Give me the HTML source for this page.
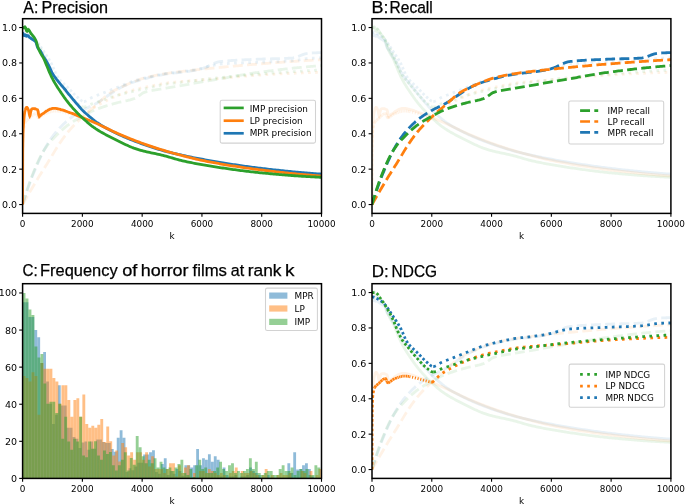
<!DOCTYPE html>
<html lang="en"><head><meta charset="utf-8"><title>Precision, Recall, Frequency, NDCG</title>
<style>html,body{margin:0;padding:0;background:#fff}svg{display:block}</style></head>
<body>
<svg width="685" height="504" viewBox="0 0 685 504" style="display:block">
<rect width="685" height="504" fill="#fff"/>
<defs>
<clipPath id="clipA"><rect x="22.6" y="18.7" width="298.9" height="194.7"/></clipPath>
<clipPath id="clipB"><rect x="372.0" y="18.7" width="298.9" height="194.7"/></clipPath>
<clipPath id="clipC"><rect x="22.6" y="283.7" width="298.9" height="194.7"/></clipPath>
<clipPath id="clipD"><rect x="372.0" y="283.7" width="298.9" height="194.7"/></clipPath>
</defs>
<g font-family="DejaVu Sans, Liberation Sans, sans-serif" font-size="8.85" fill="#000">
<g clip-path="url(#clipA)" fill="none" stroke-width="2.8">
<path d="M22.60,204.55 22.72,204.17 22.84,203.79 22.96,203.41 23.08,203.03 23.20,202.65 23.32,202.28 23.44,201.90 23.56,201.52 23.68,201.15 23.80,200.77 23.92,200.40 24.03,200.03 24.15,199.66 24.27,199.28 24.39,198.91 24.51,198.54 24.63,198.18 24.75,197.81 24.87,197.44 24.99,197.07 25.11,196.71 25.23,196.34 25.35,195.98 25.47,195.62 25.59,195.25 25.71,194.89 25.83,194.53 25.95,194.17 26.07,193.81 26.19,193.46 26.31,193.10 26.43,192.74 26.55,192.39 26.67,192.03 26.78,191.68 26.90,191.33 27.02,190.98 27.14,190.62 27.26,190.27 27.38,189.93 27.50,189.58 27.62,189.23 27.74,188.89 27.86,188.54 27.98,188.20 28.10,187.85 28.22,187.51 28.34,187.17 28.46,186.83 28.58,186.49 28.70,186.15 28.82,185.82 28.94,185.48 29.06,185.15 29.18,184.81 29.30,184.48 29.41,184.15 29.53,183.82 29.65,183.49 29.77,183.16 29.89,182.83 30.01,182.51 30.13,182.18 30.25,181.86 30.37,181.54 30.49,181.22 30.61,180.90 30.73,180.58 30.85,180.26 30.97,179.94 31.09,179.62 31.21,179.31 31.33,179.00 31.45,178.68 31.57,178.37 32.16,176.84 32.76,175.33 33.36,173.83 33.96,172.36 34.56,170.89 35.15,169.45 35.75,168.02 36.35,166.61 36.95,165.22 37.55,163.84 38.14,162.49 38.74,161.15 39.34,159.84 39.94,158.54 40.53,157.26 41.13,156.01 41.73,154.78 42.33,153.57 42.93,152.38 43.52,151.21 44.12,150.07 44.72,148.95 45.32,147.85 45.91,146.76 46.51,145.69 47.11,144.65 47.71,143.62 48.31,142.62 48.90,141.65 49.50,140.71 50.10,139.81 50.70,138.94 51.29,138.10 51.89,137.30 52.49,136.52 53.09,135.74 53.69,134.98 54.28,134.23 54.88,133.49 55.48,132.76 56.08,132.05 56.67,131.34 57.27,130.65 57.87,129.97 58.47,129.30 59.07,128.64 59.66,127.99 60.26,127.36 60.86,126.73 61.46,126.12 62.05,125.51 62.65,124.92 63.25,124.34 63.85,123.77 64.45,123.21 65.04,122.66 65.64,122.12 66.24,121.59 66.84,121.07 67.44,120.56 68.03,120.07 68.63,119.58 69.23,119.10 69.83,118.64 70.42,118.18 71.02,117.73 71.62,117.29 72.22,116.86 72.82,116.43 73.41,116.02 74.01,115.61 74.61,115.21 75.21,114.81 75.80,114.42 76.40,114.04 77.00,113.66 77.60,113.29 78.20,112.92 78.79,112.55 79.39,112.19 79.99,111.84 80.59,111.48 81.18,111.13 81.78,110.78 82.38,110.44 82.98,110.10 83.58,109.77 84.17,109.44 84.77,109.13 85.37,108.82 85.97,108.52 86.56,108.22 87.16,107.93 87.76,107.64 88.36,107.36 88.96,107.08 89.55,106.79 90.15,106.51 90.75,106.23 91.35,105.94 91.94,105.66 92.54,105.37 93.14,105.07 93.74,104.77 94.34,104.46 94.93,104.15 95.53,103.83 96.13,103.50 96.73,103.16 97.32,102.81 98.82,101.90 100.31,100.92 101.81,99.91 103.30,98.87 104.80,97.82 106.29,96.77 107.79,95.73 109.28,94.72 110.78,93.76 112.27,92.82 113.76,91.87 115.26,90.92 116.75,89.98 118.25,89.06 119.74,88.17 121.24,87.31 122.73,86.51 124.23,85.78 125.72,85.11 127.21,84.49 128.71,83.90 130.20,83.33 131.70,82.79 133.19,82.26 134.69,81.76 136.18,81.28 137.68,80.82 139.17,80.37 140.67,79.93 142.16,79.51 143.65,79.10 145.15,78.69 146.64,78.29 148.14,77.90 149.63,77.51 151.13,77.13 152.62,76.76 154.12,76.40 155.61,76.05 157.10,75.71 158.60,75.39 160.09,75.08 161.59,74.79 163.08,74.52 164.58,74.27 166.07,74.04 167.57,73.83 169.06,73.63 170.56,73.46 172.05,73.29 173.54,73.13 175.04,72.97 176.53,72.81 178.03,72.64 179.52,72.47 181.02,72.29 182.51,72.10 184.01,71.92 185.50,71.73 187.00,71.53 188.49,71.31 189.98,71.08 191.48,70.84 192.97,70.58 194.47,70.31 195.96,70.02 197.46,69.71 198.95,69.38 200.45,69.03 201.94,68.65 203.43,68.17 204.93,67.60 206.42,66.96 207.92,66.27 209.41,65.56 210.91,64.84 212.40,64.13 213.90,63.47 215.39,62.86 216.88,62.33 218.38,61.91 219.87,61.61 221.37,61.43 222.86,61.27 224.36,61.12 225.85,60.97 227.35,60.84 228.84,60.72 230.34,60.60 231.83,60.49 233.32,60.38 234.82,60.29 236.31,60.20 237.81,60.11 239.30,60.03 240.80,59.95 242.29,59.88 243.79,59.81 245.28,59.74 246.77,59.67 248.27,59.61 249.76,59.55 251.26,59.49 252.75,59.43 254.25,59.36 255.74,59.30 257.24,59.24 258.73,59.17 260.23,59.11 261.72,59.06 263.21,59.01 264.71,58.96 266.20,58.92 267.70,58.88 269.19,58.84 270.69,58.81 272.18,58.77 273.68,58.74 275.17,58.71 276.66,58.67 278.16,58.63 279.65,58.59 281.15,58.54 282.64,58.49 284.14,58.44 285.63,58.38 287.13,58.31 288.62,58.23 290.12,58.15 291.61,58.05 293.10,57.90 294.60,57.61 296.09,57.19 297.59,56.68 299.08,56.11 300.58,55.52 302.07,54.93 303.57,54.38 305.06,53.90 306.56,53.52 308.05,53.27 309.54,53.15 311.04,53.06 312.53,52.97 314.03,52.89 315.52,52.82 317.02,52.76 318.51,52.72 320.01,52.69 321.50,52.68" stroke="#1f77b4" stroke-opacity="0.1" stroke-dasharray="9.92 4.29"/>
<path d="M22.60,204.55 22.72,204.34 22.84,204.13 22.96,203.92 23.08,203.70 23.20,203.49 23.32,203.28 23.44,203.07 23.56,202.86 23.68,202.65 23.80,202.44 23.92,202.23 24.03,202.02 24.15,201.81 24.27,201.60 24.39,201.39 24.51,201.18 24.63,200.97 24.75,200.76 24.87,200.55 24.99,200.34 25.11,200.13 25.23,199.92 25.35,199.71 25.47,199.50 25.59,199.30 25.71,199.09 25.83,198.88 25.95,198.67 26.07,198.46 26.19,198.25 26.31,198.05 26.43,197.84 26.55,197.63 26.67,197.42 26.78,197.21 26.90,197.01 27.02,196.80 27.14,196.59 27.26,196.39 27.38,196.18 27.50,195.97 27.62,195.76 27.74,195.56 27.86,195.35 27.98,195.14 28.10,194.94 28.22,194.73 28.34,194.53 28.46,194.32 28.58,194.11 28.70,193.91 28.82,193.70 28.94,193.50 29.06,193.29 29.18,193.09 29.30,192.88 29.41,192.68 29.53,192.47 29.65,192.27 29.77,192.06 29.89,191.86 30.01,191.65 30.13,191.45 30.25,191.24 30.37,191.04 30.49,190.84 30.61,190.63 30.73,190.43 30.85,190.23 30.97,190.02 31.09,189.82 31.21,189.62 31.33,189.41 31.45,189.21 31.57,189.01 32.16,187.99 32.76,186.98 33.36,185.98 33.96,184.97 34.56,183.97 35.15,182.97 35.75,181.97 36.35,180.98 36.95,179.99 37.55,179.00 38.14,178.02 38.74,177.05 39.34,176.08 39.94,175.11 40.53,174.15 41.13,173.19 41.73,172.24 42.33,171.29 42.93,170.34 43.52,169.39 44.12,168.44 44.72,167.50 45.32,166.55 45.91,165.60 46.51,164.65 47.11,163.69 47.71,162.74 48.31,161.78 48.90,160.82 49.50,159.85 50.10,158.86 50.70,157.87 51.29,156.88 51.89,155.88 52.49,154.87 53.09,153.87 53.69,152.86 54.28,151.86 54.88,150.87 55.48,149.89 56.08,148.91 56.67,147.95 57.27,147.01 57.87,146.08 58.47,145.17 59.07,144.28 59.66,143.39 60.26,142.51 60.86,141.64 61.46,140.77 62.05,139.91 62.65,139.06 63.25,138.23 63.85,137.40 64.45,136.58 65.04,135.78 65.64,134.99 66.24,134.21 66.84,133.45 67.44,132.71 68.03,131.98 68.63,131.27 69.23,130.57 69.83,129.88 70.42,129.20 71.02,128.53 71.62,127.86 72.22,127.21 72.82,126.57 73.41,125.93 74.01,125.30 74.61,124.67 75.21,124.06 75.80,123.45 76.40,122.84 77.00,122.24 77.60,121.65 78.20,121.06 78.79,120.47 79.39,119.89 79.99,119.31 80.59,118.74 81.18,118.16 81.78,117.59 82.38,117.02 82.98,116.45 83.58,115.89 84.17,115.34 84.77,114.79 85.37,114.24 85.97,113.70 86.56,113.17 87.16,112.64 87.76,112.11 88.36,111.59 88.96,111.07 89.55,110.55 90.15,110.03 90.75,109.52 91.35,109.01 91.94,108.50 92.54,107.99 93.14,107.48 93.74,106.97 94.34,106.46 94.93,105.95 95.53,105.44 96.13,104.93 96.73,104.42 97.32,103.90 98.82,102.58 100.31,101.22 101.81,99.85 103.30,98.49 104.80,97.16 106.29,95.88 107.79,94.66 109.28,93.54 110.78,92.52 112.27,91.61 113.76,90.75 115.26,89.94 116.75,89.17 118.25,88.44 119.74,87.74 121.24,87.07 122.73,86.41 124.23,85.76 125.72,85.11 127.21,84.46 128.71,83.82 130.20,83.18 131.70,82.55 133.19,81.94 134.69,81.34 136.18,80.76 137.68,80.19 139.17,79.66 140.67,79.15 142.16,78.67 143.65,78.22 145.15,77.81 146.64,77.42 148.14,77.04 149.63,76.68 151.13,76.33 152.62,75.99 154.12,75.67 155.61,75.37 157.10,75.07 158.60,74.79 160.09,74.51 161.59,74.25 163.08,74.00 164.58,73.76 166.07,73.52 167.57,73.30 169.06,73.09 170.56,72.89 172.05,72.69 173.54,72.50 175.04,72.31 176.53,72.13 178.03,71.95 179.52,71.76 181.02,71.58 182.51,71.40 184.01,71.23 185.50,71.05 187.00,70.88 188.49,70.70 189.98,70.53 191.48,70.37 192.97,70.20 194.47,70.04 195.96,69.87 197.46,69.71 198.95,69.55 200.45,69.39 201.94,69.24 203.43,69.08 204.93,68.93 206.42,68.77 207.92,68.62 209.41,68.47 210.91,68.32 212.40,68.17 213.90,68.02 215.39,67.88 216.88,67.73 218.38,67.58 219.87,67.44 221.37,67.30 222.86,67.15 224.36,67.01 225.85,66.87 227.35,66.73 228.84,66.59 230.34,66.45 231.83,66.31 233.32,66.17 234.82,66.04 236.31,65.90 237.81,65.77 239.30,65.63 240.80,65.50 242.29,65.37 243.79,65.24 245.28,65.11 246.77,64.98 248.27,64.86 249.76,64.73 251.26,64.61 252.75,64.48 254.25,64.36 255.74,64.24 257.24,64.12 258.73,64.00 260.23,63.89 261.72,63.77 263.21,63.65 264.71,63.54 266.20,63.42 267.70,63.31 269.19,63.19 270.69,63.08 272.18,62.97 273.68,62.85 275.17,62.74 276.66,62.63 278.16,62.52 279.65,62.41 281.15,62.30 282.64,62.19 284.14,62.09 285.63,61.98 287.13,61.87 288.62,61.77 290.12,61.66 291.61,61.56 293.10,61.45 294.60,61.35 296.09,61.25 297.59,61.15 299.08,61.05 300.58,60.95 302.07,60.85 303.57,60.75 305.06,60.66 306.56,60.56 308.05,60.47 309.54,60.37 311.04,60.28 312.53,60.19 314.03,60.10 315.52,60.01 317.02,59.92 318.51,59.83 320.01,59.74 321.50,59.66" stroke="#ff7f0e" stroke-opacity="0.1" stroke-dasharray="9.92 4.29"/>
<path d="M22.60,204.55 22.72,204.14 22.84,203.73 22.96,203.32 23.08,202.91 23.20,202.50 23.32,202.09 23.44,201.68 23.56,201.28 23.68,200.87 23.80,200.47 23.92,200.07 24.03,199.67 24.15,199.27 24.27,198.87 24.39,198.47 24.51,198.07 24.63,197.67 24.75,197.28 24.87,196.89 24.99,196.49 25.11,196.10 25.23,195.71 25.35,195.32 25.47,194.93 25.59,194.54 25.71,194.16 25.83,193.77 25.95,193.39 26.07,193.01 26.19,192.63 26.31,192.25 26.43,191.87 26.55,191.49 26.67,191.11 26.78,190.74 26.90,190.37 27.02,189.99 27.14,189.62 27.26,189.25 27.38,188.89 27.50,188.52 27.62,188.15 27.74,187.79 27.86,187.43 27.98,187.07 28.10,186.71 28.22,186.35 28.34,185.99 28.46,185.64 28.58,185.28 28.70,184.93 28.82,184.58 28.94,184.23 29.06,183.88 29.18,183.54 29.30,183.19 29.41,182.85 29.53,182.51 29.65,182.17 29.77,181.83 29.89,181.49 30.01,181.16 30.13,180.82 30.25,180.49 30.37,180.16 30.49,179.83 30.61,179.51 30.73,179.18 30.85,178.86 30.97,178.54 31.09,178.22 31.21,177.90 31.33,177.58 31.45,177.27 31.57,176.95 32.16,175.42 32.76,173.92 33.36,172.44 33.96,170.97 34.56,169.52 35.15,168.09 35.75,166.68 36.35,165.29 36.95,163.92 37.55,162.58 38.14,161.27 38.74,159.98 39.34,158.73 39.94,157.51 40.53,156.32 41.13,155.16 41.73,154.05 42.33,152.97 42.93,151.94 43.52,150.95 44.12,150.00 44.72,149.10 45.32,148.22 45.91,147.37 46.51,146.55 47.11,145.75 47.71,144.98 48.31,144.22 48.90,143.49 49.50,142.77 50.10,142.08 50.70,141.39 51.29,140.72 51.89,140.07 52.49,139.42 53.09,138.79 53.69,138.16 54.28,137.54 54.88,136.92 55.48,136.31 56.08,135.70 56.67,135.10 57.27,134.49 57.87,133.90 58.47,133.31 59.07,132.73 59.66,132.15 60.26,131.58 60.86,131.02 61.46,130.47 62.05,129.92 62.65,129.39 63.25,128.86 63.85,128.34 64.45,127.84 65.04,127.34 65.64,126.85 66.24,126.37 66.84,125.91 67.44,125.45 68.03,125.01 68.63,124.58 69.23,124.15 69.83,123.74 70.42,123.33 71.02,122.93 71.62,122.54 72.22,122.15 72.82,121.77 73.41,121.40 74.01,121.03 74.61,120.67 75.21,120.31 75.80,119.96 76.40,119.61 77.00,119.26 77.60,118.92 78.20,118.58 78.79,118.25 79.39,117.92 79.99,117.59 80.59,117.26 81.18,116.93 81.78,116.60 82.38,116.28 82.98,115.95 83.58,115.62 84.17,115.30 84.77,114.97 85.37,114.65 85.97,114.33 86.56,114.01 87.16,113.69 87.76,113.37 88.36,113.06 88.96,112.75 89.55,112.45 90.15,112.14 90.75,111.85 91.35,111.55 91.94,111.26 92.54,110.98 93.14,110.70 93.74,110.43 94.34,110.16 94.93,109.91 95.53,109.65 96.13,109.41 96.73,109.17 97.32,108.94 98.82,108.38 100.31,107.84 101.81,107.33 103.30,106.83 104.80,106.35 106.29,105.89 107.79,105.43 109.28,104.99 110.78,104.56 112.27,104.14 113.76,103.71 115.26,103.30 116.75,102.89 118.25,102.51 119.74,102.16 121.24,101.84 122.73,101.52 124.23,101.21 125.72,100.90 127.21,100.57 128.71,100.22 130.20,99.84 131.70,99.42 133.19,98.95 134.69,98.43 136.18,97.74 137.68,96.77 139.17,95.66 140.67,94.52 142.16,93.47 143.65,92.64 145.15,92.12 146.64,91.70 148.14,91.32 149.63,90.98 151.13,90.68 152.62,90.40 154.12,90.14 155.61,89.90 157.10,89.66 158.60,89.43 160.09,89.20 161.59,88.96 163.08,88.70 164.58,88.42 166.07,88.15 167.57,87.88 169.06,87.62 170.56,87.36 172.05,87.10 173.54,86.84 175.04,86.58 176.53,86.32 178.03,86.07 179.52,85.81 181.02,85.55 182.51,85.29 184.01,85.03 185.50,84.77 187.00,84.51 188.49,84.26 189.98,84.00 191.48,83.74 192.97,83.49 194.47,83.23 195.96,82.97 197.46,82.72 198.95,82.46 200.45,82.21 201.94,81.95 203.43,81.70 204.93,81.44 206.42,81.19 207.92,80.93 209.41,80.68 210.91,80.42 212.40,80.17 213.90,79.91 215.39,79.65 216.88,79.39 218.38,79.13 219.87,78.86 221.37,78.60 222.86,78.33 224.36,78.06 225.85,77.79 227.35,77.51 228.84,77.24 230.34,76.97 231.83,76.70 233.32,76.43 234.82,76.16 236.31,75.89 237.81,75.63 239.30,75.37 240.80,75.11 242.29,74.85 243.79,74.59 245.28,74.34 246.77,74.10 248.27,73.86 249.76,73.62 251.26,73.39 252.75,73.16 254.25,72.94 255.74,72.72 257.24,72.52 258.73,72.32 260.23,72.12 261.72,71.92 263.21,71.73 264.71,71.53 266.20,71.34 267.70,71.15 269.19,70.96 270.69,70.77 272.18,70.58 273.68,70.39 275.17,70.21 276.66,70.03 278.16,69.85 279.65,69.67 281.15,69.49 282.64,69.32 284.14,69.14 285.63,68.97 287.13,68.80 288.62,68.64 290.12,68.47 291.61,68.31 293.10,68.15 294.60,67.99 296.09,67.84 297.59,67.68 299.08,67.53 300.58,67.38 302.07,67.24 303.57,67.10 305.06,66.96 306.56,66.82 308.05,66.68 309.54,66.55 311.04,66.42 312.53,66.30 314.03,66.17 315.52,66.05 317.02,65.94 318.51,65.82 320.01,65.71 321.50,65.60" stroke="#2ca02c" stroke-opacity="0.1" stroke-dasharray="9.92 4.29"/>
<path d="M22.60,31.80 22.72,31.81 22.84,31.83 22.96,31.84 23.08,31.86 23.20,31.88 23.32,31.91 23.44,31.93 23.56,31.95 23.68,31.98 23.80,32.01 23.92,32.04 24.03,32.07 24.15,32.10 24.27,32.13 24.39,32.16 24.51,32.20 24.63,32.24 24.75,32.28 24.87,32.31 24.99,32.36 25.11,32.40 25.23,32.44 25.35,32.48 25.47,32.53 25.59,32.58 25.71,32.62 25.83,32.67 25.95,32.72 26.07,32.77 26.19,32.83 26.31,32.88 26.43,32.93 26.55,32.99 26.67,33.04 26.78,33.10 26.90,33.16 27.02,33.22 27.14,33.28 27.26,33.34 27.38,33.40 27.50,33.46 27.62,33.53 27.74,33.59 27.86,33.66 27.98,33.72 28.10,33.79 28.22,33.86 28.34,33.93 28.46,34.00 28.58,34.07 28.70,34.14 28.82,34.21 28.94,34.28 29.06,34.35 29.18,34.42 29.30,34.50 29.41,34.57 29.53,34.65 29.65,34.72 29.77,34.80 29.89,34.88 30.01,34.95 30.13,35.03 30.25,35.11 30.37,35.19 30.49,35.27 30.61,35.35 30.73,35.43 30.85,35.51 30.97,35.59 31.09,35.67 31.21,35.75 31.33,35.83 31.45,35.91 31.57,35.99 32.16,36.41 32.76,36.84 33.36,37.33 33.96,37.88 34.56,38.48 35.15,39.13 35.75,39.83 36.35,40.57 36.95,41.35 37.55,42.16 38.14,42.99 38.74,43.86 39.34,44.74 39.94,45.64 40.53,46.55 41.13,47.47 41.73,48.39 42.33,49.31 42.93,50.23 43.52,51.13 44.12,52.02 44.72,52.90 45.32,53.78 45.91,54.67 46.51,55.57 47.11,56.49 47.71,57.42 48.31,58.37 48.90,59.34 49.50,60.34 50.10,61.36 50.70,62.42 51.29,63.51 51.89,64.65 52.49,65.91 53.09,67.25 53.69,68.64 54.28,70.05 54.88,71.44 55.48,72.76 56.08,74.00 56.67,75.12 57.27,76.20 57.87,77.21 58.47,78.11 59.07,78.89 59.66,79.63 60.26,80.32 60.86,80.98 61.46,81.61 62.05,82.21 62.65,82.79 63.25,83.35 63.85,83.90 64.45,84.44 65.04,84.98 65.64,85.52 66.24,86.06 66.84,86.61 67.44,87.18 68.03,87.76 68.63,88.36 69.23,88.98 69.83,89.60 70.42,90.24 71.02,90.87 71.62,91.51 72.22,92.15 72.82,92.78 73.41,93.41 74.01,94.03 74.61,94.63 75.21,95.22 75.80,95.79 76.40,96.34 77.00,96.87 77.60,97.37 78.20,97.86 78.79,98.40 79.39,98.94 79.99,99.49 80.59,100.01 81.18,100.49 81.78,100.90 82.38,101.22 82.98,101.44 83.58,101.53 83.87,101.53" stroke="#1f77b4" stroke-opacity="0.1" stroke-dasharray="2.5 2.3"/>
<path d="M83.87,101.53 84.17,101.51 84.77,101.40 85.37,101.22 85.97,100.98 86.56,100.69 87.16,100.37 87.76,100.01 88.36,99.63 88.96,99.24 89.55,98.85 90.15,98.48 90.75,98.12 91.35,97.78 91.94,97.49 92.54,97.23 93.14,96.97 93.74,96.72 94.34,96.47 94.93,96.22 95.53,95.98 96.13,95.74 96.73,95.50 97.32,95.26 98.82,94.68 100.31,94.10 101.81,93.52 103.30,92.94 104.80,92.34 106.29,91.74 107.79,91.13 109.28,90.53 110.78,89.93 112.27,89.33 113.76,88.73 115.26,88.14 116.75,87.55 118.25,86.96 119.74,86.35 121.24,85.74 122.73,85.13 124.23,84.53 125.72,83.93 127.21,83.34 128.71,82.77 130.20,82.22 131.70,81.69 133.19,81.19 134.69,80.71 136.18,80.27 137.68,79.84 139.17,79.43 140.67,79.03 142.16,78.64 143.65,78.26 145.15,77.90 146.64,77.54 148.14,77.19 149.63,76.85 151.13,76.51 152.62,76.17 154.12,75.84 155.61,75.50 157.10,75.16 158.60,74.83 160.09,74.50 161.59,74.19 163.08,73.91 164.58,73.65 166.07,73.42 167.57,73.22 169.06,73.04 170.56,72.87 172.05,72.72 173.54,72.57 175.04,72.42 176.53,72.27 178.03,72.11 179.52,71.94 181.02,71.76 182.51,71.57 184.01,71.38 185.50,71.18 187.00,70.98 188.49,70.77 189.98,70.56 191.48,70.33 192.97,70.10 194.47,69.86 195.96,69.61 197.46,69.35 198.95,69.04 200.45,68.69 201.94,68.31 203.43,67.91 204.93,67.50 206.42,67.08 207.92,66.65 209.41,66.23 210.91,65.82 212.40,65.44 213.90,65.08 215.39,64.76 216.88,64.47 218.38,64.24 219.87,64.06 221.37,63.94 222.86,63.83 224.36,63.72 225.85,63.62 227.35,63.53 228.84,63.44 230.34,63.36 231.83,63.28 233.32,63.21 234.82,63.14 236.31,63.08 237.81,63.02 239.30,62.96 240.80,62.90 242.29,62.85 243.79,62.79 245.28,62.74 246.77,62.69 248.27,62.64 249.76,62.59 251.26,62.53 252.75,62.48 254.25,62.42 255.74,62.36 257.24,62.30 258.73,62.24 260.23,62.17 261.72,62.11 263.21,62.06 264.71,62.00 266.20,61.95 267.70,61.90 269.19,61.85 270.69,61.80 272.18,61.75 273.68,61.70 275.17,61.64 276.66,61.59 278.16,61.54 279.65,61.48 281.15,61.42 282.64,61.35 284.14,61.28 285.63,61.21 287.13,61.13 288.62,61.04 290.12,60.95 291.61,60.85 293.10,60.73 294.60,60.56 296.09,60.34 297.59,60.09 299.08,59.82 300.58,59.55 302.07,59.28 303.57,59.02 305.06,58.80 306.56,58.61 308.05,58.47 309.54,58.39 311.04,58.31 312.53,58.24 314.03,58.17 315.52,58.11 317.02,58.06 318.51,58.03 320.01,58.00 321.50,57.99" stroke="#1f77b4" stroke-opacity="0.1" stroke-dasharray="2.68 4.42"/>
<path d="M22.60,204.55 22.72,151.45 22.84,144.60 22.96,139.53 23.08,135.93 23.20,133.48 23.32,131.84 23.44,130.70 23.56,129.74 23.68,128.86 23.80,128.06 23.92,127.33 24.03,126.66 24.15,126.05 24.27,125.51 24.39,125.01 24.51,124.57 24.63,124.17 24.75,123.81 24.87,123.49 24.99,123.19 25.11,122.93 25.23,122.69 25.29,122.58" stroke="#ff7f0e" stroke-opacity="0.1" stroke-dasharray="2.68 2.1"/>
<path d="M25.29,122.58 25.35,122.47 25.47,122.27 25.59,122.08 25.71,121.89 25.83,121.72 25.95,121.55 26.07,121.39 26.19,121.24 26.31,121.10 26.43,120.96 26.55,120.83 26.67,120.71 26.78,120.59 26.90,120.48 27.02,120.37 27.14,120.26 27.26,120.16 27.38,120.06 27.50,119.97 27.62,119.87 27.74,119.78 27.86,119.69 27.98,119.60 28.10,119.51 28.22,119.41 28.34,119.32 28.46,119.23 28.58,119.13 28.70,119.03 28.82,118.93 28.94,118.83 29.06,118.72 29.18,118.62 29.30,118.51 29.41,118.40 29.53,118.28 29.65,118.17 29.77,118.06 29.89,117.94 30.01,117.82 30.13,117.71 30.25,117.59 30.37,117.47 30.49,117.35 30.61,117.23 30.73,117.11 30.85,117.00 30.97,116.88 31.09,116.76 31.21,116.64 31.33,116.52 31.45,116.40 31.57,116.29 32.16,115.72 32.76,115.19 33.36,114.70 33.96,114.29 34.56,113.95 35.15,113.71 35.75,113.59 36.35,113.75 36.95,114.92 37.55,116.48 37.69,116.83" stroke="#ff7f0e" stroke-opacity="0.1" stroke-dasharray="2.4 0.4"/>
<path d="M37.69,116.83 38.14,117.64 38.74,117.80" stroke="#ff7f0e" stroke-opacity="0.1" stroke-dasharray="2.68 4.42"/>
<path d="M38.74,117.80 39.34,117.64 39.94,117.35 40.53,116.96 41.13,116.51 41.73,116.01 42.33,115.51 42.93,115.02 43.52,114.59 44.12,114.24 44.72,113.98 45.32,113.74 45.91,113.50 46.51,113.26 47.11,113.02 47.71,112.79 48.01,112.68" stroke="#ff7f0e" stroke-opacity="0.1" stroke-dasharray="2.2 0.5"/>
<path d="M48.01,112.68 48.31,112.57 48.90,112.35 49.50,112.15 50.10,111.96 50.70,111.78 51.29,111.62 51.89,111.48 52.49,111.35 53.09,111.25 53.69,111.17 54.28,111.12 54.88,111.10 55.48,111.10 56.08,111.12 56.67,111.15 57.27,111.21 57.87,111.27 58.47,111.35 59.07,111.44 59.66,111.55 59.96,111.60" stroke="#ff7f0e" stroke-opacity="0.1" stroke-dasharray="1.3 0.45"/>
<path d="M59.96,111.60 60.26,111.66 60.86,111.78 61.46,111.91 62.05,112.05 62.65,112.19 63.25,112.33 63.85,112.48 64.45,112.63 65.04,112.79 65.64,112.94 66.24,113.09 66.84,113.24 67.44,113.38 68.03,113.52 68.63,113.66 69.23,113.81 69.83,113.97 70.42,114.14 71.02,114.31 71.62,114.49 72.22,114.67 72.82,114.85 73.41,115.03 74.01,115.22 74.61,115.39 75.21,115.57 75.80,115.74 76.40,115.90 77.00,116.05 77.60,116.19 78.20,116.32 78.79,116.47 79.39,116.62 79.99,116.76 80.59,116.89 81.18,117.00 81.78,117.07 82.38,117.11" stroke="#ff7f0e" stroke-opacity="0.1" stroke-dasharray="1.1 1.7"/>
<path d="M82.38,117.11 82.98,117.04 83.58,116.75 84.17,116.29 84.77,115.70 85.37,115.03 85.97,114.34 86.56,113.67 87.16,113.08 87.76,112.57 88.36,112.06 88.96,111.54 89.55,111.03 90.15,110.52 90.75,110.02 91.35,109.53 91.94,109.06 92.54,108.60 93.14,108.17 93.74,107.76 94.34,107.36 94.93,106.98 95.53,106.62 96.13,106.26 96.73,105.91 97.32,105.57 98.82,104.73 100.31,103.90 101.81,103.08 103.30,102.27 104.80,101.48 106.29,100.71 107.79,99.95 109.28,99.21 110.78,98.49 112.27,97.79 113.76,97.12 115.26,96.48 116.75,95.86 118.25,95.24 119.74,94.65 121.24,94.06 122.73,93.48 124.23,92.93 125.72,92.38 127.21,91.86 128.71,91.36 130.20,90.87 131.70,90.41 133.19,89.97 134.69,89.56 136.18,89.17 137.68,88.80 139.17,88.45 140.67,88.11 142.16,87.79 143.65,87.48 145.15,87.17 146.64,86.88 148.14,86.58 149.63,86.29 151.13,86.00 152.62,85.70 154.12,85.40 155.61,85.09 157.10,84.76 158.60,84.44 160.09,84.12 161.59,83.82 163.08,83.54 164.58,83.29 166.07,83.07 167.57,82.87 169.06,82.69 170.56,82.52 172.05,82.36 173.54,82.20 175.04,82.06 176.53,81.92 178.03,81.78 179.52,81.64 181.02,81.50 182.51,81.37 184.01,81.24 185.50,81.11 187.00,80.99 188.49,80.86 189.98,80.74 191.48,80.63 192.97,80.51 194.47,80.40 195.96,80.28 197.46,80.17 198.95,80.06 200.45,79.95 201.94,79.84 203.43,79.73 204.93,79.62 206.42,79.50 207.92,79.39 209.41,79.28 210.91,79.16 212.40,79.04 213.90,78.92 215.39,78.80 216.88,78.67 218.38,78.54 219.87,78.41 221.37,78.28 222.86,78.14 224.36,78.01 225.85,77.87 227.35,77.73 228.84,77.60 230.34,77.46 231.83,77.32 233.32,77.18 234.82,77.05 236.31,76.91 237.81,76.78 239.30,76.64 240.80,76.51 242.29,76.38 243.79,76.25 245.28,76.13 246.77,76.01 248.27,75.89 249.76,75.77 251.26,75.66 252.75,75.55 254.25,75.44 255.74,75.34 257.24,75.25 258.73,75.16 260.23,75.07 261.72,74.98 263.21,74.89 264.71,74.80 266.20,74.72 267.70,74.63 269.19,74.55 270.69,74.46 272.18,74.38 273.68,74.30 275.17,74.21 276.66,74.13 278.16,74.05 279.65,73.97 281.15,73.90 282.64,73.82 284.14,73.74 285.63,73.67 287.13,73.59 288.62,73.52 290.12,73.45 291.61,73.38 293.10,73.31 294.60,73.25 296.09,73.18 297.59,73.12 299.08,73.06 300.58,72.99 302.07,72.94 303.57,72.88 305.06,72.82 306.56,72.77 308.05,72.72 309.54,72.67 311.04,72.62 312.53,72.57 314.03,72.52 315.52,72.48 317.02,72.44 318.51,72.40 320.01,72.37 321.50,72.33" stroke="#ff7f0e" stroke-opacity="0.1" stroke-dasharray="2.68 4.42"/>
<path d="M22.60,27.55 22.72,27.55 22.84,27.55 22.96,27.55 23.08,27.55 23.20,27.55 23.32,27.55 23.44,27.55 23.56,27.55 23.68,27.55 23.80,27.55 23.92,27.55 24.03,27.55 24.15,27.55 24.27,27.55 24.39,27.55 24.51,27.55 24.63,27.55 24.75,27.55 24.87,27.55 24.99,27.55 25.11,27.55 25.23,27.55 25.35,27.55 25.47,27.55 25.59,27.55 25.71,27.55 25.83,27.57 25.95,27.59 26.07,27.62 26.19,27.65 26.31,27.70 26.43,27.75 26.55,27.81 26.67,27.88 26.78,27.95 26.90,28.03 27.02,28.12 27.14,28.21 27.26,28.31 27.38,28.41 27.50,28.52 27.62,28.64 27.74,28.76 27.86,28.88 27.98,29.01 28.10,29.15 28.22,29.29 28.34,29.43 28.46,29.58 28.58,29.73 28.70,29.89 28.82,30.04 28.94,30.21 29.06,30.37 29.18,30.54 29.30,30.71 29.41,30.88 29.53,31.05 29.65,31.23 29.77,31.41 29.89,31.59 30.01,31.77 30.13,31.95 30.25,32.13 30.37,32.31 30.49,32.50 30.61,32.68 30.73,32.87 30.85,33.05 30.97,33.23 31.09,33.42 31.21,33.60 31.33,33.78 31.45,33.96 31.57,34.14 32.16,35.01 32.76,35.83 33.36,36.67 33.96,37.53 34.56,38.41 35.15,39.31 35.75,40.24 36.35,41.20 36.95,42.17 37.55,43.17 38.14,44.20 38.74,45.25 39.34,46.32 39.94,47.41 40.53,48.53 41.13,49.68 41.73,50.85 42.33,52.04 42.93,53.26 43.52,54.51 44.12,55.77 44.72,57.11 45.32,58.62 45.91,60.23 46.51,61.85 47.11,63.38 47.71,64.76 48.31,66.11 48.90,67.43 49.50,68.72 50.10,69.97 50.70,71.18 51.29,72.33 51.89,73.41 52.49,74.43 53.09,75.36 53.69,76.24 54.28,77.07 54.88,77.85 55.48,78.60 56.08,79.33 56.67,80.05 57.27,80.76 57.87,81.47 58.47,82.20 59.07,82.94 59.66,83.68 60.26,84.43 60.86,85.17 61.46,85.91 62.05,86.65 62.65,87.38 63.25,88.11 63.85,88.83 64.45,89.55 65.04,90.26 65.64,90.96 66.24,91.66 66.84,92.34 67.44,93.01 68.03,93.67 68.63,94.33 69.23,94.99 69.83,95.64 70.42,96.30 71.02,96.96 71.62,97.61 72.22,98.25 72.82,98.89 73.41,99.51 74.01,100.11 74.61,100.70 75.21,101.27 75.80,101.82 76.40,102.34 77.00,102.84 77.60,103.30 78.20,103.76 78.79,104.25 79.39,104.74 79.99,105.22 80.59,105.69 81.18,106.10 81.78,106.47 82.38,106.75 82.98,106.94 83.58,107.02 83.87,107.02" stroke="#2ca02c" stroke-opacity="0.1" stroke-dasharray="2.5 2.3"/>
<path d="M83.87,107.02 84.17,107.00 84.77,106.92 85.37,106.78 85.97,106.60 86.56,106.37 87.16,106.12 87.76,105.84 88.36,105.55 88.96,105.25 89.55,104.94 90.15,104.64 90.75,104.36 91.35,104.10 91.94,103.86 92.54,103.64 93.14,103.43 93.74,103.22 94.34,103.01 94.93,102.80 95.53,102.60 96.13,102.39 96.73,102.19 97.32,101.99 98.82,101.49 100.31,100.98 101.81,100.48 103.30,99.98 104.80,99.47 106.29,98.94 107.79,98.41 109.28,97.88 110.78,97.35 112.27,96.83 113.76,96.34 115.26,95.87 116.75,95.44 118.25,95.01 119.74,94.61 121.24,94.21 122.73,93.83 124.23,93.45 125.72,93.09 127.21,92.73 128.71,92.37 130.20,92.02 131.70,91.67 133.19,91.32 134.69,90.97 136.18,90.61 137.68,90.27 139.17,89.93 140.67,89.59 142.16,89.25 143.65,88.92 145.15,88.59 146.64,88.26 148.14,87.93 149.63,87.61 151.13,87.28 152.62,86.96 154.12,86.64 155.61,86.30 157.10,85.96 158.60,85.61 160.09,85.27 161.59,84.95 163.08,84.64 164.58,84.37 166.07,84.13 167.57,83.91 169.06,83.72 170.56,83.54 172.05,83.37 173.54,83.21 175.04,83.05 176.53,82.89 178.03,82.73 179.52,82.56 181.02,82.38 182.51,82.20 184.01,82.01 185.50,81.82 187.00,81.62 188.49,81.42 189.98,81.23 191.48,81.03 192.97,80.83 194.47,80.63 195.96,80.43 197.46,80.23 198.95,80.03 200.45,79.83 201.94,79.64 203.43,79.44 204.93,79.25 206.42,79.07 207.92,78.89 209.41,78.71 210.91,78.54 212.40,78.37 213.90,78.21 215.39,78.06 216.88,77.90 218.38,77.75 219.87,77.60 221.37,77.45 222.86,77.30 224.36,77.15 225.85,77.01 227.35,76.87 228.84,76.72 230.34,76.59 231.83,76.45 233.32,76.31 234.82,76.18 236.31,76.04 237.81,75.91 239.30,75.78 240.80,75.65 242.29,75.52 243.79,75.39 245.28,75.27 246.77,75.14 248.27,75.02 249.76,74.90 251.26,74.77 252.75,74.65 254.25,74.53 255.74,74.42 257.24,74.30 258.73,74.18 260.23,74.06 261.72,73.95 263.21,73.83 264.71,73.72 266.20,73.60 267.70,73.49 269.19,73.38 270.69,73.26 272.18,73.15 273.68,73.04 275.17,72.93 276.66,72.82 278.16,72.71 279.65,72.60 281.15,72.49 282.64,72.39 284.14,72.28 285.63,72.18 287.13,72.07 288.62,71.97 290.12,71.86 291.61,71.76 293.10,71.66 294.60,71.56 296.09,71.46 297.59,71.36 299.08,71.26 300.58,71.16 302.07,71.07 303.57,70.97 305.06,70.88 306.56,70.78 308.05,70.69 309.54,70.60 311.04,70.51 312.53,70.42 314.03,70.33 315.52,70.25 317.02,70.16 318.51,70.07 320.01,69.99 321.50,69.91" stroke="#2ca02c" stroke-opacity="0.1" stroke-dasharray="2.68 4.42"/>
<path d="M22.60,32.82 22.72,33.03 22.84,33.11 22.96,33.56 23.08,33.86 23.20,34.15 23.32,34.36 23.44,34.37 23.56,34.65 23.68,34.95 23.80,35.09 23.92,35.24 24.03,35.13 24.15,35.25 24.27,35.39 24.39,35.40 24.51,35.50 24.63,35.55 24.75,35.56 24.87,35.42 24.99,35.66 25.11,35.71 25.23,35.47 25.35,35.37 25.47,35.40 25.59,35.52 25.71,35.43 25.83,35.40 25.95,35.52 26.07,35.31 26.19,35.37 26.31,35.47 26.43,35.57 26.55,35.64 26.67,35.58 26.78,35.72 26.90,35.61 27.02,35.59 27.14,35.64 27.26,35.63 27.38,35.77 27.50,35.74 27.62,35.69 27.74,35.76 27.86,35.76 27.98,35.87 28.10,36.06 28.22,36.06 28.34,36.17 28.46,36.22 28.58,36.19 28.70,36.41 28.82,36.49 28.94,36.72 29.06,36.85 29.18,37.00 29.30,37.18 29.41,37.26 29.53,37.36 29.65,37.46 29.77,37.48 29.89,37.55 30.01,37.56 30.13,37.66 30.25,37.73 30.37,37.93 30.49,38.00 30.61,38.01 30.73,38.19 30.85,38.35 30.97,38.39 31.09,38.51 31.21,38.63 31.33,38.75 31.45,38.79 31.57,38.89 32.16,39.25 32.76,39.61 33.36,39.94 33.96,40.38 34.56,40.75 35.15,41.30 35.75,41.87 36.35,43.32 36.95,45.61 37.55,47.48 38.14,48.48 38.74,49.24 39.34,49.76 39.94,50.33 40.53,51.11 41.13,52.11 41.73,53.30 42.33,54.51 42.93,55.73 43.52,56.77 44.12,57.63 44.72,58.53 45.32,59.42 45.91,60.29 46.51,61.35 47.11,62.41 47.71,63.58 48.31,64.72 48.90,65.85 49.50,67.06 50.10,68.40 50.70,69.81 51.29,71.14 51.89,72.42 52.49,73.55 53.09,74.48 53.69,75.41 54.28,76.25 54.88,77.10 55.48,77.87 56.08,78.69 56.67,79.51 57.27,80.25 57.87,80.99 58.47,81.74 59.07,82.45 59.66,83.23 60.26,83.90 60.86,84.60 61.46,85.30 62.05,85.96 62.65,86.65 63.25,87.33 63.85,88.03 64.45,88.80 65.04,89.47 65.64,90.22 66.24,91.02 66.84,91.76 67.44,92.56 68.03,93.29 68.63,94.08 69.23,94.76 69.83,95.43 70.42,96.21 71.02,96.94 71.62,97.64 72.22,98.37 72.82,99.06 73.41,99.78 74.01,100.49 74.61,101.25 75.21,101.98 75.80,102.65 76.40,103.31 77.00,104.02 77.60,104.69 78.20,105.40 78.79,106.09 79.39,106.78 79.99,107.44 80.59,108.13 81.18,108.82 81.78,109.48 82.38,110.10 82.98,110.73 83.58,111.32 84.17,111.89 84.77,112.43 85.37,113.00 85.97,113.52 86.56,114.04 87.16,114.54 87.76,115.05 88.36,115.56 88.96,116.08 89.55,116.58 90.15,117.06 90.75,117.55 91.35,118.04 91.94,118.54 92.54,119.08 93.14,119.57 93.74,120.05 94.34,120.51 94.93,121.01 95.53,121.48 96.13,121.94 96.73,122.38 97.32,122.79 98.82,123.77 100.31,124.73 101.81,125.64 103.30,126.54 104.80,127.39 106.29,128.24 107.79,129.05 109.28,129.84 110.78,130.62 112.27,131.37 113.76,132.10 115.26,132.82 116.75,133.54 118.25,134.23 119.74,134.91 121.24,135.57 122.73,136.24 124.23,136.88 125.72,137.51 127.21,138.13 128.71,138.76 130.20,139.36 131.70,139.96 133.19,140.55 134.69,141.13 136.18,141.70 137.68,142.26 139.17,142.81 140.67,143.35 142.16,143.88 143.65,144.42 145.15,144.94 146.64,145.45 148.14,145.96 149.63,146.46 151.13,146.95 152.62,147.44 154.12,147.92 155.61,148.39 157.10,148.85 158.60,149.31 160.09,149.76 161.59,150.19 163.08,150.62 164.58,151.03 166.07,151.43 167.57,151.82 169.06,152.20 170.56,152.56 172.05,152.92 173.54,153.27 175.04,153.61 176.53,153.95 178.03,154.29 179.52,154.62 181.02,154.95 182.51,155.28 184.01,155.61 185.50,155.93 187.00,156.25 188.49,156.57 189.98,156.89 191.48,157.20 192.97,157.51 194.47,157.81 195.96,158.11 197.46,158.40 198.95,158.69 200.45,158.96 201.94,159.24 203.43,159.50 204.93,159.77 206.42,160.04 207.92,160.30 209.41,160.56 210.91,160.82 212.40,161.08 213.90,161.34 215.39,161.60 216.88,161.85 218.38,162.10 219.87,162.35 221.37,162.60 222.86,162.85 224.36,163.09 225.85,163.33 227.35,163.57 228.84,163.81 230.34,164.05 231.83,164.28 233.32,164.52 234.82,164.74 236.31,164.97 237.81,165.20 239.30,165.42 240.80,165.64 242.29,165.86 243.79,166.07 245.28,166.28 246.77,166.49 248.27,166.70 249.76,166.90 251.26,167.10 252.75,167.29 254.25,167.49 255.74,167.68 257.24,167.87 258.73,168.05 260.23,168.23 261.72,168.41 263.21,168.59 264.71,168.76 266.20,168.93 267.70,169.10 269.19,169.27 270.69,169.44 272.18,169.61 273.68,169.78 275.17,169.94 276.66,170.10 278.16,170.26 279.65,170.42 281.15,170.58 282.64,170.74 284.14,170.89 285.63,171.05 287.13,171.20 288.62,171.35 290.12,171.50 291.61,171.64 293.10,171.79 294.60,171.93 296.09,172.07 297.59,172.21 299.08,172.34 300.58,172.47 302.07,172.61 303.57,172.74 305.06,172.86 306.56,172.99 308.05,173.11 309.54,173.23 311.04,173.35 312.53,173.47 314.03,173.58 315.52,173.69 317.02,173.80 318.51,173.90 320.01,174.01 321.50,174.11" stroke="#1f77b4"/>
<path d="M22.60,204.44 22.72,151.21 22.84,142.73 22.96,136.80 23.08,132.58 23.20,129.53 23.32,127.40 23.44,125.65 23.56,123.74 23.68,121.93 23.80,120.38 23.92,119.04 24.03,117.81 24.15,116.52 24.27,115.30 24.39,114.27 24.51,113.43 24.63,112.72 24.75,112.09 24.87,111.46 24.99,111.10 25.11,110.49 25.23,110.05 25.35,109.77 25.47,109.44 25.59,108.96 25.71,108.56 25.83,108.35 25.95,108.17 26.07,107.90 26.19,107.72 26.31,107.62 26.43,107.49 26.55,107.34 26.67,107.34 26.78,107.32 26.90,107.35 27.02,107.52 27.14,107.58 27.26,107.70 27.38,107.82 27.50,108.02 27.62,108.28 27.74,108.60 27.86,108.94 27.98,109.08 28.10,109.19 28.22,109.50 28.34,109.92 28.46,110.22 28.58,110.44 28.70,110.77 28.82,111.37 28.94,111.92 29.06,112.70 29.18,113.46 29.30,114.17 29.41,114.73 29.53,115.28 29.65,115.75 29.77,116.03 29.89,115.82 30.01,115.56 30.13,114.99 30.25,114.52 30.37,113.78 30.49,113.03 30.61,112.37 30.73,111.79 30.85,111.26 30.97,110.94 31.09,110.60 31.21,110.37 31.33,109.84 31.45,109.50 31.57,109.30 32.16,108.85 32.76,108.74 33.36,108.65 33.96,108.69 34.56,108.73 35.15,108.74 35.75,108.95 36.35,109.21 36.95,109.43 37.55,109.70 38.14,111.44 38.74,115.19 39.34,116.60 39.94,116.08 40.53,115.46 41.13,114.84 41.73,114.34 42.33,113.96 42.93,113.64 43.52,113.23 44.12,112.85 44.72,112.38 45.32,111.99 45.91,111.48 46.51,111.06 47.11,110.73 47.71,110.38 48.31,109.99 48.90,109.66 49.50,109.40 50.10,109.20 50.70,109.00 51.29,108.82 51.89,108.64 52.49,108.46 53.09,108.32 53.69,108.33 54.28,108.37 54.88,108.44 55.48,108.43 56.08,108.42 56.67,108.54 57.27,108.63 57.87,108.83 58.47,108.97 59.07,109.08 59.66,109.24 60.26,109.35 60.86,109.58 61.46,109.79 62.05,109.92 62.65,110.12 63.25,110.21 63.85,110.38 64.45,110.61 65.04,110.83 65.64,111.06 66.24,111.25 66.84,111.50 67.44,111.74 68.03,111.95 68.63,112.20 69.23,112.43 69.83,112.62 70.42,112.78 71.02,112.99 71.62,113.21 72.22,113.40 72.82,113.60 73.41,113.83 74.01,114.09 74.61,114.34 75.21,114.59 75.80,114.84 76.40,115.11 77.00,115.36 77.60,115.62 78.20,115.86 78.79,116.11 79.39,116.35 79.99,116.60 80.59,116.85 81.18,117.12 81.78,117.36 82.38,117.60 82.98,117.82 83.58,118.08 84.17,118.32 84.77,118.55 85.37,118.78 85.97,119.03 86.56,119.27 87.16,119.51 87.76,119.74 88.36,120.00 88.96,120.24 89.55,120.49 90.15,120.72 90.75,120.95 91.35,121.18 91.94,121.42 92.54,121.66 93.14,121.93 93.74,122.19 94.34,122.45 94.93,122.70 95.53,122.98 96.13,123.27 96.73,123.54 97.32,123.80 98.82,124.50 100.31,125.20 101.81,125.92 103.30,126.64 104.80,127.38 106.29,128.10 107.79,128.83 109.28,129.56 110.78,130.29 112.27,131.00 113.76,131.71 115.26,132.39 116.75,133.06 118.25,133.70 119.74,134.36 121.24,135.00 122.73,135.63 124.23,136.25 125.72,136.87 127.21,137.47 128.71,138.09 130.20,138.69 131.70,139.27 133.19,139.85 134.69,140.44 136.18,141.02 137.68,141.59 139.17,142.15 140.67,142.70 142.16,143.24 143.65,143.77 145.15,144.31 146.64,144.84 148.14,145.35 149.63,145.85 151.13,146.36 152.62,146.86 154.12,147.35 155.61,147.84 157.10,148.33 158.60,148.80 160.09,149.27 161.59,149.74 163.08,150.21 164.58,150.66 166.07,151.11 167.57,151.55 169.06,151.98 170.56,152.41 172.05,152.84 173.54,153.25 175.04,153.66 176.53,154.07 178.03,154.47 179.52,154.87 181.02,155.26 182.51,155.65 184.01,156.04 185.50,156.43 187.00,156.82 188.49,157.21 189.98,157.60 191.48,157.98 192.97,158.35 194.47,158.72 195.96,159.08 197.46,159.42 198.95,159.76 200.45,160.08 201.94,160.39 203.43,160.69 204.93,160.98 206.42,161.27 207.92,161.56 209.41,161.85 210.91,162.13 212.40,162.41 213.90,162.69 215.39,162.96 216.88,163.23 218.38,163.49 219.87,163.76 221.37,164.02 222.86,164.28 224.36,164.53 225.85,164.79 227.35,165.04 228.84,165.28 230.34,165.53 231.83,165.77 233.32,166.00 234.82,166.24 236.31,166.47 237.81,166.70 239.30,166.93 240.80,167.15 242.29,167.37 243.79,167.59 245.28,167.80 246.77,168.02 248.27,168.23 249.76,168.43 251.26,168.64 252.75,168.84 254.25,169.04 255.74,169.24 257.24,169.43 258.73,169.62 260.23,169.81 261.72,170.00 263.21,170.19 264.71,170.37 266.20,170.55 267.70,170.73 269.19,170.91 270.69,171.09 272.18,171.27 273.68,171.45 275.17,171.62 276.66,171.79 278.16,171.96 279.65,172.13 281.15,172.30 282.64,172.46 284.14,172.63 285.63,172.79 287.13,172.95 288.62,173.11 290.12,173.27 291.61,173.42 293.10,173.57 294.60,173.72 296.09,173.87 297.59,174.02 299.08,174.16 300.58,174.31 302.07,174.45 303.57,174.59 305.06,174.72 306.56,174.85 308.05,174.99 309.54,175.11 311.04,175.24 312.53,175.36 314.03,175.49 315.52,175.60 317.02,175.72 318.51,175.83 320.01,175.94 321.50,176.05" stroke="#ff7f0e"/>
<path d="M22.60,27.90 22.72,27.80 22.84,27.58 22.96,27.64 23.08,27.62 23.20,27.63 23.32,27.70 23.44,27.57 23.56,27.52 23.68,27.47 23.80,27.65 23.92,27.68 24.03,27.65 24.15,27.52 24.27,27.42 24.39,27.38 24.51,27.37 24.63,27.37 24.75,27.20 24.87,27.30 24.99,27.30 25.11,27.23 25.23,27.41 25.35,27.49 25.47,27.50 25.59,27.66 25.71,27.99 25.83,28.43 25.95,29.00 26.07,29.32 26.19,29.85 26.31,30.28 26.43,30.56 26.55,30.83 26.67,31.07 26.78,31.21 26.90,31.24 27.02,30.99 27.14,30.87 27.26,30.64 27.38,30.38 27.50,30.19 27.62,30.11 27.74,30.00 27.86,29.76 27.98,29.61 28.10,29.53 28.22,29.62 28.34,29.64 28.46,29.83 28.58,29.89 28.70,29.91 28.82,30.03 28.94,30.17 29.06,30.39 29.18,30.46 29.30,30.70 29.41,30.94 29.53,30.91 29.65,31.06 29.77,31.43 29.89,31.57 30.01,31.77 30.13,31.96 30.25,32.13 30.37,32.31 30.49,32.45 30.61,32.79 30.73,33.00 30.85,33.09 30.97,33.29 31.09,33.63 31.21,33.69 31.33,33.93 31.45,34.00 31.57,34.12 32.16,34.82 32.76,35.68 33.36,36.46 33.96,37.27 34.56,37.96 35.15,39.06 35.75,40.22 36.35,41.74 36.95,43.90 37.55,45.91 38.14,47.59 38.74,49.19 39.34,50.59 39.94,51.95 40.53,53.09 41.13,54.17 41.73,55.16 42.33,56.10 42.93,57.12 43.52,58.13 44.12,59.34 44.72,60.71 45.32,62.21 45.91,63.69 46.51,65.14 47.11,66.49 47.71,67.95 48.31,69.40 48.90,70.98 49.50,72.36 50.10,73.72 50.70,74.98 51.29,76.33 51.89,77.49 52.49,78.69 53.09,79.88 53.69,81.05 54.28,82.07 54.88,83.10 55.48,84.08 56.08,85.04 56.67,85.97 57.27,86.95 57.87,87.94 58.47,88.79 59.07,89.67 59.66,90.53 60.26,91.46 60.86,92.38 61.46,93.33 62.05,94.16 62.65,95.02 63.25,95.87 63.85,96.77 64.45,97.60 65.04,98.46 65.64,99.26 66.24,100.03 66.84,100.74 67.44,101.55 68.03,102.33 68.63,103.10 69.23,103.86 69.83,104.58 70.42,105.27 71.02,105.95 71.62,106.65 72.22,107.38 72.82,108.05 73.41,108.74 74.01,109.38 74.61,110.00 75.21,110.66 75.80,111.32 76.40,111.95 77.00,112.58 77.60,113.17 78.20,113.78 78.79,114.35 79.39,114.92 79.99,115.49 80.59,116.03 81.18,116.62 81.78,117.16 82.38,117.73 82.98,118.30 83.58,118.84 84.17,119.39 84.77,119.94 85.37,120.50 85.97,121.05 86.56,121.56 87.16,122.11 87.76,122.62 88.36,123.15 88.96,123.65 89.55,124.15 90.15,124.63 90.75,125.11 91.35,125.61 91.94,126.06 92.54,126.49 93.14,126.94 93.74,127.35 94.34,127.78 94.93,128.18 95.53,128.60 96.13,128.98 96.73,129.37 97.32,129.76 98.82,130.70 100.31,131.61 101.81,132.48 103.30,133.32 104.80,134.15 106.29,134.95 107.79,135.73 109.28,136.50 110.78,137.25 112.27,138.00 113.76,138.75 115.26,139.49 116.75,140.24 118.25,140.98 119.74,141.72 121.24,142.47 122.73,143.21 124.23,143.95 125.72,144.66 127.21,145.35 128.71,146.04 130.20,146.68 131.70,147.31 133.19,147.89 134.69,148.45 136.18,148.95 137.68,149.42 139.17,149.86 140.67,150.28 142.16,150.68 143.65,151.05 145.15,151.42 146.64,151.77 148.14,152.11 149.63,152.44 151.13,152.76 152.62,153.08 154.12,153.41 155.61,153.73 157.10,154.06 158.60,154.38 160.09,154.72 161.59,155.07 163.08,155.43 164.58,155.81 166.07,156.21 167.57,156.62 169.06,157.04 170.56,157.48 172.05,157.92 173.54,158.36 175.04,158.80 176.53,159.23 178.03,159.64 179.52,160.04 181.02,160.42 182.51,160.77 184.01,161.11 185.50,161.45 187.00,161.77 188.49,162.09 189.98,162.40 191.48,162.71 192.97,163.00 194.47,163.29 195.96,163.57 197.46,163.85 198.95,164.12 200.45,164.38 201.94,164.64 203.43,164.89 204.93,165.14 206.42,165.38 207.92,165.63 209.41,165.88 210.91,166.12 212.40,166.36 213.90,166.60 215.39,166.84 216.88,167.07 218.38,167.31 219.87,167.54 221.37,167.77 222.86,168.00 224.36,168.22 225.85,168.45 227.35,168.67 228.84,168.89 230.34,169.10 231.83,169.31 233.32,169.52 234.82,169.73 236.31,169.94 237.81,170.14 239.30,170.34 240.80,170.53 242.29,170.73 243.79,170.91 245.28,171.10 246.77,171.28 248.27,171.46 249.76,171.64 251.26,171.81 252.75,171.98 254.25,172.14 255.74,172.31 257.24,172.46 258.73,172.62 260.23,172.77 261.72,172.91 263.21,173.06 264.71,173.20 266.20,173.34 267.70,173.48 269.19,173.62 270.69,173.75 272.18,173.89 273.68,174.02 275.17,174.16 276.66,174.29 278.16,174.42 279.65,174.55 281.15,174.67 282.64,174.80 284.14,174.92 285.63,175.04 287.13,175.16 288.62,175.28 290.12,175.40 291.61,175.51 293.10,175.63 294.60,175.74 296.09,175.84 297.59,175.95 299.08,176.05 300.58,176.15 302.07,176.25 303.57,176.35 305.06,176.44 306.56,176.53 308.05,176.62 309.54,176.71 311.04,176.79 312.53,176.87 314.03,176.95 315.52,177.02 317.02,177.10 318.51,177.16 320.01,177.23 321.50,177.29" stroke="#2ca02c"/>
</g>
<line x1="22.60" y1="213.40" x2="22.60" y2="216.80" stroke="#000" stroke-width="1.1"/>
<text x="22.60" y="226.70" text-anchor="middle">0</text>
<line x1="82.38" y1="213.40" x2="82.38" y2="216.80" stroke="#000" stroke-width="1.1"/>
<text x="82.38" y="226.70" text-anchor="middle">2000</text>
<line x1="142.16" y1="213.40" x2="142.16" y2="216.80" stroke="#000" stroke-width="1.1"/>
<text x="142.16" y="226.70" text-anchor="middle">4000</text>
<line x1="201.94" y1="213.40" x2="201.94" y2="216.80" stroke="#000" stroke-width="1.1"/>
<text x="201.94" y="226.70" text-anchor="middle">6000</text>
<line x1="261.72" y1="213.40" x2="261.72" y2="216.80" stroke="#000" stroke-width="1.1"/>
<text x="261.72" y="226.70" text-anchor="middle">8000</text>
<line x1="321.50" y1="213.40" x2="321.50" y2="216.80" stroke="#000" stroke-width="1.1"/>
<text x="321.50" y="226.70" text-anchor="middle">10000</text>
<line x1="19.20" y1="204.55" x2="22.60" y2="204.55" stroke="#000" stroke-width="1.1"/>
<text x="17.00" y="208.00" text-anchor="end" font-size="9.5">0.0</text>
<line x1="19.20" y1="169.15" x2="22.60" y2="169.15" stroke="#000" stroke-width="1.1"/>
<text x="17.00" y="172.60" text-anchor="end" font-size="9.5">0.2</text>
<line x1="19.20" y1="133.75" x2="22.60" y2="133.75" stroke="#000" stroke-width="1.1"/>
<text x="17.00" y="137.20" text-anchor="end" font-size="9.5">0.4</text>
<line x1="19.20" y1="98.35" x2="22.60" y2="98.35" stroke="#000" stroke-width="1.1"/>
<text x="17.00" y="101.80" text-anchor="end" font-size="9.5">0.6</text>
<line x1="19.20" y1="62.95" x2="22.60" y2="62.95" stroke="#000" stroke-width="1.1"/>
<text x="17.00" y="66.40" text-anchor="end" font-size="9.5">0.8</text>
<line x1="19.20" y1="27.55" x2="22.60" y2="27.55" stroke="#000" stroke-width="1.1"/>
<text x="17.00" y="31.00" text-anchor="end" font-size="9.5">1.0</text>
<rect x="22.6" y="18.7" width="298.9" height="194.7" fill="none" stroke="#000" stroke-width="1.5"/>
<text x="172.05" y="238.70" text-anchor="middle">k</text>
<g clip-path="url(#clipB)" fill="none" stroke-width="2.8">
<path d="M372.00,32.82 372.12,33.03 372.24,33.11 372.36,33.56 372.48,33.86 372.60,34.15 372.72,34.36 372.84,34.37 372.96,34.65 373.08,34.95 373.20,35.09 373.32,35.24 373.43,35.13 373.55,35.25 373.67,35.39 373.79,35.40 373.91,35.50 374.03,35.55 374.15,35.56 374.27,35.42 374.39,35.66 374.51,35.71 374.63,35.47 374.75,35.37 374.87,35.40 374.99,35.52 375.11,35.43 375.23,35.40 375.35,35.52 375.47,35.31 375.59,35.37 375.71,35.47 375.83,35.57 375.95,35.64 376.07,35.58 376.18,35.72 376.30,35.61 376.42,35.59 376.54,35.64 376.66,35.63 376.78,35.77 376.90,35.74 377.02,35.69 377.14,35.76 377.26,35.76 377.38,35.87 377.50,36.06 377.62,36.06 377.74,36.17 377.86,36.22 377.98,36.19 378.10,36.41 378.22,36.49 378.34,36.72 378.46,36.85 378.58,37.00 378.70,37.18 378.81,37.26 378.93,37.36 379.05,37.46 379.17,37.48 379.29,37.55 379.41,37.56 379.53,37.66 379.65,37.73 379.77,37.93 379.89,38.00 380.01,38.01 380.13,38.19 380.25,38.35 380.37,38.39 380.49,38.51 380.61,38.63 380.73,38.75 380.85,38.79 380.97,38.89 381.56,39.25 382.16,39.61 382.76,39.94 383.36,40.38 383.96,40.75 384.55,41.30 385.15,41.87 385.75,43.32 386.35,45.61 386.94,47.48 387.54,48.48 388.14,49.24 388.74,49.76 389.34,50.33 389.93,51.11 390.53,52.11 391.13,53.30 391.73,54.51 392.33,55.73 392.92,56.77 393.52,57.63 394.12,58.53 394.72,59.42 395.31,60.29 395.91,61.35 396.51,62.41 397.11,63.58 397.71,64.72 398.30,65.85 398.90,67.06 399.50,68.40 400.10,69.81 400.69,71.14 401.29,72.42 401.89,73.55 402.49,74.48 403.09,75.41 403.68,76.25 404.28,77.10 404.88,77.87 405.48,78.69 406.07,79.51 406.67,80.25 407.27,80.99 407.87,81.74 408.47,82.45 409.06,83.23 409.66,83.90 410.26,84.60 410.86,85.30 411.45,85.96 412.05,86.65 412.65,87.33 413.25,88.03 413.85,88.80 414.44,89.47 415.04,90.22 415.64,91.02 416.24,91.76 416.83,92.56 417.43,93.29 418.03,94.08 418.63,94.76 419.23,95.43 419.82,96.21 420.42,96.94 421.02,97.64 421.62,98.37 422.22,99.06 422.81,99.78 423.41,100.49 424.01,101.25 424.61,101.98 425.20,102.65 425.80,103.31 426.40,104.02 427.00,104.69 427.60,105.40 428.19,106.09 428.79,106.78 429.39,107.44 429.99,108.13 430.58,108.82 431.18,109.48 431.78,110.10 432.38,110.73 432.98,111.32 433.57,111.89 434.17,112.43 434.77,113.00 435.37,113.52 435.96,114.04 436.56,114.54 437.16,115.05 437.76,115.56 438.36,116.08 438.95,116.58 439.55,117.06 440.15,117.55 440.75,118.04 441.34,118.54 441.94,119.08 442.54,119.57 443.14,120.05 443.74,120.51 444.33,121.01 444.93,121.48 445.53,121.94 446.13,122.38 446.73,122.79 448.22,123.77 449.71,124.73 451.21,125.64 452.70,126.54 454.20,127.39 455.69,128.24 457.19,129.05 458.68,129.84 460.18,130.62 461.67,131.37 463.16,132.10 464.66,132.82 466.15,133.54 467.65,134.23 469.14,134.91 470.64,135.57 472.13,136.24 473.63,136.88 475.12,137.51 476.62,138.13 478.11,138.76 479.60,139.36 481.10,139.96 482.59,140.55 484.09,141.13 485.58,141.70 487.08,142.26 488.57,142.81 490.07,143.35 491.56,143.88 493.05,144.42 494.55,144.94 496.04,145.45 497.54,145.96 499.03,146.46 500.53,146.95 502.02,147.44 503.52,147.92 505.01,148.39 506.50,148.85 508.00,149.31 509.49,149.76 510.99,150.19 512.48,150.62 513.98,151.03 515.47,151.43 516.97,151.82 518.46,152.20 519.96,152.56 521.45,152.92 522.94,153.27 524.44,153.61 525.93,153.95 527.43,154.29 528.92,154.62 530.42,154.95 531.91,155.28 533.41,155.61 534.90,155.93 536.39,156.25 537.89,156.57 539.38,156.89 540.88,157.20 542.37,157.51 543.87,157.81 545.36,158.11 546.86,158.40 548.35,158.69 549.85,158.96 551.34,159.24 552.83,159.50 554.33,159.77 555.82,160.04 557.32,160.30 558.81,160.56 560.31,160.82 561.80,161.08 563.30,161.34 564.79,161.60 566.28,161.85 567.78,162.10 569.27,162.35 570.77,162.60 572.26,162.85 573.76,163.09 575.25,163.33 576.75,163.57 578.24,163.81 579.74,164.05 581.23,164.28 582.72,164.52 584.22,164.74 585.71,164.97 587.21,165.20 588.70,165.42 590.20,165.64 591.69,165.86 593.19,166.07 594.68,166.28 596.17,166.49 597.67,166.70 599.16,166.90 600.66,167.10 602.15,167.29 603.65,167.49 605.14,167.68 606.64,167.87 608.13,168.05 609.63,168.23 611.12,168.41 612.61,168.59 614.11,168.76 615.60,168.93 617.10,169.10 618.59,169.27 620.09,169.44 621.58,169.61 623.08,169.78 624.57,169.94 626.06,170.10 627.56,170.26 629.05,170.42 630.55,170.58 632.04,170.74 633.54,170.89 635.03,171.05 636.53,171.20 638.02,171.35 639.52,171.50 641.01,171.64 642.50,171.79 644.00,171.93 645.49,172.07 646.99,172.21 648.48,172.34 649.98,172.47 651.47,172.61 652.97,172.74 654.46,172.86 655.95,172.99 657.45,173.11 658.94,173.23 660.44,173.35 661.93,173.47 663.43,173.58 664.92,173.69 666.42,173.80 667.91,173.90 669.41,174.01 670.90,174.11" stroke="#1f77b4" stroke-opacity="0.1"/>
<path d="M372.00,204.44 372.12,151.21 372.24,142.73 372.36,136.80 372.48,132.58 372.60,129.53 372.72,127.40 372.84,125.65 372.96,123.74 373.08,121.93 373.20,120.38 373.32,119.04 373.43,117.81 373.55,116.52 373.67,115.30 373.79,114.27 373.91,113.43 374.03,112.72 374.15,112.09 374.27,111.46 374.39,111.10 374.51,110.49 374.63,110.05 374.75,109.77 374.87,109.44 374.99,108.96 375.11,108.56 375.23,108.35 375.35,108.17 375.47,107.90 375.59,107.72 375.71,107.62 375.83,107.49 375.95,107.34 376.07,107.34 376.18,107.32 376.30,107.35 376.42,107.52 376.54,107.58 376.66,107.70 376.78,107.82 376.90,108.02 377.02,108.28 377.14,108.60 377.26,108.94 377.38,109.08 377.50,109.19 377.62,109.50 377.74,109.92 377.86,110.22 377.98,110.44 378.10,110.77 378.22,111.37 378.34,111.92 378.46,112.70 378.58,113.46 378.70,114.17 378.81,114.73 378.93,115.28 379.05,115.75 379.17,116.03 379.29,115.82 379.41,115.56 379.53,114.99 379.65,114.52 379.77,113.78 379.89,113.03 380.01,112.37 380.13,111.79 380.25,111.26 380.37,110.94 380.49,110.60 380.61,110.37 380.73,109.84 380.85,109.50 380.97,109.30 381.56,108.85 382.16,108.74 382.76,108.65 383.36,108.69 383.96,108.73 384.55,108.74 385.15,108.95 385.75,109.21 386.35,109.43 386.94,109.70 387.54,111.44 388.14,115.19 388.74,116.60 389.34,116.08 389.93,115.46 390.53,114.84 391.13,114.34 391.73,113.96 392.33,113.64 392.92,113.23 393.52,112.85 394.12,112.38 394.72,111.99 395.31,111.48 395.91,111.06 396.51,110.73 397.11,110.38 397.71,109.99 398.30,109.66 398.90,109.40 399.50,109.20 400.10,109.00 400.69,108.82 401.29,108.64 401.89,108.46 402.49,108.32 403.09,108.33 403.68,108.37 404.28,108.44 404.88,108.43 405.48,108.42 406.07,108.54 406.67,108.63 407.27,108.83 407.87,108.97 408.47,109.08 409.06,109.24 409.66,109.35 410.26,109.58 410.86,109.79 411.45,109.92 412.05,110.12 412.65,110.21 413.25,110.38 413.85,110.61 414.44,110.83 415.04,111.06 415.64,111.25 416.24,111.50 416.83,111.74 417.43,111.95 418.03,112.20 418.63,112.43 419.23,112.62 419.82,112.78 420.42,112.99 421.02,113.21 421.62,113.40 422.22,113.60 422.81,113.83 423.41,114.09 424.01,114.34 424.61,114.59 425.20,114.84 425.80,115.11 426.40,115.36 427.00,115.62 427.60,115.86 428.19,116.11 428.79,116.35 429.39,116.60 429.99,116.85 430.58,117.12 431.18,117.36 431.78,117.60 432.38,117.82 432.98,118.08 433.57,118.32 434.17,118.55 434.77,118.78 435.37,119.03 435.96,119.27 436.56,119.51 437.16,119.74 437.76,120.00 438.36,120.24 438.95,120.49 439.55,120.72 440.15,120.95 440.75,121.18 441.34,121.42 441.94,121.66 442.54,121.93 443.14,122.19 443.74,122.45 444.33,122.70 444.93,122.98 445.53,123.27 446.13,123.54 446.73,123.80 448.22,124.50 449.71,125.20 451.21,125.92 452.70,126.64 454.20,127.38 455.69,128.10 457.19,128.83 458.68,129.56 460.18,130.29 461.67,131.00 463.16,131.71 464.66,132.39 466.15,133.06 467.65,133.70 469.14,134.36 470.64,135.00 472.13,135.63 473.63,136.25 475.12,136.87 476.62,137.47 478.11,138.09 479.60,138.69 481.10,139.27 482.59,139.85 484.09,140.44 485.58,141.02 487.08,141.59 488.57,142.15 490.07,142.70 491.56,143.24 493.05,143.77 494.55,144.31 496.04,144.84 497.54,145.35 499.03,145.85 500.53,146.36 502.02,146.86 503.52,147.35 505.01,147.84 506.50,148.33 508.00,148.80 509.49,149.27 510.99,149.74 512.48,150.21 513.98,150.66 515.47,151.11 516.97,151.55 518.46,151.98 519.96,152.41 521.45,152.84 522.94,153.25 524.44,153.66 525.93,154.07 527.43,154.47 528.92,154.87 530.42,155.26 531.91,155.65 533.41,156.04 534.90,156.43 536.39,156.82 537.89,157.21 539.38,157.60 540.88,157.98 542.37,158.35 543.87,158.72 545.36,159.08 546.86,159.42 548.35,159.76 549.85,160.08 551.34,160.39 552.83,160.69 554.33,160.98 555.82,161.27 557.32,161.56 558.81,161.85 560.31,162.13 561.80,162.41 563.30,162.69 564.79,162.96 566.28,163.23 567.78,163.49 569.27,163.76 570.77,164.02 572.26,164.28 573.76,164.53 575.25,164.79 576.75,165.04 578.24,165.28 579.74,165.53 581.23,165.77 582.72,166.00 584.22,166.24 585.71,166.47 587.21,166.70 588.70,166.93 590.20,167.15 591.69,167.37 593.19,167.59 594.68,167.80 596.17,168.02 597.67,168.23 599.16,168.43 600.66,168.64 602.15,168.84 603.65,169.04 605.14,169.24 606.64,169.43 608.13,169.62 609.63,169.81 611.12,170.00 612.61,170.19 614.11,170.37 615.60,170.55 617.10,170.73 618.59,170.91 620.09,171.09 621.58,171.27 623.08,171.45 624.57,171.62 626.06,171.79 627.56,171.96 629.05,172.13 630.55,172.30 632.04,172.46 633.54,172.63 635.03,172.79 636.53,172.95 638.02,173.11 639.52,173.27 641.01,173.42 642.50,173.57 644.00,173.72 645.49,173.87 646.99,174.02 648.48,174.16 649.98,174.31 651.47,174.45 652.97,174.59 654.46,174.72 655.95,174.85 657.45,174.99 658.94,175.11 660.44,175.24 661.93,175.36 663.43,175.49 664.92,175.60 666.42,175.72 667.91,175.83 669.41,175.94 670.90,176.05" stroke="#ff7f0e" stroke-opacity="0.1"/>
<path d="M372.00,27.90 372.12,27.80 372.24,27.58 372.36,27.64 372.48,27.62 372.60,27.63 372.72,27.70 372.84,27.57 372.96,27.52 373.08,27.47 373.20,27.65 373.32,27.68 373.43,27.65 373.55,27.52 373.67,27.42 373.79,27.38 373.91,27.37 374.03,27.37 374.15,27.20 374.27,27.30 374.39,27.30 374.51,27.23 374.63,27.41 374.75,27.49 374.87,27.50 374.99,27.66 375.11,27.99 375.23,28.43 375.35,29.00 375.47,29.32 375.59,29.85 375.71,30.28 375.83,30.56 375.95,30.83 376.07,31.07 376.18,31.21 376.30,31.24 376.42,30.99 376.54,30.87 376.66,30.64 376.78,30.38 376.90,30.19 377.02,30.11 377.14,30.00 377.26,29.76 377.38,29.61 377.50,29.53 377.62,29.62 377.74,29.64 377.86,29.83 377.98,29.89 378.10,29.91 378.22,30.03 378.34,30.17 378.46,30.39 378.58,30.46 378.70,30.70 378.81,30.94 378.93,30.91 379.05,31.06 379.17,31.43 379.29,31.57 379.41,31.77 379.53,31.96 379.65,32.13 379.77,32.31 379.89,32.45 380.01,32.79 380.13,33.00 380.25,33.09 380.37,33.29 380.49,33.63 380.61,33.69 380.73,33.93 380.85,34.00 380.97,34.12 381.56,34.82 382.16,35.68 382.76,36.46 383.36,37.27 383.96,37.96 384.55,39.06 385.15,40.22 385.75,41.74 386.35,43.90 386.94,45.91 387.54,47.59 388.14,49.19 388.74,50.59 389.34,51.95 389.93,53.09 390.53,54.17 391.13,55.16 391.73,56.10 392.33,57.12 392.92,58.13 393.52,59.34 394.12,60.71 394.72,62.21 395.31,63.69 395.91,65.14 396.51,66.49 397.11,67.95 397.71,69.40 398.30,70.98 398.90,72.36 399.50,73.72 400.10,74.98 400.69,76.33 401.29,77.49 401.89,78.69 402.49,79.88 403.09,81.05 403.68,82.07 404.28,83.10 404.88,84.08 405.48,85.04 406.07,85.97 406.67,86.95 407.27,87.94 407.87,88.79 408.47,89.67 409.06,90.53 409.66,91.46 410.26,92.38 410.86,93.33 411.45,94.16 412.05,95.02 412.65,95.87 413.25,96.77 413.85,97.60 414.44,98.46 415.04,99.26 415.64,100.03 416.24,100.74 416.83,101.55 417.43,102.33 418.03,103.10 418.63,103.86 419.23,104.58 419.82,105.27 420.42,105.95 421.02,106.65 421.62,107.38 422.22,108.05 422.81,108.74 423.41,109.38 424.01,110.00 424.61,110.66 425.20,111.32 425.80,111.95 426.40,112.58 427.00,113.17 427.60,113.78 428.19,114.35 428.79,114.92 429.39,115.49 429.99,116.03 430.58,116.62 431.18,117.16 431.78,117.73 432.38,118.30 432.98,118.84 433.57,119.39 434.17,119.94 434.77,120.50 435.37,121.05 435.96,121.56 436.56,122.11 437.16,122.62 437.76,123.15 438.36,123.65 438.95,124.15 439.55,124.63 440.15,125.11 440.75,125.61 441.34,126.06 441.94,126.49 442.54,126.94 443.14,127.35 443.74,127.78 444.33,128.18 444.93,128.60 445.53,128.98 446.13,129.37 446.73,129.76 448.22,130.70 449.71,131.61 451.21,132.48 452.70,133.32 454.20,134.15 455.69,134.95 457.19,135.73 458.68,136.50 460.18,137.25 461.67,138.00 463.16,138.75 464.66,139.49 466.15,140.24 467.65,140.98 469.14,141.72 470.64,142.47 472.13,143.21 473.63,143.95 475.12,144.66 476.62,145.35 478.11,146.04 479.60,146.68 481.10,147.31 482.59,147.89 484.09,148.45 485.58,148.95 487.08,149.42 488.57,149.86 490.07,150.28 491.56,150.68 493.05,151.05 494.55,151.42 496.04,151.77 497.54,152.11 499.03,152.44 500.53,152.76 502.02,153.08 503.52,153.41 505.01,153.73 506.50,154.06 508.00,154.38 509.49,154.72 510.99,155.07 512.48,155.43 513.98,155.81 515.47,156.21 516.97,156.62 518.46,157.04 519.96,157.48 521.45,157.92 522.94,158.36 524.44,158.80 525.93,159.23 527.43,159.64 528.92,160.04 530.42,160.42 531.91,160.77 533.41,161.11 534.90,161.45 536.39,161.77 537.89,162.09 539.38,162.40 540.88,162.71 542.37,163.00 543.87,163.29 545.36,163.57 546.86,163.85 548.35,164.12 549.85,164.38 551.34,164.64 552.83,164.89 554.33,165.14 555.82,165.38 557.32,165.63 558.81,165.88 560.31,166.12 561.80,166.36 563.30,166.60 564.79,166.84 566.28,167.07 567.78,167.31 569.27,167.54 570.77,167.77 572.26,168.00 573.76,168.22 575.25,168.45 576.75,168.67 578.24,168.89 579.74,169.10 581.23,169.31 582.72,169.52 584.22,169.73 585.71,169.94 587.21,170.14 588.70,170.34 590.20,170.53 591.69,170.73 593.19,170.91 594.68,171.10 596.17,171.28 597.67,171.46 599.16,171.64 600.66,171.81 602.15,171.98 603.65,172.14 605.14,172.31 606.64,172.46 608.13,172.62 609.63,172.77 611.12,172.91 612.61,173.06 614.11,173.20 615.60,173.34 617.10,173.48 618.59,173.62 620.09,173.75 621.58,173.89 623.08,174.02 624.57,174.16 626.06,174.29 627.56,174.42 629.05,174.55 630.55,174.67 632.04,174.80 633.54,174.92 635.03,175.04 636.53,175.16 638.02,175.28 639.52,175.40 641.01,175.51 642.50,175.63 644.00,175.74 645.49,175.84 646.99,175.95 648.48,176.05 649.98,176.15 651.47,176.25 652.97,176.35 654.46,176.44 655.95,176.53 657.45,176.62 658.94,176.71 660.44,176.79 661.93,176.87 663.43,176.95 664.92,177.02 666.42,177.10 667.91,177.16 669.41,177.23 670.90,177.29" stroke="#2ca02c" stroke-opacity="0.1"/>
<path d="M372.00,31.80 372.12,31.81 372.24,31.83 372.36,31.84 372.48,31.86 372.60,31.88 372.72,31.91 372.84,31.93 372.96,31.95 373.08,31.98 373.20,32.01 373.32,32.04 373.43,32.07 373.55,32.10 373.67,32.13 373.79,32.16 373.91,32.20 374.03,32.24 374.15,32.28 374.27,32.31 374.39,32.36 374.51,32.40 374.63,32.44 374.75,32.48 374.87,32.53 374.99,32.58 375.11,32.62 375.23,32.67 375.35,32.72 375.47,32.77 375.59,32.83 375.71,32.88 375.83,32.93 375.95,32.99 376.07,33.04 376.18,33.10 376.30,33.16 376.42,33.22 376.54,33.28 376.66,33.34 376.78,33.40 376.90,33.46 377.02,33.53 377.14,33.59 377.26,33.66 377.38,33.72 377.50,33.79 377.62,33.86 377.74,33.93 377.86,34.00 377.98,34.07 378.10,34.14 378.22,34.21 378.34,34.28 378.46,34.35 378.58,34.42 378.70,34.50 378.81,34.57 378.93,34.65 379.05,34.72 379.17,34.80 379.29,34.88 379.41,34.95 379.53,35.03 379.65,35.11 379.77,35.19 379.89,35.27 380.01,35.35 380.13,35.43 380.25,35.51 380.37,35.59 380.49,35.67 380.61,35.75 380.73,35.83 380.85,35.91 380.97,35.99 381.56,36.41 382.16,36.84 382.76,37.33 383.36,37.88 383.96,38.48 384.55,39.13 385.15,39.83 385.75,40.57 386.35,41.35 386.94,42.16 387.54,42.99 388.14,43.86 388.74,44.74 389.34,45.64 389.93,46.55 390.53,47.47 391.13,48.39 391.73,49.31 392.33,50.23 392.92,51.13 393.52,52.02 394.12,52.90 394.72,53.78 395.31,54.67 395.91,55.57 396.51,56.49 397.11,57.42 397.71,58.37 398.30,59.34 398.90,60.34 399.50,61.36 400.10,62.42 400.69,63.51 401.29,64.65 401.89,65.91 402.49,67.25 403.09,68.64 403.68,70.05 404.28,71.44 404.88,72.76 405.48,74.00 406.07,75.12 406.67,76.20 407.27,77.21 407.87,78.11 408.47,78.89 409.06,79.63 409.66,80.32 410.26,80.98 410.86,81.61 411.45,82.21 412.05,82.79 412.65,83.35 413.25,83.90 413.85,84.44 414.44,84.98 415.04,85.52 415.64,86.06 416.24,86.61 416.83,87.18 417.43,87.76 418.03,88.36 418.63,88.98 419.23,89.60 419.82,90.24 420.42,90.87 421.02,91.51 421.62,92.15 422.22,92.78 422.81,93.41 423.41,94.03 424.01,94.63 424.61,95.22 425.20,95.79 425.80,96.34 426.40,96.87 427.00,97.37 427.60,97.86 428.19,98.40 428.79,98.94 429.39,99.49 429.99,100.01 430.58,100.49 431.18,100.90 431.78,101.22 432.38,101.44 432.98,101.53 433.27,101.53" stroke="#1f77b4" stroke-opacity="0.1" stroke-dasharray="2.5 2.3"/>
<path d="M433.27,101.53 433.57,101.51 434.17,101.40 434.77,101.22 435.37,100.98 435.96,100.69 436.56,100.37 437.16,100.01 437.76,99.63 438.36,99.24 438.95,98.85 439.55,98.48 440.15,98.12 440.75,97.78 441.34,97.49 441.94,97.23 442.54,96.97 443.14,96.72 443.74,96.47 444.33,96.22 444.93,95.98 445.53,95.74 446.13,95.50 446.73,95.26 448.22,94.68 449.71,94.10 451.21,93.52 452.70,92.94 454.20,92.34 455.69,91.74 457.19,91.13 458.68,90.53 460.18,89.93 461.67,89.33 463.16,88.73 464.66,88.14 466.15,87.55 467.65,86.96 469.14,86.35 470.64,85.74 472.13,85.13 473.63,84.53 475.12,83.93 476.62,83.34 478.11,82.77 479.60,82.22 481.10,81.69 482.59,81.19 484.09,80.71 485.58,80.27 487.08,79.84 488.57,79.43 490.07,79.03 491.56,78.64 493.05,78.26 494.55,77.90 496.04,77.54 497.54,77.19 499.03,76.85 500.53,76.51 502.02,76.17 503.52,75.84 505.01,75.50 506.50,75.16 508.00,74.83 509.49,74.50 510.99,74.19 512.48,73.91 513.98,73.65 515.47,73.42 516.97,73.22 518.46,73.04 519.96,72.87 521.45,72.72 522.94,72.57 524.44,72.42 525.93,72.27 527.43,72.11 528.92,71.94 530.42,71.76 531.91,71.57 533.41,71.38 534.90,71.18 536.39,70.98 537.89,70.77 539.38,70.56 540.88,70.33 542.37,70.10 543.87,69.86 545.36,69.61 546.86,69.35 548.35,69.04 549.85,68.69 551.34,68.31 552.83,67.91 554.33,67.50 555.82,67.08 557.32,66.65 558.81,66.23 560.31,65.82 561.80,65.44 563.30,65.08 564.79,64.76 566.28,64.47 567.78,64.24 569.27,64.06 570.77,63.94 572.26,63.83 573.76,63.72 575.25,63.62 576.75,63.53 578.24,63.44 579.74,63.36 581.23,63.28 582.72,63.21 584.22,63.14 585.71,63.08 587.21,63.02 588.70,62.96 590.20,62.90 591.69,62.85 593.19,62.79 594.68,62.74 596.17,62.69 597.67,62.64 599.16,62.59 600.66,62.53 602.15,62.48 603.65,62.42 605.14,62.36 606.64,62.30 608.13,62.24 609.63,62.17 611.12,62.11 612.61,62.06 614.11,62.00 615.60,61.95 617.10,61.90 618.59,61.85 620.09,61.80 621.58,61.75 623.08,61.70 624.57,61.64 626.06,61.59 627.56,61.54 629.05,61.48 630.55,61.42 632.04,61.35 633.54,61.28 635.03,61.21 636.53,61.13 638.02,61.04 639.52,60.95 641.01,60.85 642.50,60.73 644.00,60.56 645.49,60.34 646.99,60.09 648.48,59.82 649.98,59.55 651.47,59.28 652.97,59.02 654.46,58.80 655.95,58.61 657.45,58.47 658.94,58.39 660.44,58.31 661.93,58.24 663.43,58.17 664.92,58.11 666.42,58.06 667.91,58.03 669.41,58.00 670.90,57.99" stroke="#1f77b4" stroke-opacity="0.1" stroke-dasharray="2.68 4.42"/>
<path d="M372.00,204.55 372.12,151.45 372.24,144.60 372.36,139.53 372.48,135.93 372.60,133.48 372.72,131.84 372.84,130.70 372.96,129.74 373.08,128.86 373.20,128.06 373.32,127.33 373.43,126.66 373.55,126.05 373.67,125.51 373.79,125.01 373.91,124.57 374.03,124.17 374.15,123.81 374.27,123.49 374.39,123.19 374.51,122.93 374.63,122.69 374.69,122.58" stroke="#ff7f0e" stroke-opacity="0.1" stroke-dasharray="2.68 2.1"/>
<path d="M374.69,122.58 374.75,122.47 374.87,122.27 374.99,122.08 375.11,121.89 375.23,121.72 375.35,121.55 375.47,121.39 375.59,121.24 375.71,121.10 375.83,120.96 375.95,120.83 376.07,120.71 376.18,120.59 376.30,120.48 376.42,120.37 376.54,120.26 376.66,120.16 376.78,120.06 376.90,119.97 377.02,119.87 377.14,119.78 377.26,119.69 377.38,119.60 377.50,119.51 377.62,119.41 377.74,119.32 377.86,119.23 377.98,119.13 378.10,119.03 378.22,118.93 378.34,118.83 378.46,118.72 378.58,118.62 378.70,118.51 378.81,118.40 378.93,118.28 379.05,118.17 379.17,118.06 379.29,117.94 379.41,117.82 379.53,117.71 379.65,117.59 379.77,117.47 379.89,117.35 380.01,117.23 380.13,117.11 380.25,117.00 380.37,116.88 380.49,116.76 380.61,116.64 380.73,116.52 380.85,116.40 380.97,116.29 381.56,115.72 382.16,115.19 382.76,114.70 383.36,114.29 383.96,113.95 384.55,113.71 385.15,113.59 385.75,113.75 386.35,114.92 386.94,116.48 387.09,116.83" stroke="#ff7f0e" stroke-opacity="0.1" stroke-dasharray="2.4 0.4"/>
<path d="M387.09,116.83 387.54,117.64 388.14,117.80" stroke="#ff7f0e" stroke-opacity="0.1" stroke-dasharray="2.68 4.42"/>
<path d="M388.14,117.80 388.74,117.64 389.34,117.35 389.93,116.96 390.53,116.51 391.13,116.01 391.73,115.51 392.33,115.02 392.92,114.59 393.52,114.24 394.12,113.98 394.72,113.74 395.31,113.50 395.91,113.26 396.51,113.02 397.11,112.79 397.41,112.68" stroke="#ff7f0e" stroke-opacity="0.1" stroke-dasharray="2.2 0.5"/>
<path d="M397.41,112.68 397.71,112.57 398.30,112.35 398.90,112.15 399.50,111.96 400.10,111.78 400.69,111.62 401.29,111.48 401.89,111.35 402.49,111.25 403.09,111.17 403.68,111.12 404.28,111.10 404.88,111.10 405.48,111.12 406.07,111.15 406.67,111.21 407.27,111.27 407.87,111.35 408.47,111.44 409.06,111.55 409.36,111.60" stroke="#ff7f0e" stroke-opacity="0.1" stroke-dasharray="1.3 0.45"/>
<path d="M409.36,111.60 409.66,111.66 410.26,111.78 410.86,111.91 411.45,112.05 412.05,112.19 412.65,112.33 413.25,112.48 413.85,112.63 414.44,112.79 415.04,112.94 415.64,113.09 416.24,113.24 416.83,113.38 417.43,113.52 418.03,113.66 418.63,113.81 419.23,113.97 419.82,114.14 420.42,114.31 421.02,114.49 421.62,114.67 422.22,114.85 422.81,115.03 423.41,115.22 424.01,115.39 424.61,115.57 425.20,115.74 425.80,115.90 426.40,116.05 427.00,116.19 427.60,116.32 428.19,116.47 428.79,116.62 429.39,116.76 429.99,116.89 430.58,117.00 431.18,117.07 431.78,117.11" stroke="#ff7f0e" stroke-opacity="0.1" stroke-dasharray="1.1 1.7"/>
<path d="M431.78,117.11 432.38,117.04 432.98,116.75 433.57,116.29 434.17,115.70 434.77,115.03 435.37,114.34 435.96,113.67 436.56,113.08 437.16,112.57 437.76,112.06 438.36,111.54 438.95,111.03 439.55,110.52 440.15,110.02 440.75,109.53 441.34,109.06 441.94,108.60 442.54,108.17 443.14,107.76 443.74,107.36 444.33,106.98 444.93,106.62 445.53,106.26 446.13,105.91 446.73,105.57 448.22,104.73 449.71,103.90 451.21,103.08 452.70,102.27 454.20,101.48 455.69,100.71 457.19,99.95 458.68,99.21 460.18,98.49 461.67,97.79 463.16,97.12 464.66,96.48 466.15,95.86 467.65,95.24 469.14,94.65 470.64,94.06 472.13,93.48 473.63,92.93 475.12,92.38 476.62,91.86 478.11,91.36 479.60,90.87 481.10,90.41 482.59,89.97 484.09,89.56 485.58,89.17 487.08,88.80 488.57,88.45 490.07,88.11 491.56,87.79 493.05,87.48 494.55,87.17 496.04,86.88 497.54,86.58 499.03,86.29 500.53,86.00 502.02,85.70 503.52,85.40 505.01,85.09 506.50,84.76 508.00,84.44 509.49,84.12 510.99,83.82 512.48,83.54 513.98,83.29 515.47,83.07 516.97,82.87 518.46,82.69 519.96,82.52 521.45,82.36 522.94,82.20 524.44,82.06 525.93,81.92 527.43,81.78 528.92,81.64 530.42,81.50 531.91,81.37 533.41,81.24 534.90,81.11 536.39,80.99 537.89,80.86 539.38,80.74 540.88,80.63 542.37,80.51 543.87,80.40 545.36,80.28 546.86,80.17 548.35,80.06 549.85,79.95 551.34,79.84 552.83,79.73 554.33,79.62 555.82,79.50 557.32,79.39 558.81,79.28 560.31,79.16 561.80,79.04 563.30,78.92 564.79,78.80 566.28,78.67 567.78,78.54 569.27,78.41 570.77,78.28 572.26,78.14 573.76,78.01 575.25,77.87 576.75,77.73 578.24,77.60 579.74,77.46 581.23,77.32 582.72,77.18 584.22,77.05 585.71,76.91 587.21,76.78 588.70,76.64 590.20,76.51 591.69,76.38 593.19,76.25 594.68,76.13 596.17,76.01 597.67,75.89 599.16,75.77 600.66,75.66 602.15,75.55 603.65,75.44 605.14,75.34 606.64,75.25 608.13,75.16 609.63,75.07 611.12,74.98 612.61,74.89 614.11,74.80 615.60,74.72 617.10,74.63 618.59,74.55 620.09,74.46 621.58,74.38 623.08,74.30 624.57,74.21 626.06,74.13 627.56,74.05 629.05,73.97 630.55,73.90 632.04,73.82 633.54,73.74 635.03,73.67 636.53,73.59 638.02,73.52 639.52,73.45 641.01,73.38 642.50,73.31 644.00,73.25 645.49,73.18 646.99,73.12 648.48,73.06 649.98,72.99 651.47,72.94 652.97,72.88 654.46,72.82 655.95,72.77 657.45,72.72 658.94,72.67 660.44,72.62 661.93,72.57 663.43,72.52 664.92,72.48 666.42,72.44 667.91,72.40 669.41,72.37 670.90,72.33" stroke="#ff7f0e" stroke-opacity="0.1" stroke-dasharray="2.68 4.42"/>
<path d="M372.00,27.55 372.12,27.55 372.24,27.55 372.36,27.55 372.48,27.55 372.60,27.55 372.72,27.55 372.84,27.55 372.96,27.55 373.08,27.55 373.20,27.55 373.32,27.55 373.43,27.55 373.55,27.55 373.67,27.55 373.79,27.55 373.91,27.55 374.03,27.55 374.15,27.55 374.27,27.55 374.39,27.55 374.51,27.55 374.63,27.55 374.75,27.55 374.87,27.55 374.99,27.55 375.11,27.55 375.23,27.57 375.35,27.59 375.47,27.62 375.59,27.65 375.71,27.70 375.83,27.75 375.95,27.81 376.07,27.88 376.18,27.95 376.30,28.03 376.42,28.12 376.54,28.21 376.66,28.31 376.78,28.41 376.90,28.52 377.02,28.64 377.14,28.76 377.26,28.88 377.38,29.01 377.50,29.15 377.62,29.29 377.74,29.43 377.86,29.58 377.98,29.73 378.10,29.89 378.22,30.04 378.34,30.21 378.46,30.37 378.58,30.54 378.70,30.71 378.81,30.88 378.93,31.05 379.05,31.23 379.17,31.41 379.29,31.59 379.41,31.77 379.53,31.95 379.65,32.13 379.77,32.31 379.89,32.50 380.01,32.68 380.13,32.87 380.25,33.05 380.37,33.23 380.49,33.42 380.61,33.60 380.73,33.78 380.85,33.96 380.97,34.14 381.56,35.01 382.16,35.83 382.76,36.67 383.36,37.53 383.96,38.41 384.55,39.31 385.15,40.24 385.75,41.20 386.35,42.17 386.94,43.17 387.54,44.20 388.14,45.25 388.74,46.32 389.34,47.41 389.93,48.53 390.53,49.68 391.13,50.85 391.73,52.04 392.33,53.26 392.92,54.51 393.52,55.77 394.12,57.11 394.72,58.62 395.31,60.23 395.91,61.85 396.51,63.38 397.11,64.76 397.71,66.11 398.30,67.43 398.90,68.72 399.50,69.97 400.10,71.18 400.69,72.33 401.29,73.41 401.89,74.43 402.49,75.36 403.09,76.24 403.68,77.07 404.28,77.85 404.88,78.60 405.48,79.33 406.07,80.05 406.67,80.76 407.27,81.47 407.87,82.20 408.47,82.94 409.06,83.68 409.66,84.43 410.26,85.17 410.86,85.91 411.45,86.65 412.05,87.38 412.65,88.11 413.25,88.83 413.85,89.55 414.44,90.26 415.04,90.96 415.64,91.66 416.24,92.34 416.83,93.01 417.43,93.67 418.03,94.33 418.63,94.99 419.23,95.64 419.82,96.30 420.42,96.96 421.02,97.61 421.62,98.25 422.22,98.89 422.81,99.51 423.41,100.11 424.01,100.70 424.61,101.27 425.20,101.82 425.80,102.34 426.40,102.84 427.00,103.30 427.60,103.76 428.19,104.25 428.79,104.74 429.39,105.22 429.99,105.69 430.58,106.10 431.18,106.47 431.78,106.75 432.38,106.94 432.98,107.02 433.27,107.02" stroke="#2ca02c" stroke-opacity="0.1" stroke-dasharray="2.5 2.3"/>
<path d="M433.27,107.02 433.57,107.00 434.17,106.92 434.77,106.78 435.37,106.60 435.96,106.37 436.56,106.12 437.16,105.84 437.76,105.55 438.36,105.25 438.95,104.94 439.55,104.64 440.15,104.36 440.75,104.10 441.34,103.86 441.94,103.64 442.54,103.43 443.14,103.22 443.74,103.01 444.33,102.80 444.93,102.60 445.53,102.39 446.13,102.19 446.73,101.99 448.22,101.49 449.71,100.98 451.21,100.48 452.70,99.98 454.20,99.47 455.69,98.94 457.19,98.41 458.68,97.88 460.18,97.35 461.67,96.83 463.16,96.34 464.66,95.87 466.15,95.44 467.65,95.01 469.14,94.61 470.64,94.21 472.13,93.83 473.63,93.45 475.12,93.09 476.62,92.73 478.11,92.37 479.60,92.02 481.10,91.67 482.59,91.32 484.09,90.97 485.58,90.61 487.08,90.27 488.57,89.93 490.07,89.59 491.56,89.25 493.05,88.92 494.55,88.59 496.04,88.26 497.54,87.93 499.03,87.61 500.53,87.28 502.02,86.96 503.52,86.64 505.01,86.30 506.50,85.96 508.00,85.61 509.49,85.27 510.99,84.95 512.48,84.64 513.98,84.37 515.47,84.13 516.97,83.91 518.46,83.72 519.96,83.54 521.45,83.37 522.94,83.21 524.44,83.05 525.93,82.89 527.43,82.73 528.92,82.56 530.42,82.38 531.91,82.20 533.41,82.01 534.90,81.82 536.39,81.62 537.89,81.42 539.38,81.23 540.88,81.03 542.37,80.83 543.87,80.63 545.36,80.43 546.86,80.23 548.35,80.03 549.85,79.83 551.34,79.64 552.83,79.44 554.33,79.25 555.82,79.07 557.32,78.89 558.81,78.71 560.31,78.54 561.80,78.37 563.30,78.21 564.79,78.06 566.28,77.90 567.78,77.75 569.27,77.60 570.77,77.45 572.26,77.30 573.76,77.15 575.25,77.01 576.75,76.87 578.24,76.72 579.74,76.59 581.23,76.45 582.72,76.31 584.22,76.18 585.71,76.04 587.21,75.91 588.70,75.78 590.20,75.65 591.69,75.52 593.19,75.39 594.68,75.27 596.17,75.14 597.67,75.02 599.16,74.90 600.66,74.77 602.15,74.65 603.65,74.53 605.14,74.42 606.64,74.30 608.13,74.18 609.63,74.06 611.12,73.95 612.61,73.83 614.11,73.72 615.60,73.60 617.10,73.49 618.59,73.38 620.09,73.26 621.58,73.15 623.08,73.04 624.57,72.93 626.06,72.82 627.56,72.71 629.05,72.60 630.55,72.49 632.04,72.39 633.54,72.28 635.03,72.18 636.53,72.07 638.02,71.97 639.52,71.86 641.01,71.76 642.50,71.66 644.00,71.56 645.49,71.46 646.99,71.36 648.48,71.26 649.98,71.16 651.47,71.07 652.97,70.97 654.46,70.88 655.95,70.78 657.45,70.69 658.94,70.60 660.44,70.51 661.93,70.42 663.43,70.33 664.92,70.25 666.42,70.16 667.91,70.07 669.41,69.99 670.90,69.91" stroke="#2ca02c" stroke-opacity="0.1" stroke-dasharray="2.68 4.42"/>
<path d="M372.00,204.55 372.12,204.17 372.24,203.79 372.36,203.41 372.48,203.03 372.60,202.65 372.72,202.28 372.84,201.90 372.96,201.52 373.08,201.15 373.20,200.77 373.32,200.40 373.43,200.03 373.55,199.66 373.67,199.28 373.79,198.91 373.91,198.54 374.03,198.18 374.15,197.81 374.27,197.44 374.39,197.07 374.51,196.71 374.63,196.34 374.75,195.98 374.87,195.62 374.99,195.25 375.11,194.89 375.23,194.53 375.35,194.17 375.47,193.81 375.59,193.46 375.71,193.10 375.83,192.74 375.95,192.39 376.07,192.03 376.18,191.68 376.30,191.33 376.42,190.98 376.54,190.62 376.66,190.27 376.78,189.93 376.90,189.58 377.02,189.23 377.14,188.89 377.26,188.54 377.38,188.20 377.50,187.85 377.62,187.51 377.74,187.17 377.86,186.83 377.98,186.49 378.10,186.15 378.22,185.82 378.34,185.48 378.46,185.15 378.58,184.81 378.70,184.48 378.81,184.15 378.93,183.82 379.05,183.49 379.17,183.16 379.29,182.83 379.41,182.51 379.53,182.18 379.65,181.86 379.77,181.54 379.89,181.22 380.01,180.90 380.13,180.58 380.25,180.26 380.37,179.94 380.49,179.62 380.61,179.31 380.73,179.00 380.85,178.68 380.97,178.37 381.56,176.84 382.16,175.33 382.76,173.83 383.36,172.36 383.96,170.89 384.55,169.45 385.15,168.02 385.75,166.61 386.35,165.22 386.94,163.84 387.54,162.49 388.14,161.15 388.74,159.84 389.34,158.54 389.93,157.26 390.53,156.01 391.13,154.78 391.73,153.57 392.33,152.38 392.92,151.21 393.52,150.07 394.12,148.95 394.72,147.85 395.31,146.76 395.91,145.69 396.51,144.65 397.11,143.62 397.71,142.62 398.30,141.65 398.90,140.71 399.50,139.81 400.10,138.94 400.69,138.10 401.29,137.30 401.89,136.52 402.49,135.74 403.09,134.98 403.68,134.23 404.28,133.49 404.88,132.76 405.48,132.05 406.07,131.34 406.67,130.65 407.27,129.97 407.87,129.30 408.47,128.64 409.06,127.99 409.66,127.36 410.26,126.73 410.86,126.12 411.45,125.51 412.05,124.92 412.65,124.34 413.25,123.77 413.85,123.21 414.44,122.66 415.04,122.12 415.64,121.59 416.24,121.07 416.83,120.56 417.43,120.07 418.03,119.58 418.63,119.10 419.23,118.64 419.82,118.18 420.42,117.73 421.02,117.29 421.62,116.86 422.22,116.43 422.81,116.02 423.41,115.61 424.01,115.21 424.61,114.81 425.20,114.42 425.80,114.04 426.40,113.66 427.00,113.29 427.60,112.92 428.19,112.55 428.79,112.19 429.39,111.84 429.99,111.48 430.58,111.13 431.18,110.78 431.78,110.44 432.38,110.10 432.98,109.77 433.57,109.44 434.17,109.13 434.77,108.82 435.37,108.52 435.96,108.22 436.56,107.93 437.16,107.64 437.76,107.36 438.36,107.08 438.95,106.79 439.55,106.51 440.15,106.23 440.75,105.94 441.34,105.66 441.94,105.37 442.54,105.07 443.14,104.77 443.74,104.46 444.33,104.15 444.93,103.83 445.53,103.50 446.13,103.16 446.73,102.81 448.22,101.90 449.71,100.92 451.21,99.91 452.70,98.87 454.20,97.82 455.69,96.77 457.19,95.73 458.68,94.72 460.18,93.76 461.67,92.82 463.16,91.87 464.66,90.92 466.15,89.98 467.65,89.06 469.14,88.17 470.64,87.31 472.13,86.51 473.63,85.78 475.12,85.11 476.62,84.49 478.11,83.90 479.60,83.33 481.10,82.79 482.59,82.26 484.09,81.76 485.58,81.28 487.08,80.82 488.57,80.37 490.07,79.93 491.56,79.51 493.05,79.10 494.55,78.69 496.04,78.29 497.54,77.90 499.03,77.51 500.53,77.13 502.02,76.76 503.52,76.40 505.01,76.05 506.50,75.71 508.00,75.39 509.49,75.08 510.99,74.79 512.48,74.52 513.98,74.27 515.47,74.04 516.97,73.83 518.46,73.63 519.96,73.46 521.45,73.29 522.94,73.13 524.44,72.97 525.93,72.81 527.43,72.64 528.92,72.47 530.42,72.29 531.91,72.10 533.41,71.92 534.90,71.73 536.39,71.53 537.89,71.31 539.38,71.08 540.88,70.84 542.37,70.58 543.87,70.31 545.36,70.02 546.86,69.71 548.35,69.38 549.85,69.03 551.34,68.65 552.83,68.17 554.33,67.60 555.82,66.96 557.32,66.27 558.81,65.56 560.31,64.84 561.80,64.13 563.30,63.47 564.79,62.86 566.28,62.33 567.78,61.91 569.27,61.61 570.77,61.43 572.26,61.27 573.76,61.12 575.25,60.97 576.75,60.84 578.24,60.72 579.74,60.60 581.23,60.49 582.72,60.38 584.22,60.29 585.71,60.20 587.21,60.11 588.70,60.03 590.20,59.95 591.69,59.88 593.19,59.81 594.68,59.74 596.17,59.67 597.67,59.61 599.16,59.55 600.66,59.49 602.15,59.43 603.65,59.36 605.14,59.30 606.64,59.24 608.13,59.17 609.63,59.11 611.12,59.06 612.61,59.01 614.11,58.96 615.60,58.92 617.10,58.88 618.59,58.84 620.09,58.81 621.58,58.77 623.08,58.74 624.57,58.71 626.06,58.67 627.56,58.63 629.05,58.59 630.55,58.54 632.04,58.49 633.54,58.44 635.03,58.38 636.53,58.31 638.02,58.23 639.52,58.15 641.01,58.05 642.50,57.90 644.00,57.61 645.49,57.19 646.99,56.68 648.48,56.11 649.98,55.52 651.47,54.93 652.97,54.38 654.46,53.90 655.95,53.52 657.45,53.27 658.94,53.15 660.44,53.06 661.93,52.97 663.43,52.89 664.92,52.82 666.42,52.76 667.91,52.72 669.41,52.69 670.90,52.68" stroke="#1f77b4" stroke-dasharray="9.92 4.29"/>
<path d="M372.00,204.55 372.12,204.34 372.24,204.13 372.36,203.92 372.48,203.70 372.60,203.49 372.72,203.28 372.84,203.07 372.96,202.86 373.08,202.65 373.20,202.44 373.32,202.23 373.43,202.02 373.55,201.81 373.67,201.60 373.79,201.39 373.91,201.18 374.03,200.97 374.15,200.76 374.27,200.55 374.39,200.34 374.51,200.13 374.63,199.92 374.75,199.71 374.87,199.50 374.99,199.30 375.11,199.09 375.23,198.88 375.35,198.67 375.47,198.46 375.59,198.25 375.71,198.05 375.83,197.84 375.95,197.63 376.07,197.42 376.18,197.21 376.30,197.01 376.42,196.80 376.54,196.59 376.66,196.39 376.78,196.18 376.90,195.97 377.02,195.76 377.14,195.56 377.26,195.35 377.38,195.14 377.50,194.94 377.62,194.73 377.74,194.53 377.86,194.32 377.98,194.11 378.10,193.91 378.22,193.70 378.34,193.50 378.46,193.29 378.58,193.09 378.70,192.88 378.81,192.68 378.93,192.47 379.05,192.27 379.17,192.06 379.29,191.86 379.41,191.65 379.53,191.45 379.65,191.24 379.77,191.04 379.89,190.84 380.01,190.63 380.13,190.43 380.25,190.23 380.37,190.02 380.49,189.82 380.61,189.62 380.73,189.41 380.85,189.21 380.97,189.01 381.56,187.99 382.16,186.98 382.76,185.98 383.36,184.97 383.96,183.97 384.55,182.97 385.15,181.97 385.75,180.98 386.35,179.99 386.94,179.00 387.54,178.02 388.14,177.05 388.74,176.08 389.34,175.11 389.93,174.15 390.53,173.19 391.13,172.24 391.73,171.29 392.33,170.34 392.92,169.39 393.52,168.44 394.12,167.50 394.72,166.55 395.31,165.60 395.91,164.65 396.51,163.69 397.11,162.74 397.71,161.78 398.30,160.82 398.90,159.85 399.50,158.86 400.10,157.87 400.69,156.88 401.29,155.88 401.89,154.87 402.49,153.87 403.09,152.86 403.68,151.86 404.28,150.87 404.88,149.89 405.48,148.91 406.07,147.95 406.67,147.01 407.27,146.08 407.87,145.17 408.47,144.28 409.06,143.39 409.66,142.51 410.26,141.64 410.86,140.77 411.45,139.91 412.05,139.06 412.65,138.23 413.25,137.40 413.85,136.58 414.44,135.78 415.04,134.99 415.64,134.21 416.24,133.45 416.83,132.71 417.43,131.98 418.03,131.27 418.63,130.57 419.23,129.88 419.82,129.20 420.42,128.53 421.02,127.86 421.62,127.21 422.22,126.57 422.81,125.93 423.41,125.30 424.01,124.67 424.61,124.06 425.20,123.45 425.80,122.84 426.40,122.24 427.00,121.65 427.60,121.06 428.19,120.47 428.79,119.89 429.39,119.31 429.99,118.74 430.58,118.16 431.18,117.59 431.78,117.02 432.38,116.45 432.98,115.89 433.57,115.34 434.17,114.79 434.77,114.24 435.37,113.70 435.96,113.17 436.56,112.64 437.16,112.11 437.76,111.59 438.36,111.07 438.95,110.55 439.55,110.03 440.15,109.52 440.75,109.01 441.34,108.50 441.94,107.99 442.54,107.48 443.14,106.97 443.74,106.46 444.33,105.95 444.93,105.44 445.53,104.93 446.13,104.42 446.73,103.90 448.22,102.58 449.71,101.22 451.21,99.85 452.70,98.49 454.20,97.16 455.69,95.88 457.19,94.66 458.68,93.54 460.18,92.52 461.67,91.61 463.16,90.75 464.66,89.94 466.15,89.17 467.65,88.44 469.14,87.74 470.64,87.07 472.13,86.41 473.63,85.76 475.12,85.11 476.62,84.46 478.11,83.82 479.60,83.18 481.10,82.55 482.59,81.94 484.09,81.34 485.58,80.76 487.08,80.19 488.57,79.66 490.07,79.15 491.56,78.67 493.05,78.22 494.55,77.81 496.04,77.42 497.54,77.04 499.03,76.68 500.53,76.33 502.02,75.99 503.52,75.67 505.01,75.37 506.50,75.07 508.00,74.79 509.49,74.51 510.99,74.25 512.48,74.00 513.98,73.76 515.47,73.52 516.97,73.30 518.46,73.09 519.96,72.89 521.45,72.69 522.94,72.50 524.44,72.31 525.93,72.13 527.43,71.95 528.92,71.76 530.42,71.58 531.91,71.40 533.41,71.23 534.90,71.05 536.39,70.88 537.89,70.70 539.38,70.53 540.88,70.37 542.37,70.20 543.87,70.04 545.36,69.87 546.86,69.71 548.35,69.55 549.85,69.39 551.34,69.24 552.83,69.08 554.33,68.93 555.82,68.77 557.32,68.62 558.81,68.47 560.31,68.32 561.80,68.17 563.30,68.02 564.79,67.88 566.28,67.73 567.78,67.58 569.27,67.44 570.77,67.30 572.26,67.15 573.76,67.01 575.25,66.87 576.75,66.73 578.24,66.59 579.74,66.45 581.23,66.31 582.72,66.17 584.22,66.04 585.71,65.90 587.21,65.77 588.70,65.63 590.20,65.50 591.69,65.37 593.19,65.24 594.68,65.11 596.17,64.98 597.67,64.86 599.16,64.73 600.66,64.61 602.15,64.48 603.65,64.36 605.14,64.24 606.64,64.12 608.13,64.00 609.63,63.89 611.12,63.77 612.61,63.65 614.11,63.54 615.60,63.42 617.10,63.31 618.59,63.19 620.09,63.08 621.58,62.97 623.08,62.85 624.57,62.74 626.06,62.63 627.56,62.52 629.05,62.41 630.55,62.30 632.04,62.19 633.54,62.09 635.03,61.98 636.53,61.87 638.02,61.77 639.52,61.66 641.01,61.56 642.50,61.45 644.00,61.35 645.49,61.25 646.99,61.15 648.48,61.05 649.98,60.95 651.47,60.85 652.97,60.75 654.46,60.66 655.95,60.56 657.45,60.47 658.94,60.37 660.44,60.28 661.93,60.19 663.43,60.10 664.92,60.01 666.42,59.92 667.91,59.83 669.41,59.74 670.90,59.66" stroke="#ff7f0e" stroke-dasharray="9.92 4.29"/>
<path d="M372.00,204.55 372.12,204.14 372.24,203.73 372.36,203.32 372.48,202.91 372.60,202.50 372.72,202.09 372.84,201.68 372.96,201.28 373.08,200.87 373.20,200.47 373.32,200.07 373.43,199.67 373.55,199.27 373.67,198.87 373.79,198.47 373.91,198.07 374.03,197.67 374.15,197.28 374.27,196.89 374.39,196.49 374.51,196.10 374.63,195.71 374.75,195.32 374.87,194.93 374.99,194.54 375.11,194.16 375.23,193.77 375.35,193.39 375.47,193.01 375.59,192.63 375.71,192.25 375.83,191.87 375.95,191.49 376.07,191.11 376.18,190.74 376.30,190.37 376.42,189.99 376.54,189.62 376.66,189.25 376.78,188.89 376.90,188.52 377.02,188.15 377.14,187.79 377.26,187.43 377.38,187.07 377.50,186.71 377.62,186.35 377.74,185.99 377.86,185.64 377.98,185.28 378.10,184.93 378.22,184.58 378.34,184.23 378.46,183.88 378.58,183.54 378.70,183.19 378.81,182.85 378.93,182.51 379.05,182.17 379.17,181.83 379.29,181.49 379.41,181.16 379.53,180.82 379.65,180.49 379.77,180.16 379.89,179.83 380.01,179.51 380.13,179.18 380.25,178.86 380.37,178.54 380.49,178.22 380.61,177.90 380.73,177.58 380.85,177.27 380.97,176.95 381.56,175.42 382.16,173.92 382.76,172.44 383.36,170.97 383.96,169.52 384.55,168.09 385.15,166.68 385.75,165.29 386.35,163.92 386.94,162.58 387.54,161.27 388.14,159.98 388.74,158.73 389.34,157.51 389.93,156.32 390.53,155.16 391.13,154.05 391.73,152.97 392.33,151.94 392.92,150.95 393.52,150.00 394.12,149.10 394.72,148.22 395.31,147.37 395.91,146.55 396.51,145.75 397.11,144.98 397.71,144.22 398.30,143.49 398.90,142.77 399.50,142.08 400.10,141.39 400.69,140.72 401.29,140.07 401.89,139.42 402.49,138.79 403.09,138.16 403.68,137.54 404.28,136.92 404.88,136.31 405.48,135.70 406.07,135.10 406.67,134.49 407.27,133.90 407.87,133.31 408.47,132.73 409.06,132.15 409.66,131.58 410.26,131.02 410.86,130.47 411.45,129.92 412.05,129.39 412.65,128.86 413.25,128.34 413.85,127.84 414.44,127.34 415.04,126.85 415.64,126.37 416.24,125.91 416.83,125.45 417.43,125.01 418.03,124.58 418.63,124.15 419.23,123.74 419.82,123.33 420.42,122.93 421.02,122.54 421.62,122.15 422.22,121.77 422.81,121.40 423.41,121.03 424.01,120.67 424.61,120.31 425.20,119.96 425.80,119.61 426.40,119.26 427.00,118.92 427.60,118.58 428.19,118.25 428.79,117.92 429.39,117.59 429.99,117.26 430.58,116.93 431.18,116.60 431.78,116.28 432.38,115.95 432.98,115.62 433.57,115.30 434.17,114.97 434.77,114.65 435.37,114.33 435.96,114.01 436.56,113.69 437.16,113.37 437.76,113.06 438.36,112.75 438.95,112.45 439.55,112.14 440.15,111.85 440.75,111.55 441.34,111.26 441.94,110.98 442.54,110.70 443.14,110.43 443.74,110.16 444.33,109.91 444.93,109.65 445.53,109.41 446.13,109.17 446.73,108.94 448.22,108.38 449.71,107.84 451.21,107.33 452.70,106.83 454.20,106.35 455.69,105.89 457.19,105.43 458.68,104.99 460.18,104.56 461.67,104.14 463.16,103.71 464.66,103.30 466.15,102.89 467.65,102.51 469.14,102.16 470.64,101.84 472.13,101.52 473.63,101.21 475.12,100.90 476.62,100.57 478.11,100.22 479.60,99.84 481.10,99.42 482.59,98.95 484.09,98.43 485.58,97.74 487.08,96.77 488.57,95.66 490.07,94.52 491.56,93.47 493.05,92.64 494.55,92.12 496.04,91.70 497.54,91.32 499.03,90.98 500.53,90.68 502.02,90.40 503.52,90.14 505.01,89.90 506.50,89.66 508.00,89.43 509.49,89.20 510.99,88.96 512.48,88.70 513.98,88.42 515.47,88.15 516.97,87.88 518.46,87.62 519.96,87.36 521.45,87.10 522.94,86.84 524.44,86.58 525.93,86.32 527.43,86.07 528.92,85.81 530.42,85.55 531.91,85.29 533.41,85.03 534.90,84.77 536.39,84.51 537.89,84.26 539.38,84.00 540.88,83.74 542.37,83.49 543.87,83.23 545.36,82.97 546.86,82.72 548.35,82.46 549.85,82.21 551.34,81.95 552.83,81.70 554.33,81.44 555.82,81.19 557.32,80.93 558.81,80.68 560.31,80.42 561.80,80.17 563.30,79.91 564.79,79.65 566.28,79.39 567.78,79.13 569.27,78.86 570.77,78.60 572.26,78.33 573.76,78.06 575.25,77.79 576.75,77.51 578.24,77.24 579.74,76.97 581.23,76.70 582.72,76.43 584.22,76.16 585.71,75.89 587.21,75.63 588.70,75.37 590.20,75.11 591.69,74.85 593.19,74.59 594.68,74.34 596.17,74.10 597.67,73.86 599.16,73.62 600.66,73.39 602.15,73.16 603.65,72.94 605.14,72.72 606.64,72.52 608.13,72.32 609.63,72.12 611.12,71.92 612.61,71.73 614.11,71.53 615.60,71.34 617.10,71.15 618.59,70.96 620.09,70.77 621.58,70.58 623.08,70.39 624.57,70.21 626.06,70.03 627.56,69.85 629.05,69.67 630.55,69.49 632.04,69.32 633.54,69.14 635.03,68.97 636.53,68.80 638.02,68.64 639.52,68.47 641.01,68.31 642.50,68.15 644.00,67.99 645.49,67.84 646.99,67.68 648.48,67.53 649.98,67.38 651.47,67.24 652.97,67.10 654.46,66.96 655.95,66.82 657.45,66.68 658.94,66.55 660.44,66.42 661.93,66.30 663.43,66.17 664.92,66.05 666.42,65.94 667.91,65.82 669.41,65.71 670.90,65.60" stroke="#2ca02c" stroke-dasharray="9.92 4.29"/>
</g>
<line x1="372.00" y1="213.40" x2="372.00" y2="216.80" stroke="#000" stroke-width="1.1"/>
<text x="372.00" y="226.70" text-anchor="middle">0</text>
<line x1="431.78" y1="213.40" x2="431.78" y2="216.80" stroke="#000" stroke-width="1.1"/>
<text x="431.78" y="226.70" text-anchor="middle">2000</text>
<line x1="491.56" y1="213.40" x2="491.56" y2="216.80" stroke="#000" stroke-width="1.1"/>
<text x="491.56" y="226.70" text-anchor="middle">4000</text>
<line x1="551.34" y1="213.40" x2="551.34" y2="216.80" stroke="#000" stroke-width="1.1"/>
<text x="551.34" y="226.70" text-anchor="middle">6000</text>
<line x1="611.12" y1="213.40" x2="611.12" y2="216.80" stroke="#000" stroke-width="1.1"/>
<text x="611.12" y="226.70" text-anchor="middle">8000</text>
<line x1="670.90" y1="213.40" x2="670.90" y2="216.80" stroke="#000" stroke-width="1.1"/>
<text x="670.90" y="226.70" text-anchor="middle">10000</text>
<line x1="368.60" y1="204.55" x2="372.00" y2="204.55" stroke="#000" stroke-width="1.1"/>
<text x="366.40" y="208.00" text-anchor="end" font-size="9.5">0.0</text>
<line x1="368.60" y1="169.15" x2="372.00" y2="169.15" stroke="#000" stroke-width="1.1"/>
<text x="366.40" y="172.60" text-anchor="end" font-size="9.5">0.2</text>
<line x1="368.60" y1="133.75" x2="372.00" y2="133.75" stroke="#000" stroke-width="1.1"/>
<text x="366.40" y="137.20" text-anchor="end" font-size="9.5">0.4</text>
<line x1="368.60" y1="98.35" x2="372.00" y2="98.35" stroke="#000" stroke-width="1.1"/>
<text x="366.40" y="101.80" text-anchor="end" font-size="9.5">0.6</text>
<line x1="368.60" y1="62.95" x2="372.00" y2="62.95" stroke="#000" stroke-width="1.1"/>
<text x="366.40" y="66.40" text-anchor="end" font-size="9.5">0.8</text>
<line x1="368.60" y1="27.55" x2="372.00" y2="27.55" stroke="#000" stroke-width="1.1"/>
<text x="366.40" y="31.00" text-anchor="end" font-size="9.5">1.0</text>
<rect x="372.0" y="18.7" width="298.9" height="194.7" fill="none" stroke="#000" stroke-width="1.5"/>
<text x="521.45" y="238.70" text-anchor="middle">k</text>
<g clip-path="url(#clipC)" fill-opacity="0.5">
<path d="M22.60,478.40v-176.20h2.82v176.20zM25.54,478.40v-176.20h2.82v176.20zM28.48,478.40v-161.43h2.82v161.43zM31.43,478.40v-161.43h2.82v161.43zM34.37,478.40v-148.51h2.82v148.51zM37.31,478.40v-141.13h2.82v141.13zM40.25,478.40v-115.29h2.82v115.29zM43.19,478.40v-126.36h2.82v126.36zM46.14,478.40v-96.83h2.82v96.83zM49.08,478.40v-74.68h2.82v74.68zM52.02,478.40v-54.38h2.82v54.38zM54.96,478.40v-63.61h2.82v63.61zM57.90,478.40v-93.14h2.82v93.14zM60.85,478.40v-72.84h2.82v72.84zM63.79,478.40v-72.84h2.82v72.84zM66.73,478.40v-50.69h2.82v50.69zM69.67,478.40v-50.69h2.82v50.69zM72.61,478.40v-41.46h2.82v41.46zM75.56,478.40v-39.61h2.82v39.61zM78.50,478.40v-30.39h2.82v30.39zM81.44,478.40v-35.92h2.82v35.92zM84.38,478.40v-36.85h2.82v36.85zM87.32,478.40v-28.54h2.82v28.54zM90.27,478.40v-36.85h2.82v36.85zM93.21,478.40v-29.65h2.82v29.65zM96.15,478.40v-38.88h2.82v38.88zM99.09,478.40v-38.88h2.82v38.88zM102.03,478.40v-36.48h2.82v36.48zM104.98,478.40v-35.37h2.82v35.37zM107.92,478.40v-35.37h2.82v35.37zM110.86,478.40v-29.28h2.82v29.28zM113.80,478.40v-26.69h2.82v26.69zM116.74,478.40v-40.72h2.82v40.72zM119.69,478.40v-48.10h2.82v48.10zM122.63,478.40v-40.72h2.82v40.72zM125.57,478.40v-6.39h2.82v6.39zM128.51,478.40v-10.08h2.82v10.08zM131.45,478.40v-8.24h2.82v8.24zM134.40,478.40v-11.93h2.82v11.93zM137.34,478.40v-15.62h2.82v15.62zM140.28,478.40v-15.62h2.82v15.62zM143.22,478.40v-23.92h2.82v23.92zM146.16,478.40v-23.92h2.82v23.92zM149.11,478.40v-26.14h2.82v26.14zM152.05,478.40v-28.17h2.82v28.17zM154.99,478.40v-6.39h2.82v6.39zM157.93,478.40v-4.54h2.82v4.54zM160.87,478.40v-14.51h2.82v14.51zM163.82,478.40v-20.23h2.82v20.23zM166.76,478.40v-3.44h2.82v3.44zM169.70,478.40v-7.50h2.82v7.50zM172.64,478.40v-4.54h2.82v4.54zM175.58,478.40v-9.34h2.82v9.34zM178.53,478.40v-7.50h2.82v7.50zM181.47,478.40v-2.70h2.82v2.70zM184.41,478.40v-13.03h2.82v13.03zM187.35,478.40v-13.03h2.82v13.03zM190.29,478.40v-11.00h2.82v11.00zM193.24,478.40v-13.03h2.82v13.03zM196.18,478.40v-29.46h2.82v29.46zM199.12,478.40v-13.03h2.82v13.03zM202.06,478.40v-20.23h2.82v20.23zM205.00,478.40v-18.57h2.82v18.57zM207.95,478.40v-24.11h2.82v24.11zM210.89,478.40v-16.54h2.82v16.54zM213.83,478.40v-22.08h2.82v22.08zM216.77,478.40v-18.57h2.82v18.57zM219.71,478.40v-1.78h2.82v1.78zM222.66,478.40v-11.00h2.82v11.00zM225.60,478.40v-3.44h2.82v3.44zM228.54,478.40v-1.78h2.82v1.78zM231.48,478.40v-1.78h2.82v1.78zM234.42,478.40v-3.44h2.82v3.44zM240.31,478.40v-1.78h2.82v1.78zM243.25,478.40v-1.78h2.82v1.78zM246.19,478.40v-3.44h2.82v3.44zM249.13,478.40v-11.00h2.82v11.00zM252.08,478.40v-7.50h2.82v7.50zM255.02,478.40v-5.47h2.82v5.47zM257.96,478.40v-3.44h2.82v3.44zM266.79,478.40v-3.44h2.82v3.44zM287.38,478.40v-15.07h2.82v15.07zM290.32,478.40v-5.47h2.82v5.47zM293.26,478.40v-26.14h2.82v26.14zM296.21,478.40v-8.97h2.82v8.97zM299.15,478.40v-9.34h2.82v9.34zM302.09,478.40v-13.03h2.82v13.03zM305.03,478.40v-15.07h2.82v15.07zM307.97,478.40v-9.34h2.82v9.34zM310.92,478.40v-1.78h2.82v1.78z" fill="#1f77b4"/>
<path d="M22.60,478.40v-102.37h2.87v102.37zM25.59,478.40v-100.52h2.87v100.52zM28.58,478.40v-96.83h2.87v96.83zM31.57,478.40v-106.06h2.87v106.06zM34.56,478.40v-102.37h2.87v102.37zM37.55,478.40v-63.61h2.87v63.61zM40.53,478.40v-115.29h2.87v115.29zM43.52,478.40v-109.75h2.87v109.75zM46.51,478.40v-109.75h2.87v109.75zM49.50,478.40v-109.75h2.87v109.75zM52.49,478.40v-100.52h2.87v100.52zM55.48,478.40v-96.83h2.87v96.83zM58.47,478.40v-74.68h2.87v74.68zM61.46,478.40v-93.14h2.87v93.14zM64.45,478.40v-93.14h2.87v93.14zM67.44,478.40v-78.37h2.87v78.37zM70.42,478.40v-61.76h2.87v61.76zM73.41,478.40v-78.37h2.87v78.37zM76.40,478.40v-80.22h2.87v80.22zM79.39,478.40v-61.76h2.87v61.76zM82.38,478.40v-83.91h2.87v83.91zM85.37,478.40v-54.38h2.87v54.38zM88.36,478.40v-50.69h2.87v50.69zM91.35,478.40v-52.53h2.87v52.53zM94.34,478.40v-50.69h2.87v50.69zM97.32,478.40v-53.64h2.87v53.64zM100.31,478.40v-59.36h2.87v59.36zM103.30,478.40v-36.48h2.87v36.48zM106.29,478.40v-51.98h2.87v51.98zM109.28,478.40v-37.03h2.87v37.03zM112.27,478.40v-22.82h2.87v22.82zM115.26,478.40v-27.80h2.87v27.80zM118.25,478.40v-16.91h2.87v16.91zM121.24,478.40v-35.37h2.87v35.37zM124.23,478.40v-31.12h2.87v31.12zM127.22,478.40v-22.82h2.87v22.82zM130.20,478.40v-26.14h2.87v26.14zM133.19,478.40v-18.57h2.87v18.57zM136.18,478.40v-26.14h2.87v26.14zM139.17,478.40v-26.14h2.87v26.14zM142.16,478.40v-18.57h2.87v18.57zM145.15,478.40v-26.14h2.87v26.14zM148.14,478.40v-11.93h2.87v11.93zM151.13,478.40v-22.08h2.87v22.08zM154.12,478.40v-9.34h2.87v9.34zM157.10,478.40v-9.34h2.87v9.34zM160.09,478.40v-9.34h2.87v9.34zM163.08,478.40v-5.47h2.87v5.47zM166.07,478.40v-9.34h2.87v9.34zM169.06,478.40v-15.07h2.87v15.07zM172.05,478.40v-15.07h2.87v15.07zM175.04,478.40v-1.78h2.87v1.78zM178.03,478.40v-13.03h2.87v13.03zM181.02,478.40v-5.47h2.87v5.47zM184.01,478.40v-11.00h2.87v11.00zM186.99,478.40v-13.03h2.87v13.03zM192.97,478.40v-5.47h2.87v5.47zM198.95,478.40v-7.50h2.87v7.50zM201.94,478.40v-7.50h2.87v7.50zM204.93,478.40v-5.47h2.87v5.47zM207.92,478.40v-9.34h2.87v9.34zM210.91,478.40v-7.50h2.87v7.50zM213.90,478.40v-5.47h2.87v5.47zM216.88,478.40v-3.44h2.87v3.44zM219.87,478.40v-5.47h2.87v5.47zM222.86,478.40v-3.44h2.87v3.44zM228.84,478.40v-5.47h2.87v5.47zM231.83,478.40v-7.50h2.87v7.50zM234.82,478.40v-11.00h2.87v11.00zM240.80,478.40v-7.50h2.87v7.50zM243.79,478.40v-5.47h2.87v5.47zM246.77,478.40v-5.47h2.87v5.47zM249.76,478.40v-7.50h2.87v7.50zM252.75,478.40v-5.47h2.87v5.47zM255.74,478.40v-3.44h2.87v3.44zM261.72,478.40v-3.44h2.87v3.44zM264.71,478.40v-9.34h2.87v9.34zM270.69,478.40v-3.44h2.87v3.44zM276.67,478.40v-3.44h2.87v3.44zM279.65,478.40v-5.47h2.87v5.47zM282.64,478.40v-3.44h2.87v3.44zM285.63,478.40v-3.44h2.87v3.44zM288.62,478.40v-5.47h2.87v5.47zM300.58,478.40v-7.50h2.87v7.50zM303.57,478.40v-5.47h2.87v5.47zM309.54,478.40v-7.50h2.87v7.50zM315.52,478.40v-3.44h2.87v3.44zM318.51,478.40v-9.34h2.87v9.34z" fill="#ff7f0e"/>
<path d="M22.60,478.40v-185.43h2.86v185.43zM25.58,478.40v-179.89h2.86v179.89zM28.56,478.40v-168.82h2.86v168.82zM31.53,478.40v-163.28h2.86v163.28zM34.51,478.40v-131.90h2.86v131.90zM37.49,478.40v-120.83h2.86v120.83zM40.47,478.40v-124.52h2.86v124.52zM43.45,478.40v-94.99h2.86v94.99zM46.42,478.40v-74.68h2.86v74.68zM49.40,478.40v-76.53h2.86v76.53zM52.38,478.40v-76.53h2.86v76.53zM55.36,478.40v-65.45h2.86v65.45zM58.34,478.40v-74.68h2.86v74.68zM61.31,478.40v-39.61h2.86v39.61zM64.29,478.40v-61.76h2.86v61.76zM67.27,478.40v-36.85h2.86v36.85zM70.25,478.40v-28.54h2.86v28.54zM73.23,478.40v-39.61h2.86v39.61zM76.20,478.40v-36.85h2.86v36.85zM79.18,478.40v-61.76h2.86v61.76zM82.16,478.40v-23.00h2.86v23.00zM85.14,478.40v-21.16h2.86v21.16zM88.12,478.40v-36.85h2.86v36.85zM91.09,478.40v-29.65h2.86v29.65zM94.07,478.40v-37.03h2.86v37.03zM97.05,478.40v-23.00h2.86v23.00zM100.03,478.40v-18.57h2.86v18.57zM103.01,478.40v-27.80h2.86v27.80zM105.98,478.40v-24.48h2.86v24.48zM108.96,478.40v-26.32h2.86v26.32zM111.94,478.40v-13.22h2.86v13.22zM114.92,478.40v-7.87h2.86v7.87zM117.90,478.40v-13.22h2.86v13.22zM120.87,478.40v-18.57h2.86v18.57zM123.85,478.40v-26.14h2.86v26.14zM126.83,478.40v-7.87h2.86v7.87zM129.81,478.40v-20.42h2.86v20.42zM132.79,478.40v-13.77h2.86v13.77zM135.76,478.40v-42.38h2.86v42.38zM138.74,478.40v-31.12h2.86v31.12zM141.72,478.40v-22.26h2.86v22.26zM144.70,478.40v-15.07h2.86v15.07zM147.68,478.40v-18.57h2.86v18.57zM150.65,478.40v-15.07h2.86v15.07zM153.63,478.40v-20.23h2.86v20.23zM156.61,478.40v-11.00h2.86v11.00zM159.59,478.40v-16.54h2.86v16.54zM162.57,478.40v-11.00h2.86v11.00zM165.54,478.40v-9.34h2.86v9.34zM168.52,478.40v-11.00h2.86v11.00zM171.50,478.40v-7.50h2.86v7.50zM174.48,478.40v-11.00h2.86v11.00zM177.46,478.40v-14.51h2.86v14.51zM180.43,478.40v-18.57h2.86v18.57zM183.41,478.40v-5.47h2.86v5.47zM186.39,478.40v-3.44h2.86v3.44zM189.37,478.40v-9.34h2.86v9.34zM192.35,478.40v-1.41h2.86v1.41zM195.32,478.40v-13.03h2.86v13.03zM198.30,478.40v-18.57h2.86v18.57zM201.28,478.40v-9.34h2.86v9.34zM204.26,478.40v-11.00h2.86v11.00zM207.24,478.40v-5.47h2.86v5.47zM210.21,478.40v-5.47h2.86v5.47zM213.19,478.40v-7.50h2.86v7.50zM216.17,478.40v-11.00h2.86v11.00zM219.15,478.40v-16.54h2.86v16.54zM222.13,478.40v-9.34h2.86v9.34zM225.10,478.40v-7.50h2.86v7.50zM228.08,478.40v-13.03h2.86v13.03zM231.06,478.40v-15.07h2.86v15.07zM234.04,478.40v-5.47h2.86v5.47zM237.02,478.40v-7.50h2.86v7.50zM239.99,478.40v-5.47h2.86v5.47zM242.97,478.40v-7.50h2.86v7.50zM245.95,478.40v-9.34h2.86v9.34zM248.93,478.40v-20.23h2.86v20.23zM251.91,478.40v-9.34h2.86v9.34zM254.88,478.40v-16.54h2.86v16.54zM257.86,478.40v-5.47h2.86v5.47zM260.84,478.40v-3.44h2.86v3.44zM263.82,478.40v-5.47h2.86v5.47zM266.80,478.40v-7.50h2.86v7.50zM269.77,478.40v-7.50h2.86v7.50zM272.75,478.40v-3.44h2.86v3.44zM275.73,478.40v-3.44h2.86v3.44zM278.71,478.40v-9.34h2.86v9.34zM281.69,478.40v-13.03h2.86v13.03zM284.66,478.40v-7.50h2.86v7.50zM287.64,478.40v-7.50h2.86v7.50zM290.62,478.40v-11.00h2.86v11.00zM293.60,478.40v-3.44h2.86v3.44zM296.58,478.40v-7.50h2.86v7.50zM299.55,478.40v-9.34h2.86v9.34zM302.53,478.40v-7.50h2.86v7.50zM305.51,478.40v-9.34h2.86v9.34zM308.49,478.40v-3.44h2.86v3.44zM311.47,478.40v-3.44h2.86v3.44zM314.44,478.40v-13.03h2.86v13.03zM317.42,478.40v-11.00h2.86v11.00z" fill="#2ca02c"/>
</g>
<line x1="22.60" y1="478.40" x2="22.60" y2="481.80" stroke="#000" stroke-width="1.1"/>
<text x="22.60" y="491.70" text-anchor="middle">0</text>
<line x1="82.38" y1="478.40" x2="82.38" y2="481.80" stroke="#000" stroke-width="1.1"/>
<text x="82.38" y="491.70" text-anchor="middle">2000</text>
<line x1="142.16" y1="478.40" x2="142.16" y2="481.80" stroke="#000" stroke-width="1.1"/>
<text x="142.16" y="491.70" text-anchor="middle">4000</text>
<line x1="201.94" y1="478.40" x2="201.94" y2="481.80" stroke="#000" stroke-width="1.1"/>
<text x="201.94" y="491.70" text-anchor="middle">6000</text>
<line x1="261.72" y1="478.40" x2="261.72" y2="481.80" stroke="#000" stroke-width="1.1"/>
<text x="261.72" y="491.70" text-anchor="middle">8000</text>
<line x1="321.50" y1="478.40" x2="321.50" y2="481.80" stroke="#000" stroke-width="1.1"/>
<text x="321.50" y="491.70" text-anchor="middle">10000</text>
<line x1="19.20" y1="478.40" x2="22.60" y2="478.40" stroke="#000" stroke-width="1.1"/>
<text x="17.00" y="481.85" text-anchor="end" font-size="9.5">0</text>
<line x1="19.20" y1="441.31" x2="22.60" y2="441.31" stroke="#000" stroke-width="1.1"/>
<text x="17.00" y="444.76" text-anchor="end" font-size="9.5">20</text>
<line x1="19.20" y1="404.23" x2="22.60" y2="404.23" stroke="#000" stroke-width="1.1"/>
<text x="17.00" y="407.68" text-anchor="end" font-size="9.5">40</text>
<line x1="19.20" y1="367.14" x2="22.60" y2="367.14" stroke="#000" stroke-width="1.1"/>
<text x="17.00" y="370.59" text-anchor="end" font-size="9.5">60</text>
<line x1="19.20" y1="330.06" x2="22.60" y2="330.06" stroke="#000" stroke-width="1.1"/>
<text x="17.00" y="333.51" text-anchor="end" font-size="9.5">80</text>
<line x1="19.20" y1="292.97" x2="22.60" y2="292.97" stroke="#000" stroke-width="1.1"/>
<text x="17.00" y="296.42" text-anchor="end" font-size="9.5">100</text>
<rect x="22.6" y="283.7" width="298.9" height="194.7" fill="none" stroke="#000" stroke-width="1.5"/>
<text x="172.05" y="503.70" text-anchor="middle">k</text>
<g clip-path="url(#clipD)" fill="none" stroke-width="2.8">
<path d="M372.00,297.82 372.12,298.03 372.24,298.11 372.36,298.56 372.48,298.86 372.60,299.15 372.72,299.36 372.84,299.37 372.96,299.65 373.08,299.95 373.20,300.09 373.32,300.24 373.43,300.13 373.55,300.25 373.67,300.39 373.79,300.40 373.91,300.50 374.03,300.55 374.15,300.56 374.27,300.42 374.39,300.66 374.51,300.71 374.63,300.47 374.75,300.37 374.87,300.40 374.99,300.52 375.11,300.43 375.23,300.40 375.35,300.52 375.47,300.31 375.59,300.37 375.71,300.47 375.83,300.57 375.95,300.64 376.07,300.58 376.18,300.72 376.30,300.61 376.42,300.59 376.54,300.64 376.66,300.63 376.78,300.77 376.90,300.74 377.02,300.69 377.14,300.76 377.26,300.76 377.38,300.87 377.50,301.06 377.62,301.06 377.74,301.17 377.86,301.22 377.98,301.19 378.10,301.41 378.22,301.49 378.34,301.72 378.46,301.85 378.58,302.00 378.70,302.18 378.81,302.26 378.93,302.36 379.05,302.46 379.17,302.48 379.29,302.55 379.41,302.56 379.53,302.66 379.65,302.73 379.77,302.93 379.89,303.00 380.01,303.01 380.13,303.19 380.25,303.35 380.37,303.39 380.49,303.51 380.61,303.63 380.73,303.75 380.85,303.79 380.97,303.89 381.56,304.25 382.16,304.61 382.76,304.94 383.36,305.38 383.96,305.75 384.55,306.30 385.15,306.87 385.75,308.32 386.35,310.61 386.94,312.48 387.54,313.48 388.14,314.24 388.74,314.76 389.34,315.33 389.93,316.11 390.53,317.11 391.13,318.30 391.73,319.51 392.33,320.73 392.92,321.77 393.52,322.63 394.12,323.53 394.72,324.42 395.31,325.29 395.91,326.35 396.51,327.41 397.11,328.58 397.71,329.72 398.30,330.85 398.90,332.06 399.50,333.40 400.10,334.81 400.69,336.14 401.29,337.42 401.89,338.55 402.49,339.48 403.09,340.41 403.68,341.25 404.28,342.10 404.88,342.87 405.48,343.69 406.07,344.51 406.67,345.25 407.27,345.99 407.87,346.74 408.47,347.45 409.06,348.23 409.66,348.90 410.26,349.60 410.86,350.30 411.45,350.96 412.05,351.65 412.65,352.33 413.25,353.03 413.85,353.80 414.44,354.47 415.04,355.22 415.64,356.02 416.24,356.76 416.83,357.56 417.43,358.29 418.03,359.08 418.63,359.76 419.23,360.43 419.82,361.21 420.42,361.94 421.02,362.64 421.62,363.37 422.22,364.06 422.81,364.78 423.41,365.49 424.01,366.25 424.61,366.98 425.20,367.65 425.80,368.31 426.40,369.02 427.00,369.69 427.60,370.40 428.19,371.09 428.79,371.78 429.39,372.44 429.99,373.13 430.58,373.82 431.18,374.48 431.78,375.10 432.38,375.73 432.98,376.32 433.57,376.89 434.17,377.43 434.77,378.00 435.37,378.52 435.96,379.04 436.56,379.54 437.16,380.05 437.76,380.56 438.36,381.08 438.95,381.58 439.55,382.06 440.15,382.55 440.75,383.04 441.34,383.54 441.94,384.08 442.54,384.57 443.14,385.05 443.74,385.51 444.33,386.01 444.93,386.48 445.53,386.94 446.13,387.38 446.73,387.79 448.22,388.77 449.71,389.73 451.21,390.64 452.70,391.54 454.20,392.39 455.69,393.24 457.19,394.05 458.68,394.84 460.18,395.62 461.67,396.37 463.16,397.10 464.66,397.82 466.15,398.54 467.65,399.23 469.14,399.91 470.64,400.57 472.13,401.24 473.63,401.88 475.12,402.51 476.62,403.13 478.11,403.76 479.60,404.36 481.10,404.96 482.59,405.55 484.09,406.13 485.58,406.70 487.08,407.26 488.57,407.81 490.07,408.35 491.56,408.88 493.05,409.42 494.55,409.94 496.04,410.45 497.54,410.96 499.03,411.46 500.53,411.95 502.02,412.44 503.52,412.92 505.01,413.39 506.50,413.85 508.00,414.31 509.49,414.76 510.99,415.19 512.48,415.62 513.98,416.03 515.47,416.43 516.97,416.82 518.46,417.20 519.96,417.56 521.45,417.92 522.94,418.27 524.44,418.61 525.93,418.95 527.43,419.29 528.92,419.62 530.42,419.95 531.91,420.28 533.41,420.61 534.90,420.93 536.39,421.25 537.89,421.57 539.38,421.89 540.88,422.20 542.37,422.51 543.87,422.81 545.36,423.11 546.86,423.40 548.35,423.69 549.85,423.96 551.34,424.24 552.83,424.50 554.33,424.77 555.82,425.04 557.32,425.30 558.81,425.56 560.31,425.82 561.80,426.08 563.30,426.34 564.79,426.60 566.28,426.85 567.78,427.10 569.27,427.35 570.77,427.60 572.26,427.85 573.76,428.09 575.25,428.33 576.75,428.57 578.24,428.81 579.74,429.05 581.23,429.28 582.72,429.52 584.22,429.74 585.71,429.97 587.21,430.20 588.70,430.42 590.20,430.64 591.69,430.86 593.19,431.07 594.68,431.28 596.17,431.49 597.67,431.70 599.16,431.90 600.66,432.10 602.15,432.29 603.65,432.49 605.14,432.68 606.64,432.87 608.13,433.05 609.63,433.23 611.12,433.41 612.61,433.59 614.11,433.76 615.60,433.93 617.10,434.10 618.59,434.27 620.09,434.44 621.58,434.61 623.08,434.78 624.57,434.94 626.06,435.10 627.56,435.26 629.05,435.42 630.55,435.58 632.04,435.74 633.54,435.89 635.03,436.05 636.53,436.20 638.02,436.35 639.52,436.50 641.01,436.64 642.50,436.79 644.00,436.93 645.49,437.07 646.99,437.21 648.48,437.34 649.98,437.47 651.47,437.61 652.97,437.74 654.46,437.86 655.95,437.99 657.45,438.11 658.94,438.23 660.44,438.35 661.93,438.47 663.43,438.58 664.92,438.69 666.42,438.80 667.91,438.90 669.41,439.01 670.90,439.11" stroke="#1f77b4" stroke-opacity="0.1"/>
<path d="M372.00,469.44 372.12,416.21 372.24,407.73 372.36,401.80 372.48,397.58 372.60,394.53 372.72,392.40 372.84,390.65 372.96,388.74 373.08,386.93 373.20,385.38 373.32,384.04 373.43,382.81 373.55,381.52 373.67,380.30 373.79,379.27 373.91,378.43 374.03,377.72 374.15,377.09 374.27,376.46 374.39,376.10 374.51,375.49 374.63,375.05 374.75,374.77 374.87,374.44 374.99,373.96 375.11,373.56 375.23,373.35 375.35,373.17 375.47,372.90 375.59,372.72 375.71,372.62 375.83,372.49 375.95,372.34 376.07,372.34 376.18,372.32 376.30,372.35 376.42,372.52 376.54,372.58 376.66,372.70 376.78,372.82 376.90,373.02 377.02,373.28 377.14,373.60 377.26,373.94 377.38,374.08 377.50,374.19 377.62,374.50 377.74,374.92 377.86,375.22 377.98,375.44 378.10,375.77 378.22,376.37 378.34,376.92 378.46,377.70 378.58,378.46 378.70,379.17 378.81,379.73 378.93,380.28 379.05,380.75 379.17,381.03 379.29,380.82 379.41,380.56 379.53,379.99 379.65,379.52 379.77,378.78 379.89,378.03 380.01,377.37 380.13,376.79 380.25,376.26 380.37,375.94 380.49,375.60 380.61,375.37 380.73,374.84 380.85,374.50 380.97,374.30 381.56,373.85 382.16,373.74 382.76,373.65 383.36,373.69 383.96,373.73 384.55,373.74 385.15,373.95 385.75,374.21 386.35,374.43 386.94,374.70 387.54,376.44 388.14,380.19 388.74,381.60 389.34,381.08 389.93,380.46 390.53,379.84 391.13,379.34 391.73,378.96 392.33,378.64 392.92,378.23 393.52,377.85 394.12,377.38 394.72,376.99 395.31,376.48 395.91,376.06 396.51,375.73 397.11,375.38 397.71,374.99 398.30,374.66 398.90,374.40 399.50,374.20 400.10,374.00 400.69,373.82 401.29,373.64 401.89,373.46 402.49,373.32 403.09,373.33 403.68,373.37 404.28,373.44 404.88,373.43 405.48,373.42 406.07,373.54 406.67,373.63 407.27,373.83 407.87,373.97 408.47,374.08 409.06,374.24 409.66,374.35 410.26,374.58 410.86,374.79 411.45,374.92 412.05,375.12 412.65,375.21 413.25,375.38 413.85,375.61 414.44,375.83 415.04,376.06 415.64,376.25 416.24,376.50 416.83,376.74 417.43,376.95 418.03,377.20 418.63,377.43 419.23,377.62 419.82,377.78 420.42,377.99 421.02,378.21 421.62,378.40 422.22,378.60 422.81,378.83 423.41,379.09 424.01,379.34 424.61,379.59 425.20,379.84 425.80,380.11 426.40,380.36 427.00,380.62 427.60,380.86 428.19,381.11 428.79,381.35 429.39,381.60 429.99,381.85 430.58,382.12 431.18,382.36 431.78,382.60 432.38,382.82 432.98,383.08 433.57,383.32 434.17,383.55 434.77,383.78 435.37,384.03 435.96,384.27 436.56,384.51 437.16,384.74 437.76,385.00 438.36,385.24 438.95,385.49 439.55,385.72 440.15,385.95 440.75,386.18 441.34,386.42 441.94,386.66 442.54,386.93 443.14,387.19 443.74,387.45 444.33,387.70 444.93,387.98 445.53,388.27 446.13,388.54 446.73,388.80 448.22,389.50 449.71,390.20 451.21,390.92 452.70,391.64 454.20,392.38 455.69,393.10 457.19,393.83 458.68,394.56 460.18,395.29 461.67,396.00 463.16,396.71 464.66,397.39 466.15,398.06 467.65,398.70 469.14,399.36 470.64,400.00 472.13,400.63 473.63,401.25 475.12,401.87 476.62,402.47 478.11,403.09 479.60,403.69 481.10,404.27 482.59,404.85 484.09,405.44 485.58,406.02 487.08,406.59 488.57,407.15 490.07,407.70 491.56,408.24 493.05,408.77 494.55,409.31 496.04,409.84 497.54,410.35 499.03,410.85 500.53,411.36 502.02,411.86 503.52,412.35 505.01,412.84 506.50,413.33 508.00,413.80 509.49,414.27 510.99,414.74 512.48,415.21 513.98,415.66 515.47,416.11 516.97,416.55 518.46,416.98 519.96,417.41 521.45,417.84 522.94,418.25 524.44,418.66 525.93,419.07 527.43,419.47 528.92,419.87 530.42,420.26 531.91,420.65 533.41,421.04 534.90,421.43 536.39,421.82 537.89,422.21 539.38,422.60 540.88,422.98 542.37,423.35 543.87,423.72 545.36,424.08 546.86,424.42 548.35,424.76 549.85,425.08 551.34,425.39 552.83,425.69 554.33,425.98 555.82,426.27 557.32,426.56 558.81,426.85 560.31,427.13 561.80,427.41 563.30,427.69 564.79,427.96 566.28,428.23 567.78,428.49 569.27,428.76 570.77,429.02 572.26,429.28 573.76,429.53 575.25,429.79 576.75,430.04 578.24,430.28 579.74,430.53 581.23,430.77 582.72,431.00 584.22,431.24 585.71,431.47 587.21,431.70 588.70,431.93 590.20,432.15 591.69,432.37 593.19,432.59 594.68,432.80 596.17,433.02 597.67,433.23 599.16,433.43 600.66,433.64 602.15,433.84 603.65,434.04 605.14,434.24 606.64,434.43 608.13,434.62 609.63,434.81 611.12,435.00 612.61,435.19 614.11,435.37 615.60,435.55 617.10,435.73 618.59,435.91 620.09,436.09 621.58,436.27 623.08,436.45 624.57,436.62 626.06,436.79 627.56,436.96 629.05,437.13 630.55,437.30 632.04,437.46 633.54,437.63 635.03,437.79 636.53,437.95 638.02,438.11 639.52,438.27 641.01,438.42 642.50,438.57 644.00,438.72 645.49,438.87 646.99,439.02 648.48,439.16 649.98,439.31 651.47,439.45 652.97,439.59 654.46,439.72 655.95,439.85 657.45,439.99 658.94,440.11 660.44,440.24 661.93,440.36 663.43,440.49 664.92,440.60 666.42,440.72 667.91,440.83 669.41,440.94 670.90,441.05" stroke="#ff7f0e" stroke-opacity="0.1"/>
<path d="M372.00,292.90 372.12,292.80 372.24,292.58 372.36,292.64 372.48,292.62 372.60,292.63 372.72,292.70 372.84,292.57 372.96,292.52 373.08,292.47 373.20,292.65 373.32,292.68 373.43,292.65 373.55,292.52 373.67,292.42 373.79,292.38 373.91,292.37 374.03,292.37 374.15,292.20 374.27,292.30 374.39,292.30 374.51,292.23 374.63,292.41 374.75,292.49 374.87,292.50 374.99,292.66 375.11,292.99 375.23,293.43 375.35,294.00 375.47,294.32 375.59,294.85 375.71,295.28 375.83,295.56 375.95,295.83 376.07,296.07 376.18,296.21 376.30,296.24 376.42,295.99 376.54,295.87 376.66,295.64 376.78,295.38 376.90,295.19 377.02,295.11 377.14,295.00 377.26,294.76 377.38,294.61 377.50,294.53 377.62,294.62 377.74,294.64 377.86,294.83 377.98,294.89 378.10,294.91 378.22,295.03 378.34,295.17 378.46,295.39 378.58,295.46 378.70,295.70 378.81,295.94 378.93,295.91 379.05,296.06 379.17,296.43 379.29,296.57 379.41,296.77 379.53,296.96 379.65,297.13 379.77,297.31 379.89,297.45 380.01,297.79 380.13,298.00 380.25,298.09 380.37,298.29 380.49,298.63 380.61,298.69 380.73,298.93 380.85,299.00 380.97,299.12 381.56,299.82 382.16,300.68 382.76,301.46 383.36,302.27 383.96,302.96 384.55,304.06 385.15,305.22 385.75,306.74 386.35,308.90 386.94,310.91 387.54,312.59 388.14,314.19 388.74,315.59 389.34,316.95 389.93,318.09 390.53,319.17 391.13,320.16 391.73,321.10 392.33,322.12 392.92,323.13 393.52,324.34 394.12,325.71 394.72,327.21 395.31,328.69 395.91,330.14 396.51,331.49 397.11,332.95 397.71,334.40 398.30,335.98 398.90,337.36 399.50,338.72 400.10,339.98 400.69,341.33 401.29,342.49 401.89,343.69 402.49,344.88 403.09,346.05 403.68,347.07 404.28,348.10 404.88,349.08 405.48,350.04 406.07,350.97 406.67,351.95 407.27,352.94 407.87,353.79 408.47,354.67 409.06,355.53 409.66,356.46 410.26,357.38 410.86,358.33 411.45,359.16 412.05,360.02 412.65,360.87 413.25,361.77 413.85,362.60 414.44,363.46 415.04,364.26 415.64,365.03 416.24,365.74 416.83,366.55 417.43,367.33 418.03,368.10 418.63,368.86 419.23,369.58 419.82,370.27 420.42,370.95 421.02,371.65 421.62,372.38 422.22,373.05 422.81,373.74 423.41,374.38 424.01,375.00 424.61,375.66 425.20,376.32 425.80,376.95 426.40,377.58 427.00,378.17 427.60,378.78 428.19,379.35 428.79,379.92 429.39,380.49 429.99,381.03 430.58,381.62 431.18,382.16 431.78,382.73 432.38,383.30 432.98,383.84 433.57,384.39 434.17,384.94 434.77,385.50 435.37,386.05 435.96,386.56 436.56,387.11 437.16,387.62 437.76,388.15 438.36,388.65 438.95,389.15 439.55,389.63 440.15,390.11 440.75,390.61 441.34,391.06 441.94,391.49 442.54,391.94 443.14,392.35 443.74,392.78 444.33,393.18 444.93,393.60 445.53,393.98 446.13,394.37 446.73,394.76 448.22,395.70 449.71,396.61 451.21,397.48 452.70,398.32 454.20,399.15 455.69,399.95 457.19,400.73 458.68,401.50 460.18,402.25 461.67,403.00 463.16,403.75 464.66,404.49 466.15,405.24 467.65,405.98 469.14,406.72 470.64,407.47 472.13,408.21 473.63,408.95 475.12,409.66 476.62,410.35 478.11,411.04 479.60,411.68 481.10,412.31 482.59,412.89 484.09,413.45 485.58,413.95 487.08,414.42 488.57,414.86 490.07,415.28 491.56,415.68 493.05,416.05 494.55,416.42 496.04,416.77 497.54,417.11 499.03,417.44 500.53,417.76 502.02,418.08 503.52,418.41 505.01,418.73 506.50,419.06 508.00,419.38 509.49,419.72 510.99,420.07 512.48,420.43 513.98,420.81 515.47,421.21 516.97,421.62 518.46,422.04 519.96,422.48 521.45,422.92 522.94,423.36 524.44,423.80 525.93,424.23 527.43,424.64 528.92,425.04 530.42,425.42 531.91,425.77 533.41,426.11 534.90,426.45 536.39,426.77 537.89,427.09 539.38,427.40 540.88,427.71 542.37,428.00 543.87,428.29 545.36,428.57 546.86,428.85 548.35,429.12 549.85,429.38 551.34,429.64 552.83,429.89 554.33,430.14 555.82,430.38 557.32,430.63 558.81,430.88 560.31,431.12 561.80,431.36 563.30,431.60 564.79,431.84 566.28,432.07 567.78,432.31 569.27,432.54 570.77,432.77 572.26,433.00 573.76,433.22 575.25,433.45 576.75,433.67 578.24,433.89 579.74,434.10 581.23,434.31 582.72,434.52 584.22,434.73 585.71,434.94 587.21,435.14 588.70,435.34 590.20,435.53 591.69,435.73 593.19,435.91 594.68,436.10 596.17,436.28 597.67,436.46 599.16,436.64 600.66,436.81 602.15,436.98 603.65,437.14 605.14,437.31 606.64,437.46 608.13,437.62 609.63,437.77 611.12,437.91 612.61,438.06 614.11,438.20 615.60,438.34 617.10,438.48 618.59,438.62 620.09,438.75 621.58,438.89 623.08,439.02 624.57,439.16 626.06,439.29 627.56,439.42 629.05,439.55 630.55,439.67 632.04,439.80 633.54,439.92 635.03,440.04 636.53,440.16 638.02,440.28 639.52,440.40 641.01,440.51 642.50,440.63 644.00,440.74 645.49,440.84 646.99,440.95 648.48,441.05 649.98,441.15 651.47,441.25 652.97,441.35 654.46,441.44 655.95,441.53 657.45,441.62 658.94,441.71 660.44,441.79 661.93,441.87 663.43,441.95 664.92,442.02 666.42,442.10 667.91,442.16 669.41,442.23 670.90,442.29" stroke="#2ca02c" stroke-opacity="0.1"/>
<path d="M372.00,469.55 372.12,469.17 372.24,468.79 372.36,468.41 372.48,468.03 372.60,467.65 372.72,467.28 372.84,466.90 372.96,466.52 373.08,466.15 373.20,465.77 373.32,465.40 373.43,465.03 373.55,464.66 373.67,464.28 373.79,463.91 373.91,463.54 374.03,463.18 374.15,462.81 374.27,462.44 374.39,462.07 374.51,461.71 374.63,461.34 374.75,460.98 374.87,460.62 374.99,460.25 375.11,459.89 375.23,459.53 375.35,459.17 375.47,458.81 375.59,458.46 375.71,458.10 375.83,457.74 375.95,457.39 376.07,457.03 376.18,456.68 376.30,456.33 376.42,455.98 376.54,455.62 376.66,455.27 376.78,454.93 376.90,454.58 377.02,454.23 377.14,453.89 377.26,453.54 377.38,453.20 377.50,452.85 377.62,452.51 377.74,452.17 377.86,451.83 377.98,451.49 378.10,451.15 378.22,450.82 378.34,450.48 378.46,450.15 378.58,449.81 378.70,449.48 378.81,449.15 378.93,448.82 379.05,448.49 379.17,448.16 379.29,447.83 379.41,447.51 379.53,447.18 379.65,446.86 379.77,446.54 379.89,446.22 380.01,445.90 380.13,445.58 380.25,445.26 380.37,444.94 380.49,444.62 380.61,444.31 380.73,444.00 380.85,443.68 380.97,443.37 381.56,441.84 382.16,440.33 382.76,438.83 383.36,437.36 383.96,435.89 384.55,434.45 385.15,433.02 385.75,431.61 386.35,430.22 386.94,428.84 387.54,427.49 388.14,426.15 388.74,424.84 389.34,423.54 389.93,422.26 390.53,421.01 391.13,419.78 391.73,418.57 392.33,417.38 392.92,416.21 393.52,415.07 394.12,413.95 394.72,412.85 395.31,411.76 395.91,410.69 396.51,409.65 397.11,408.62 397.71,407.62 398.30,406.65 398.90,405.71 399.50,404.81 400.10,403.94 400.69,403.10 401.29,402.30 401.89,401.52 402.49,400.74 403.09,399.98 403.68,399.23 404.28,398.49 404.88,397.76 405.48,397.05 406.07,396.34 406.67,395.65 407.27,394.97 407.87,394.30 408.47,393.64 409.06,392.99 409.66,392.36 410.26,391.73 410.86,391.12 411.45,390.51 412.05,389.92 412.65,389.34 413.25,388.77 413.85,388.21 414.44,387.66 415.04,387.12 415.64,386.59 416.24,386.07 416.83,385.56 417.43,385.07 418.03,384.58 418.63,384.10 419.23,383.64 419.82,383.18 420.42,382.73 421.02,382.29 421.62,381.86 422.22,381.43 422.81,381.02 423.41,380.61 424.01,380.21 424.61,379.81 425.20,379.42 425.80,379.04 426.40,378.66 427.00,378.29 427.60,377.92 428.19,377.55 428.79,377.19 429.39,376.84 429.99,376.48 430.58,376.13 431.18,375.78 431.78,375.44 432.38,375.10 432.98,374.77 433.57,374.44 434.17,374.13 434.77,373.82 435.37,373.52 435.96,373.22 436.56,372.93 437.16,372.64 437.76,372.36 438.36,372.08 438.95,371.79 439.55,371.51 440.15,371.23 440.75,370.94 441.34,370.66 441.94,370.37 442.54,370.07 443.14,369.77 443.74,369.46 444.33,369.15 444.93,368.83 445.53,368.50 446.13,368.16 446.73,367.81 448.22,366.90 449.71,365.92 451.21,364.91 452.70,363.87 454.20,362.82 455.69,361.77 457.19,360.73 458.68,359.72 460.18,358.76 461.67,357.82 463.16,356.87 464.66,355.92 466.15,354.98 467.65,354.06 469.14,353.17 470.64,352.31 472.13,351.51 473.63,350.78 475.12,350.11 476.62,349.49 478.11,348.90 479.60,348.33 481.10,347.79 482.59,347.26 484.09,346.76 485.58,346.28 487.08,345.82 488.57,345.37 490.07,344.93 491.56,344.51 493.05,344.10 494.55,343.69 496.04,343.29 497.54,342.90 499.03,342.51 500.53,342.13 502.02,341.76 503.52,341.40 505.01,341.05 506.50,340.71 508.00,340.39 509.49,340.08 510.99,339.79 512.48,339.52 513.98,339.27 515.47,339.04 516.97,338.83 518.46,338.63 519.96,338.46 521.45,338.29 522.94,338.13 524.44,337.97 525.93,337.81 527.43,337.64 528.92,337.47 530.42,337.29 531.91,337.10 533.41,336.92 534.90,336.73 536.39,336.53 537.89,336.31 539.38,336.08 540.88,335.84 542.37,335.58 543.87,335.31 545.36,335.02 546.86,334.71 548.35,334.38 549.85,334.03 551.34,333.65 552.83,333.17 554.33,332.60 555.82,331.96 557.32,331.27 558.81,330.56 560.31,329.84 561.80,329.13 563.30,328.47 564.79,327.86 566.28,327.33 567.78,326.91 569.27,326.61 570.77,326.43 572.26,326.27 573.76,326.12 575.25,325.97 576.75,325.84 578.24,325.72 579.74,325.60 581.23,325.49 582.72,325.38 584.22,325.29 585.71,325.20 587.21,325.11 588.70,325.03 590.20,324.95 591.69,324.88 593.19,324.81 594.68,324.74 596.17,324.67 597.67,324.61 599.16,324.55 600.66,324.49 602.15,324.43 603.65,324.36 605.14,324.30 606.64,324.24 608.13,324.17 609.63,324.11 611.12,324.06 612.61,324.01 614.11,323.96 615.60,323.92 617.10,323.88 618.59,323.84 620.09,323.81 621.58,323.77 623.08,323.74 624.57,323.71 626.06,323.67 627.56,323.63 629.05,323.59 630.55,323.54 632.04,323.49 633.54,323.44 635.03,323.38 636.53,323.31 638.02,323.23 639.52,323.15 641.01,323.05 642.50,322.90 644.00,322.61 645.49,322.19 646.99,321.68 648.48,321.11 649.98,320.52 651.47,319.93 652.97,319.38 654.46,318.90 655.95,318.52 657.45,318.27 658.94,318.15 660.44,318.06 661.93,317.97 663.43,317.89 664.92,317.82 666.42,317.76 667.91,317.72 669.41,317.69 670.90,317.68" stroke="#1f77b4" stroke-opacity="0.1" stroke-dasharray="9.92 4.29"/>
<path d="M372.00,469.55 372.12,469.34 372.24,469.13 372.36,468.92 372.48,468.70 372.60,468.49 372.72,468.28 372.84,468.07 372.96,467.86 373.08,467.65 373.20,467.44 373.32,467.23 373.43,467.02 373.55,466.81 373.67,466.60 373.79,466.39 373.91,466.18 374.03,465.97 374.15,465.76 374.27,465.55 374.39,465.34 374.51,465.13 374.63,464.92 374.75,464.71 374.87,464.50 374.99,464.30 375.11,464.09 375.23,463.88 375.35,463.67 375.47,463.46 375.59,463.25 375.71,463.05 375.83,462.84 375.95,462.63 376.07,462.42 376.18,462.21 376.30,462.01 376.42,461.80 376.54,461.59 376.66,461.39 376.78,461.18 376.90,460.97 377.02,460.76 377.14,460.56 377.26,460.35 377.38,460.14 377.50,459.94 377.62,459.73 377.74,459.53 377.86,459.32 377.98,459.11 378.10,458.91 378.22,458.70 378.34,458.50 378.46,458.29 378.58,458.09 378.70,457.88 378.81,457.68 378.93,457.47 379.05,457.27 379.17,457.06 379.29,456.86 379.41,456.65 379.53,456.45 379.65,456.24 379.77,456.04 379.89,455.84 380.01,455.63 380.13,455.43 380.25,455.23 380.37,455.02 380.49,454.82 380.61,454.62 380.73,454.41 380.85,454.21 380.97,454.01 381.56,452.99 382.16,451.98 382.76,450.98 383.36,449.97 383.96,448.97 384.55,447.97 385.15,446.97 385.75,445.98 386.35,444.99 386.94,444.00 387.54,443.02 388.14,442.05 388.74,441.08 389.34,440.11 389.93,439.15 390.53,438.19 391.13,437.24 391.73,436.29 392.33,435.34 392.92,434.39 393.52,433.44 394.12,432.50 394.72,431.55 395.31,430.60 395.91,429.65 396.51,428.69 397.11,427.74 397.71,426.78 398.30,425.82 398.90,424.85 399.50,423.86 400.10,422.87 400.69,421.88 401.29,420.88 401.89,419.87 402.49,418.87 403.09,417.86 403.68,416.86 404.28,415.87 404.88,414.89 405.48,413.91 406.07,412.95 406.67,412.01 407.27,411.08 407.87,410.17 408.47,409.28 409.06,408.39 409.66,407.51 410.26,406.64 410.86,405.77 411.45,404.91 412.05,404.06 412.65,403.23 413.25,402.40 413.85,401.58 414.44,400.78 415.04,399.99 415.64,399.21 416.24,398.45 416.83,397.71 417.43,396.98 418.03,396.27 418.63,395.57 419.23,394.88 419.82,394.20 420.42,393.53 421.02,392.86 421.62,392.21 422.22,391.57 422.81,390.93 423.41,390.30 424.01,389.67 424.61,389.06 425.20,388.45 425.80,387.84 426.40,387.24 427.00,386.65 427.60,386.06 428.19,385.47 428.79,384.89 429.39,384.31 429.99,383.74 430.58,383.16 431.18,382.59 431.78,382.02 432.38,381.45 432.98,380.89 433.57,380.34 434.17,379.79 434.77,379.24 435.37,378.70 435.96,378.17 436.56,377.64 437.16,377.11 437.76,376.59 438.36,376.07 438.95,375.55 439.55,375.03 440.15,374.52 440.75,374.01 441.34,373.50 441.94,372.99 442.54,372.48 443.14,371.97 443.74,371.46 444.33,370.95 444.93,370.44 445.53,369.93 446.13,369.42 446.73,368.90 448.22,367.58 449.71,366.22 451.21,364.85 452.70,363.49 454.20,362.16 455.69,360.88 457.19,359.66 458.68,358.54 460.18,357.52 461.67,356.61 463.16,355.75 464.66,354.94 466.15,354.17 467.65,353.44 469.14,352.74 470.64,352.07 472.13,351.41 473.63,350.76 475.12,350.11 476.62,349.46 478.11,348.82 479.60,348.18 481.10,347.55 482.59,346.94 484.09,346.34 485.58,345.76 487.08,345.19 488.57,344.66 490.07,344.15 491.56,343.67 493.05,343.22 494.55,342.81 496.04,342.42 497.54,342.04 499.03,341.68 500.53,341.33 502.02,340.99 503.52,340.67 505.01,340.37 506.50,340.07 508.00,339.79 509.49,339.51 510.99,339.25 512.48,339.00 513.98,338.76 515.47,338.52 516.97,338.30 518.46,338.09 519.96,337.89 521.45,337.69 522.94,337.50 524.44,337.31 525.93,337.13 527.43,336.95 528.92,336.76 530.42,336.58 531.91,336.40 533.41,336.23 534.90,336.05 536.39,335.88 537.89,335.70 539.38,335.53 540.88,335.37 542.37,335.20 543.87,335.04 545.36,334.87 546.86,334.71 548.35,334.55 549.85,334.39 551.34,334.24 552.83,334.08 554.33,333.93 555.82,333.77 557.32,333.62 558.81,333.47 560.31,333.32 561.80,333.17 563.30,333.02 564.79,332.88 566.28,332.73 567.78,332.58 569.27,332.44 570.77,332.30 572.26,332.15 573.76,332.01 575.25,331.87 576.75,331.73 578.24,331.59 579.74,331.45 581.23,331.31 582.72,331.17 584.22,331.04 585.71,330.90 587.21,330.77 588.70,330.63 590.20,330.50 591.69,330.37 593.19,330.24 594.68,330.11 596.17,329.98 597.67,329.86 599.16,329.73 600.66,329.61 602.15,329.48 603.65,329.36 605.14,329.24 606.64,329.12 608.13,329.00 609.63,328.89 611.12,328.77 612.61,328.65 614.11,328.54 615.60,328.42 617.10,328.31 618.59,328.19 620.09,328.08 621.58,327.97 623.08,327.85 624.57,327.74 626.06,327.63 627.56,327.52 629.05,327.41 630.55,327.30 632.04,327.19 633.54,327.09 635.03,326.98 636.53,326.87 638.02,326.77 639.52,326.66 641.01,326.56 642.50,326.45 644.00,326.35 645.49,326.25 646.99,326.15 648.48,326.05 649.98,325.95 651.47,325.85 652.97,325.75 654.46,325.66 655.95,325.56 657.45,325.47 658.94,325.37 660.44,325.28 661.93,325.19 663.43,325.10 664.92,325.01 666.42,324.92 667.91,324.83 669.41,324.74 670.90,324.66" stroke="#ff7f0e" stroke-opacity="0.1" stroke-dasharray="9.92 4.29"/>
<path d="M372.00,469.55 372.12,469.14 372.24,468.73 372.36,468.32 372.48,467.91 372.60,467.50 372.72,467.09 372.84,466.68 372.96,466.28 373.08,465.87 373.20,465.47 373.32,465.07 373.43,464.67 373.55,464.27 373.67,463.87 373.79,463.47 373.91,463.07 374.03,462.67 374.15,462.28 374.27,461.89 374.39,461.49 374.51,461.10 374.63,460.71 374.75,460.32 374.87,459.93 374.99,459.54 375.11,459.16 375.23,458.77 375.35,458.39 375.47,458.01 375.59,457.63 375.71,457.25 375.83,456.87 375.95,456.49 376.07,456.11 376.18,455.74 376.30,455.37 376.42,454.99 376.54,454.62 376.66,454.25 376.78,453.89 376.90,453.52 377.02,453.15 377.14,452.79 377.26,452.43 377.38,452.07 377.50,451.71 377.62,451.35 377.74,450.99 377.86,450.64 377.98,450.28 378.10,449.93 378.22,449.58 378.34,449.23 378.46,448.88 378.58,448.54 378.70,448.19 378.81,447.85 378.93,447.51 379.05,447.17 379.17,446.83 379.29,446.49 379.41,446.16 379.53,445.82 379.65,445.49 379.77,445.16 379.89,444.83 380.01,444.51 380.13,444.18 380.25,443.86 380.37,443.54 380.49,443.22 380.61,442.90 380.73,442.58 380.85,442.27 380.97,441.95 381.56,440.42 382.16,438.92 382.76,437.44 383.36,435.97 383.96,434.52 384.55,433.09 385.15,431.68 385.75,430.29 386.35,428.92 386.94,427.58 387.54,426.27 388.14,424.98 388.74,423.73 389.34,422.51 389.93,421.32 390.53,420.16 391.13,419.05 391.73,417.97 392.33,416.94 392.92,415.95 393.52,415.00 394.12,414.10 394.72,413.22 395.31,412.37 395.91,411.55 396.51,410.75 397.11,409.98 397.71,409.22 398.30,408.49 398.90,407.77 399.50,407.08 400.10,406.39 400.69,405.72 401.29,405.07 401.89,404.42 402.49,403.79 403.09,403.16 403.68,402.54 404.28,401.92 404.88,401.31 405.48,400.70 406.07,400.10 406.67,399.49 407.27,398.90 407.87,398.31 408.47,397.73 409.06,397.15 409.66,396.58 410.26,396.02 410.86,395.47 411.45,394.92 412.05,394.39 412.65,393.86 413.25,393.34 413.85,392.84 414.44,392.34 415.04,391.85 415.64,391.37 416.24,390.91 416.83,390.45 417.43,390.01 418.03,389.58 418.63,389.15 419.23,388.74 419.82,388.33 420.42,387.93 421.02,387.54 421.62,387.15 422.22,386.77 422.81,386.40 423.41,386.03 424.01,385.67 424.61,385.31 425.20,384.96 425.80,384.61 426.40,384.26 427.00,383.92 427.60,383.58 428.19,383.25 428.79,382.92 429.39,382.59 429.99,382.26 430.58,381.93 431.18,381.60 431.78,381.28 432.38,380.95 432.98,380.62 433.57,380.30 434.17,379.97 434.77,379.65 435.37,379.33 435.96,379.01 436.56,378.69 437.16,378.37 437.76,378.06 438.36,377.75 438.95,377.45 439.55,377.14 440.15,376.85 440.75,376.55 441.34,376.26 441.94,375.98 442.54,375.70 443.14,375.43 443.74,375.16 444.33,374.91 444.93,374.65 445.53,374.41 446.13,374.17 446.73,373.94 448.22,373.38 449.71,372.84 451.21,372.33 452.70,371.83 454.20,371.35 455.69,370.89 457.19,370.43 458.68,369.99 460.18,369.56 461.67,369.14 463.16,368.71 464.66,368.30 466.15,367.89 467.65,367.51 469.14,367.16 470.64,366.84 472.13,366.52 473.63,366.21 475.12,365.90 476.62,365.57 478.11,365.22 479.60,364.84 481.10,364.42 482.59,363.95 484.09,363.43 485.58,362.74 487.08,361.77 488.57,360.66 490.07,359.52 491.56,358.47 493.05,357.64 494.55,357.12 496.04,356.70 497.54,356.32 499.03,355.98 500.53,355.68 502.02,355.40 503.52,355.14 505.01,354.90 506.50,354.66 508.00,354.43 509.49,354.20 510.99,353.96 512.48,353.70 513.98,353.42 515.47,353.15 516.97,352.88 518.46,352.62 519.96,352.36 521.45,352.10 522.94,351.84 524.44,351.58 525.93,351.32 527.43,351.07 528.92,350.81 530.42,350.55 531.91,350.29 533.41,350.03 534.90,349.77 536.39,349.51 537.89,349.26 539.38,349.00 540.88,348.74 542.37,348.49 543.87,348.23 545.36,347.97 546.86,347.72 548.35,347.46 549.85,347.21 551.34,346.95 552.83,346.70 554.33,346.44 555.82,346.19 557.32,345.93 558.81,345.68 560.31,345.42 561.80,345.17 563.30,344.91 564.79,344.65 566.28,344.39 567.78,344.13 569.27,343.86 570.77,343.60 572.26,343.33 573.76,343.06 575.25,342.79 576.75,342.51 578.24,342.24 579.74,341.97 581.23,341.70 582.72,341.43 584.22,341.16 585.71,340.89 587.21,340.63 588.70,340.37 590.20,340.11 591.69,339.85 593.19,339.59 594.68,339.34 596.17,339.10 597.67,338.86 599.16,338.62 600.66,338.39 602.15,338.16 603.65,337.94 605.14,337.72 606.64,337.52 608.13,337.32 609.63,337.12 611.12,336.92 612.61,336.73 614.11,336.53 615.60,336.34 617.10,336.15 618.59,335.96 620.09,335.77 621.58,335.58 623.08,335.39 624.57,335.21 626.06,335.03 627.56,334.85 629.05,334.67 630.55,334.49 632.04,334.32 633.54,334.14 635.03,333.97 636.53,333.80 638.02,333.64 639.52,333.47 641.01,333.31 642.50,333.15 644.00,332.99 645.49,332.84 646.99,332.68 648.48,332.53 649.98,332.38 651.47,332.24 652.97,332.10 654.46,331.96 655.95,331.82 657.45,331.68 658.94,331.55 660.44,331.42 661.93,331.30 663.43,331.17 664.92,331.05 666.42,330.94 667.91,330.82 669.41,330.71 670.90,330.61" stroke="#2ca02c" stroke-opacity="0.1" stroke-dasharray="9.92 4.29"/>
<path d="M372.00,296.80 372.12,296.81 372.24,296.83 372.36,296.84 372.48,296.86 372.60,296.88 372.72,296.91 372.84,296.93 372.96,296.95 373.08,296.98 373.20,297.01 373.32,297.04 373.43,297.07 373.55,297.10 373.67,297.13 373.79,297.16 373.91,297.20 374.03,297.24 374.15,297.28 374.27,297.31 374.39,297.36 374.51,297.40 374.63,297.44 374.75,297.48 374.87,297.53 374.99,297.58 375.11,297.62 375.23,297.67 375.35,297.72 375.47,297.77 375.59,297.83 375.71,297.88 375.83,297.93 375.95,297.99 376.07,298.04 376.18,298.10 376.30,298.16 376.42,298.22 376.54,298.28 376.66,298.34 376.78,298.40 376.90,298.46 377.02,298.53 377.14,298.59 377.26,298.66 377.38,298.72 377.50,298.79 377.62,298.86 377.74,298.93 377.86,299.00 377.98,299.07 378.10,299.14 378.22,299.21 378.34,299.28 378.46,299.35 378.58,299.42 378.70,299.50 378.81,299.57 378.93,299.65 379.05,299.72 379.17,299.80 379.29,299.88 379.41,299.95 379.53,300.03 379.65,300.11 379.77,300.19 379.89,300.27 380.01,300.35 380.13,300.43 380.25,300.51 380.37,300.59 380.49,300.67 380.61,300.75 380.73,300.83 380.85,300.91 380.97,300.99 381.56,301.41 382.16,301.84 382.76,302.33 383.36,302.88 383.96,303.48 384.55,304.13 385.15,304.83 385.75,305.57 386.35,306.35 386.94,307.16 387.54,307.99 388.14,308.86 388.74,309.74 389.34,310.64 389.93,311.55 390.53,312.47 391.13,313.39 391.73,314.31 392.33,315.23 392.92,316.13 393.52,317.02 394.12,317.90 394.72,318.78 395.31,319.67 395.91,320.57 396.51,321.49 397.11,322.42 397.71,323.37 398.30,324.34 398.90,325.34 399.50,326.36 400.10,327.42 400.69,328.51 401.29,329.65 401.89,330.91 402.49,332.25 403.09,333.64 403.68,335.05 404.28,336.44 404.88,337.76 405.48,339.00 406.07,340.12 406.67,341.20 407.27,342.21 407.87,343.11 408.47,343.89 409.06,344.63 409.66,345.32 410.26,345.98 410.86,346.61 411.45,347.21 412.05,347.79 412.65,348.35 413.25,348.90 413.85,349.44 414.44,349.98 415.04,350.52 415.64,351.06 416.24,351.61 416.83,352.18 417.43,352.76 418.03,353.36 418.63,353.98 419.23,354.60 419.82,355.24 420.42,355.87 421.02,356.51 421.62,357.15 422.22,357.78 422.81,358.41 423.41,359.03 424.01,359.63 424.61,360.22 425.20,360.79 425.80,361.34 426.40,361.87 427.00,362.37 427.60,362.86 428.19,363.40 428.79,363.94 429.39,364.49 429.99,365.01 430.58,365.49 431.18,365.90 431.78,366.22 432.38,366.44 432.98,366.53 433.27,366.53" stroke="#1f77b4" stroke-dasharray="2.5 2.3"/>
<path d="M433.27,366.53 433.57,366.51 434.17,366.40 434.77,366.22 435.37,365.98 435.96,365.69 436.56,365.37 437.16,365.01 437.76,364.63 438.36,364.24 438.95,363.85 439.55,363.48 440.15,363.12 440.75,362.78 441.34,362.49 441.94,362.23 442.54,361.97 443.14,361.72 443.74,361.47 444.33,361.22 444.93,360.98 445.53,360.74 446.13,360.50 446.73,360.26 448.22,359.68 449.71,359.10 451.21,358.52 452.70,357.94 454.20,357.34 455.69,356.74 457.19,356.13 458.68,355.53 460.18,354.93 461.67,354.33 463.16,353.73 464.66,353.14 466.15,352.55 467.65,351.96 469.14,351.35 470.64,350.74 472.13,350.13 473.63,349.53 475.12,348.93 476.62,348.34 478.11,347.77 479.60,347.22 481.10,346.69 482.59,346.19 484.09,345.71 485.58,345.27 487.08,344.84 488.57,344.43 490.07,344.03 491.56,343.64 493.05,343.26 494.55,342.90 496.04,342.54 497.54,342.19 499.03,341.85 500.53,341.51 502.02,341.17 503.52,340.84 505.01,340.50 506.50,340.16 508.00,339.83 509.49,339.50 510.99,339.19 512.48,338.91 513.98,338.65 515.47,338.42 516.97,338.22 518.46,338.04 519.96,337.87 521.45,337.72 522.94,337.57 524.44,337.42 525.93,337.27 527.43,337.11 528.92,336.94 530.42,336.76 531.91,336.57 533.41,336.38 534.90,336.18 536.39,335.98 537.89,335.77 539.38,335.56 540.88,335.33 542.37,335.10 543.87,334.86 545.36,334.61 546.86,334.35 548.35,334.04 549.85,333.69 551.34,333.31 552.83,332.91 554.33,332.50 555.82,332.08 557.32,331.65 558.81,331.23 560.31,330.82 561.80,330.44 563.30,330.08 564.79,329.76 566.28,329.47 567.78,329.24 569.27,329.06 570.77,328.94 572.26,328.83 573.76,328.72 575.25,328.62 576.75,328.53 578.24,328.44 579.74,328.36 581.23,328.28 582.72,328.21 584.22,328.14 585.71,328.08 587.21,328.02 588.70,327.96 590.20,327.90 591.69,327.85 593.19,327.79 594.68,327.74 596.17,327.69 597.67,327.64 599.16,327.59 600.66,327.53 602.15,327.48 603.65,327.42 605.14,327.36 606.64,327.30 608.13,327.24 609.63,327.17 611.12,327.11 612.61,327.06 614.11,327.00 615.60,326.95 617.10,326.90 618.59,326.85 620.09,326.80 621.58,326.75 623.08,326.70 624.57,326.64 626.06,326.59 627.56,326.54 629.05,326.48 630.55,326.42 632.04,326.35 633.54,326.28 635.03,326.21 636.53,326.13 638.02,326.04 639.52,325.95 641.01,325.85 642.50,325.73 644.00,325.56 645.49,325.34 646.99,325.09 648.48,324.82 649.98,324.55 651.47,324.28 652.97,324.02 654.46,323.80 655.95,323.61 657.45,323.47 658.94,323.39 660.44,323.31 661.93,323.24 663.43,323.17 664.92,323.11 666.42,323.06 667.91,323.03 669.41,323.00 670.90,322.99" stroke="#1f77b4" stroke-dasharray="2.68 4.42"/>
<path d="M372.00,469.55 372.12,416.45 372.24,409.60 372.36,404.53 372.48,400.93 372.60,398.48 372.72,396.84 372.84,395.70 372.96,394.74 373.08,393.86 373.20,393.06 373.32,392.33 373.43,391.66 373.55,391.05 373.67,390.51 373.79,390.01 373.91,389.57 374.03,389.17 374.15,388.81 374.27,388.49 374.39,388.19 374.51,387.93 374.63,387.69 374.69,387.58" stroke="#ff7f0e" stroke-dasharray="2.68 2.1"/>
<path d="M374.69,387.58 374.75,387.47 374.87,387.27 374.99,387.08 375.11,386.89 375.23,386.72 375.35,386.55 375.47,386.39 375.59,386.24 375.71,386.10 375.83,385.96 375.95,385.83 376.07,385.71 376.18,385.59 376.30,385.48 376.42,385.37 376.54,385.26 376.66,385.16 376.78,385.06 376.90,384.97 377.02,384.87 377.14,384.78 377.26,384.69 377.38,384.60 377.50,384.51 377.62,384.41 377.74,384.32 377.86,384.23 377.98,384.13 378.10,384.03 378.22,383.93 378.34,383.83 378.46,383.72 378.58,383.62 378.70,383.51 378.81,383.40 378.93,383.28 379.05,383.17 379.17,383.06 379.29,382.94 379.41,382.82 379.53,382.71 379.65,382.59 379.77,382.47 379.89,382.35 380.01,382.23 380.13,382.11 380.25,382.00 380.37,381.88 380.49,381.76 380.61,381.64 380.73,381.52 380.85,381.40 380.97,381.29 381.56,380.72 382.16,380.19 382.76,379.70 383.36,379.29 383.96,378.95 384.55,378.71 385.15,378.59 385.75,378.75 386.35,379.92 386.94,381.48 387.09,381.83" stroke="#ff7f0e" stroke-dasharray="2.4 0.4"/>
<path d="M387.09,381.83 387.54,382.64 388.14,382.80" stroke="#ff7f0e" stroke-dasharray="2.68 4.42"/>
<path d="M388.14,382.80 388.74,382.64 389.34,382.35 389.93,381.96 390.53,381.51 391.13,381.01 391.73,380.51 392.33,380.02 392.92,379.59 393.52,379.24 394.12,378.98 394.72,378.74 395.31,378.50 395.91,378.26 396.51,378.02 397.11,377.79 397.41,377.68" stroke="#ff7f0e" stroke-dasharray="2.2 0.5"/>
<path d="M397.41,377.68 397.71,377.57 398.30,377.35 398.90,377.15 399.50,376.96 400.10,376.78 400.69,376.62 401.29,376.48 401.89,376.35 402.49,376.25 403.09,376.17 403.68,376.12 404.28,376.10 404.88,376.10 405.48,376.12 406.07,376.15 406.67,376.21 407.27,376.27 407.87,376.35 408.47,376.44 409.06,376.55 409.36,376.60" stroke="#ff7f0e" stroke-dasharray="1.3 0.45"/>
<path d="M409.36,376.60 409.66,376.66 410.26,376.78 410.86,376.91 411.45,377.05 412.05,377.19 412.65,377.33 413.25,377.48 413.85,377.63 414.44,377.79 415.04,377.94 415.64,378.09 416.24,378.24 416.83,378.38 417.43,378.52 418.03,378.66 418.63,378.81 419.23,378.97 419.82,379.14 420.42,379.31 421.02,379.49 421.62,379.67 422.22,379.85 422.81,380.03 423.41,380.22 424.01,380.39 424.61,380.57 425.20,380.74 425.80,380.90 426.40,381.05 427.00,381.19 427.60,381.32 428.19,381.47 428.79,381.62 429.39,381.76 429.99,381.89 430.58,382.00 431.18,382.07 431.78,382.11" stroke="#ff7f0e" stroke-dasharray="1.1 1.7"/>
<path d="M431.78,382.11 432.38,382.04 432.98,381.75 433.57,381.29 434.17,380.70 434.77,380.03 435.37,379.34 435.96,378.67 436.56,378.08 437.16,377.57 437.76,377.06 438.36,376.54 438.95,376.03 439.55,375.52 440.15,375.02 440.75,374.53 441.34,374.06 441.94,373.60 442.54,373.17 443.14,372.76 443.74,372.36 444.33,371.98 444.93,371.62 445.53,371.26 446.13,370.91 446.73,370.57 448.22,369.73 449.71,368.90 451.21,368.08 452.70,367.27 454.20,366.48 455.69,365.71 457.19,364.95 458.68,364.21 460.18,363.49 461.67,362.79 463.16,362.12 464.66,361.48 466.15,360.86 467.65,360.24 469.14,359.65 470.64,359.06 472.13,358.48 473.63,357.93 475.12,357.38 476.62,356.86 478.11,356.36 479.60,355.87 481.10,355.41 482.59,354.97 484.09,354.56 485.58,354.17 487.08,353.80 488.57,353.45 490.07,353.11 491.56,352.79 493.05,352.48 494.55,352.17 496.04,351.88 497.54,351.58 499.03,351.29 500.53,351.00 502.02,350.70 503.52,350.40 505.01,350.09 506.50,349.76 508.00,349.44 509.49,349.12 510.99,348.82 512.48,348.54 513.98,348.29 515.47,348.07 516.97,347.87 518.46,347.69 519.96,347.52 521.45,347.36 522.94,347.20 524.44,347.06 525.93,346.92 527.43,346.78 528.92,346.64 530.42,346.50 531.91,346.37 533.41,346.24 534.90,346.11 536.39,345.99 537.89,345.86 539.38,345.74 540.88,345.63 542.37,345.51 543.87,345.40 545.36,345.28 546.86,345.17 548.35,345.06 549.85,344.95 551.34,344.84 552.83,344.73 554.33,344.62 555.82,344.50 557.32,344.39 558.81,344.28 560.31,344.16 561.80,344.04 563.30,343.92 564.79,343.80 566.28,343.67 567.78,343.54 569.27,343.41 570.77,343.28 572.26,343.14 573.76,343.01 575.25,342.87 576.75,342.73 578.24,342.60 579.74,342.46 581.23,342.32 582.72,342.18 584.22,342.05 585.71,341.91 587.21,341.78 588.70,341.64 590.20,341.51 591.69,341.38 593.19,341.25 594.68,341.13 596.17,341.01 597.67,340.89 599.16,340.77 600.66,340.66 602.15,340.55 603.65,340.44 605.14,340.34 606.64,340.25 608.13,340.16 609.63,340.07 611.12,339.98 612.61,339.89 614.11,339.80 615.60,339.72 617.10,339.63 618.59,339.55 620.09,339.46 621.58,339.38 623.08,339.30 624.57,339.21 626.06,339.13 627.56,339.05 629.05,338.97 630.55,338.90 632.04,338.82 633.54,338.74 635.03,338.67 636.53,338.59 638.02,338.52 639.52,338.45 641.01,338.38 642.50,338.31 644.00,338.25 645.49,338.18 646.99,338.12 648.48,338.06 649.98,337.99 651.47,337.94 652.97,337.88 654.46,337.82 655.95,337.77 657.45,337.72 658.94,337.67 660.44,337.62 661.93,337.57 663.43,337.52 664.92,337.48 666.42,337.44 667.91,337.40 669.41,337.37 670.90,337.33" stroke="#ff7f0e" stroke-dasharray="2.68 4.42"/>
<path d="M372.00,292.55 372.12,292.55 372.24,292.55 372.36,292.55 372.48,292.55 372.60,292.55 372.72,292.55 372.84,292.55 372.96,292.55 373.08,292.55 373.20,292.55 373.32,292.55 373.43,292.55 373.55,292.55 373.67,292.55 373.79,292.55 373.91,292.55 374.03,292.55 374.15,292.55 374.27,292.55 374.39,292.55 374.51,292.55 374.63,292.55 374.75,292.55 374.87,292.55 374.99,292.55 375.11,292.55 375.23,292.57 375.35,292.59 375.47,292.62 375.59,292.65 375.71,292.70 375.83,292.75 375.95,292.81 376.07,292.88 376.18,292.95 376.30,293.03 376.42,293.12 376.54,293.21 376.66,293.31 376.78,293.41 376.90,293.52 377.02,293.64 377.14,293.76 377.26,293.88 377.38,294.01 377.50,294.15 377.62,294.29 377.74,294.43 377.86,294.58 377.98,294.73 378.10,294.89 378.22,295.04 378.34,295.21 378.46,295.37 378.58,295.54 378.70,295.71 378.81,295.88 378.93,296.05 379.05,296.23 379.17,296.41 379.29,296.59 379.41,296.77 379.53,296.95 379.65,297.13 379.77,297.31 379.89,297.50 380.01,297.68 380.13,297.87 380.25,298.05 380.37,298.23 380.49,298.42 380.61,298.60 380.73,298.78 380.85,298.96 380.97,299.14 381.56,300.01 382.16,300.83 382.76,301.67 383.36,302.53 383.96,303.41 384.55,304.31 385.15,305.24 385.75,306.20 386.35,307.17 386.94,308.17 387.54,309.20 388.14,310.25 388.74,311.32 389.34,312.41 389.93,313.53 390.53,314.68 391.13,315.85 391.73,317.04 392.33,318.26 392.92,319.51 393.52,320.77 394.12,322.11 394.72,323.62 395.31,325.23 395.91,326.85 396.51,328.38 397.11,329.76 397.71,331.11 398.30,332.43 398.90,333.72 399.50,334.97 400.10,336.18 400.69,337.33 401.29,338.41 401.89,339.43 402.49,340.36 403.09,341.24 403.68,342.07 404.28,342.85 404.88,343.60 405.48,344.33 406.07,345.05 406.67,345.76 407.27,346.47 407.87,347.20 408.47,347.94 409.06,348.68 409.66,349.43 410.26,350.17 410.86,350.91 411.45,351.65 412.05,352.38 412.65,353.11 413.25,353.83 413.85,354.55 414.44,355.26 415.04,355.96 415.64,356.66 416.24,357.34 416.83,358.01 417.43,358.67 418.03,359.33 418.63,359.99 419.23,360.64 419.82,361.30 420.42,361.96 421.02,362.61 421.62,363.25 422.22,363.89 422.81,364.51 423.41,365.11 424.01,365.70 424.61,366.27 425.20,366.82 425.80,367.34 426.40,367.84 427.00,368.30 427.60,368.76 428.19,369.25 428.79,369.74 429.39,370.22 429.99,370.69 430.58,371.10 431.18,371.47 431.78,371.75 432.38,371.94 432.98,372.02 433.27,372.02" stroke="#2ca02c" stroke-dasharray="2.5 2.3"/>
<path d="M433.27,372.02 433.57,372.00 434.17,371.92 434.77,371.78 435.37,371.60 435.96,371.37 436.56,371.12 437.16,370.84 437.76,370.55 438.36,370.25 438.95,369.94 439.55,369.64 440.15,369.36 440.75,369.10 441.34,368.86 441.94,368.64 442.54,368.43 443.14,368.22 443.74,368.01 444.33,367.80 444.93,367.60 445.53,367.39 446.13,367.19 446.73,366.99 448.22,366.49 449.71,365.98 451.21,365.48 452.70,364.98 454.20,364.47 455.69,363.94 457.19,363.41 458.68,362.88 460.18,362.35 461.67,361.83 463.16,361.34 464.66,360.87 466.15,360.44 467.65,360.01 469.14,359.61 470.64,359.21 472.13,358.83 473.63,358.45 475.12,358.09 476.62,357.73 478.11,357.37 479.60,357.02 481.10,356.67 482.59,356.32 484.09,355.97 485.58,355.61 487.08,355.27 488.57,354.93 490.07,354.59 491.56,354.25 493.05,353.92 494.55,353.59 496.04,353.26 497.54,352.93 499.03,352.61 500.53,352.28 502.02,351.96 503.52,351.64 505.01,351.30 506.50,350.96 508.00,350.61 509.49,350.27 510.99,349.95 512.48,349.64 513.98,349.37 515.47,349.13 516.97,348.91 518.46,348.72 519.96,348.54 521.45,348.37 522.94,348.21 524.44,348.05 525.93,347.89 527.43,347.73 528.92,347.56 530.42,347.38 531.91,347.20 533.41,347.01 534.90,346.82 536.39,346.62 537.89,346.42 539.38,346.23 540.88,346.03 542.37,345.83 543.87,345.63 545.36,345.43 546.86,345.23 548.35,345.03 549.85,344.83 551.34,344.64 552.83,344.44 554.33,344.25 555.82,344.07 557.32,343.89 558.81,343.71 560.31,343.54 561.80,343.37 563.30,343.21 564.79,343.06 566.28,342.90 567.78,342.75 569.27,342.60 570.77,342.45 572.26,342.30 573.76,342.15 575.25,342.01 576.75,341.87 578.24,341.72 579.74,341.59 581.23,341.45 582.72,341.31 584.22,341.18 585.71,341.04 587.21,340.91 588.70,340.78 590.20,340.65 591.69,340.52 593.19,340.39 594.68,340.27 596.17,340.14 597.67,340.02 599.16,339.90 600.66,339.77 602.15,339.65 603.65,339.53 605.14,339.42 606.64,339.30 608.13,339.18 609.63,339.06 611.12,338.95 612.61,338.83 614.11,338.72 615.60,338.60 617.10,338.49 618.59,338.38 620.09,338.26 621.58,338.15 623.08,338.04 624.57,337.93 626.06,337.82 627.56,337.71 629.05,337.60 630.55,337.49 632.04,337.39 633.54,337.28 635.03,337.18 636.53,337.07 638.02,336.97 639.52,336.86 641.01,336.76 642.50,336.66 644.00,336.56 645.49,336.46 646.99,336.36 648.48,336.26 649.98,336.16 651.47,336.07 652.97,335.97 654.46,335.88 655.95,335.78 657.45,335.69 658.94,335.60 660.44,335.51 661.93,335.42 663.43,335.33 664.92,335.25 666.42,335.16 667.91,335.07 669.41,334.99 670.90,334.91" stroke="#2ca02c" stroke-dasharray="2.68 4.42"/>
</g>
<line x1="372.00" y1="478.40" x2="372.00" y2="481.80" stroke="#000" stroke-width="1.1"/>
<text x="372.00" y="491.70" text-anchor="middle">0</text>
<line x1="431.78" y1="478.40" x2="431.78" y2="481.80" stroke="#000" stroke-width="1.1"/>
<text x="431.78" y="491.70" text-anchor="middle">2000</text>
<line x1="491.56" y1="478.40" x2="491.56" y2="481.80" stroke="#000" stroke-width="1.1"/>
<text x="491.56" y="491.70" text-anchor="middle">4000</text>
<line x1="551.34" y1="478.40" x2="551.34" y2="481.80" stroke="#000" stroke-width="1.1"/>
<text x="551.34" y="491.70" text-anchor="middle">6000</text>
<line x1="611.12" y1="478.40" x2="611.12" y2="481.80" stroke="#000" stroke-width="1.1"/>
<text x="611.12" y="491.70" text-anchor="middle">8000</text>
<line x1="670.90" y1="478.40" x2="670.90" y2="481.80" stroke="#000" stroke-width="1.1"/>
<text x="670.90" y="491.70" text-anchor="middle">10000</text>
<line x1="368.60" y1="469.55" x2="372.00" y2="469.55" stroke="#000" stroke-width="1.1"/>
<text x="366.40" y="473.00" text-anchor="end" font-size="9.5">0.0</text>
<line x1="368.60" y1="434.15" x2="372.00" y2="434.15" stroke="#000" stroke-width="1.1"/>
<text x="366.40" y="437.60" text-anchor="end" font-size="9.5">0.2</text>
<line x1="368.60" y1="398.75" x2="372.00" y2="398.75" stroke="#000" stroke-width="1.1"/>
<text x="366.40" y="402.20" text-anchor="end" font-size="9.5">0.4</text>
<line x1="368.60" y1="363.35" x2="372.00" y2="363.35" stroke="#000" stroke-width="1.1"/>
<text x="366.40" y="366.80" text-anchor="end" font-size="9.5">0.6</text>
<line x1="368.60" y1="327.95" x2="372.00" y2="327.95" stroke="#000" stroke-width="1.1"/>
<text x="366.40" y="331.40" text-anchor="end" font-size="9.5">0.8</text>
<line x1="368.60" y1="292.55" x2="372.00" y2="292.55" stroke="#000" stroke-width="1.1"/>
<text x="366.40" y="296.00" text-anchor="end" font-size="9.5">1.0</text>
<rect x="372.0" y="283.7" width="298.9" height="194.7" fill="none" stroke="#000" stroke-width="1.5"/>
<text x="521.45" y="503.70" text-anchor="middle">k</text>
<rect x="220.2" y="100.2" width="95.3" height="42.9" rx="1.8" fill="#fff" fill-opacity="0.8" stroke="#d2d2d2" stroke-width="1.05"/>
<line x1="225.0" y1="107.9" x2="242.4" y2="107.9" stroke="#2ca02c" stroke-width="2.68" stroke-linecap="square"/>
<text x="249.7" y="112.1">IMP precision</text>
<line x1="225.0" y1="120.7" x2="242.4" y2="120.7" stroke="#ff7f0e" stroke-width="2.68" stroke-linecap="square"/>
<text x="249.7" y="124.3">LP precision</text>
<line x1="225.0" y1="133.3" x2="242.4" y2="133.3" stroke="#1f77b4" stroke-width="2.68" stroke-linecap="square"/>
<text x="249.7" y="136.4">MPR precision</text>
<rect x="568.8" y="100.9" width="94.9" height="43.1" rx="1.8" fill="#fff" fill-opacity="0.8" stroke="#d2d2d2" stroke-width="1.05"/>
<line x1="580.1" y1="110.7" x2="598.2" y2="110.7" stroke="#2ca02c" stroke-width="2.68" stroke-dasharray="9.92 4.29"/>
<text x="607.5" y="113.7">IMP recall</text>
<line x1="580.1" y1="121.5" x2="598.2" y2="121.5" stroke="#ff7f0e" stroke-width="2.68" stroke-dasharray="9.92 4.29"/>
<text x="607.5" y="125.0">LP recall</text>
<line x1="580.1" y1="132.4" x2="598.2" y2="132.4" stroke="#1f77b4" stroke-width="2.68" stroke-dasharray="9.92 4.29"/>
<text x="607.5" y="135.5">MPR recall</text>
<rect x="569.1" y="364.1" width="95.5" height="43.1" rx="1.8" fill="#fff" fill-opacity="0.8" stroke="#d2d2d2" stroke-width="1.05"/>
<line x1="580.1" y1="374.3" x2="598.2" y2="374.3" stroke="#2ca02c" stroke-width="2.68" stroke-dasharray="2.68 4.42"/>
<text x="605.4" y="377.8">IMP NDCG</text>
<line x1="580.1" y1="386.2" x2="598.2" y2="386.2" stroke="#ff7f0e" stroke-width="2.68" stroke-dasharray="2.68 4.42"/>
<text x="605.4" y="389.3">LP NDCG</text>
<line x1="580.1" y1="397.6" x2="598.2" y2="397.6" stroke="#1f77b4" stroke-width="2.68" stroke-dasharray="2.68 4.42"/>
<text x="605.4" y="400.9">MPR NDCG</text>
<rect x="265.5" y="288.1" width="51.9" height="42.4" rx="1.8" fill="#fff" fill-opacity="0.8" stroke="#d2d2d2" stroke-width="1.05"/>
<rect x="269.2" y="292.5" width="18.2" height="6.2" fill="#1f77b4" fill-opacity="0.5"/>
<text x="294.5" y="298.6">MPR</text>
<rect x="269.2" y="305.4" width="18.2" height="6.2" fill="#ff7f0e" fill-opacity="0.5"/>
<text x="294.5" y="311.5">LP</text>
<rect x="269.2" y="318.8" width="18.2" height="6.2" fill="#2ca02c" fill-opacity="0.5"/>
<text x="294.5" y="324.6">IMP</text>
</g>
<g font-family="Liberation Sans, sans-serif" font-size="16.3" fill="#000" stroke="#000" stroke-width="0.25">
<text y="12.6"><tspan x="23.35" textLength="14.97" lengthAdjust="spacingAndGlyphs">A:</tspan> <tspan x="41.6" textLength="66.47" lengthAdjust="spacingAndGlyphs">Precision</tspan></text>
<text y="12.6"><tspan x="371.55" textLength="16.96" lengthAdjust="spacingAndGlyphs">B:</tspan> <tspan x="389.55" textLength="43.13" lengthAdjust="spacingAndGlyphs">Recall</tspan></text>
<text y="276.0"><tspan x="22.6" textLength="15.25" lengthAdjust="spacingAndGlyphs">C:</tspan> <tspan x="40.1" textLength="77.54" lengthAdjust="spacingAndGlyphs">Frequency</tspan> <tspan x="122.25" textLength="15.18" lengthAdjust="spacingAndGlyphs">of</tspan> <tspan x="140.75" textLength="47.79" lengthAdjust="spacingAndGlyphs">horror</tspan> <tspan x="192.6" textLength="34.39" lengthAdjust="spacingAndGlyphs">films</tspan> <tspan x="230.8" textLength="13.41" lengthAdjust="spacingAndGlyphs">at</tspan> <tspan x="247.8" textLength="33.74" lengthAdjust="spacingAndGlyphs">rank</tspan> <tspan x="285.1" textLength="9.49" lengthAdjust="spacingAndGlyphs">k</tspan></text>
<text y="276.9"><tspan x="371.75" textLength="16.98" lengthAdjust="spacingAndGlyphs">D:</tspan> <tspan x="391.6" textLength="45.48" lengthAdjust="spacingAndGlyphs">NDCG</tspan></text>
</g>
</svg>
</body></html>
